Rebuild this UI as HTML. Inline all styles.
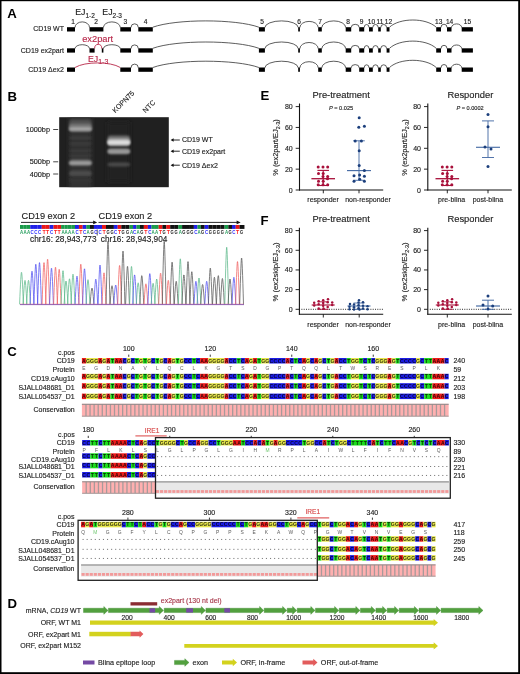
<!DOCTYPE html>
<html><head><meta charset="utf-8"><title>CD19 ex2part figure</title>
<style>
html,body{margin:0;padding:0;background:#fff;}
body{width:520px;height:674px;overflow:hidden;}
svg{display:block;font-family:"Liberation Sans", sans-serif;will-change:transform;}
text{stroke-linejoin:round;}
</style></head>
<body>
<svg width="520" height="674" viewBox="0 0 520 674" font-family='"Liberation Sans", sans-serif'>
<rect width="520" height="674" fill="#fff"/>
<rect x="0.00" y="0.00" width="520.00" height="1.20" fill="#000"/>
<rect x="0.00" y="0.00" width="1.50" height="674.00" fill="#000"/>
<rect x="518.20" y="0.00" width="1.80" height="674.00" fill="#000"/>
<rect x="0.00" y="672.20" width="520.00" height="1.80" fill="#000"/>
<text x="7.3" y="18.0" font-size="13.2" font-weight="bold" fill="#000">A</text>
<text x="7.6" y="100.6" font-size="13.2" font-weight="bold" fill="#000">B</text>
<text x="260.4" y="100.2" font-size="13.2" font-weight="bold" fill="#000">E</text>
<text x="260.4" y="225.0" font-size="13.2" font-weight="bold" fill="#000">F</text>
<text x="7.3" y="355.8" font-size="13.2" font-weight="bold" fill="#000">C</text>
<text x="7.6" y="608.2" font-size="13.2" font-weight="bold" fill="#000">D</text>
<rect x="67.00" y="27.20" width="8.00" height="4.30" fill="#000"/>
<rect x="89.50" y="27.20" width="13.90" height="4.30" fill="#000"/>
<rect x="120.30" y="27.20" width="10.70" height="4.30" fill="#000"/>
<rect x="138.30" y="27.20" width="14.50" height="4.30" fill="#000"/>
<rect x="258.90" y="27.20" width="6.00" height="4.30" fill="#000"/>
<rect x="298.20" y="27.20" width="1.70" height="4.30" fill="#000"/>
<rect x="318.20" y="27.20" width="3.60" height="4.30" fill="#000"/>
<rect x="345.70" y="27.20" width="5.50" height="4.30" fill="#000"/>
<rect x="359.20" y="27.20" width="5.00" height="4.30" fill="#000"/>
<rect x="369.00" y="27.20" width="3.80" height="4.30" fill="#000"/>
<rect x="378.20" y="27.20" width="2.60" height="4.30" fill="#000"/>
<rect x="386.60" y="27.20" width="2.90" height="4.30" fill="#000"/>
<rect x="436.20" y="27.20" width="4.80" height="4.30" fill="#000"/>
<rect x="447.00" y="27.20" width="4.50" height="4.30" fill="#000"/>
<rect x="461.70" y="27.20" width="11.20" height="4.30" fill="#000"/>
<path d="M75.00,27.50 A7.25,5.60 0 0 1 89.50,27.50" fill="none" stroke="#333" stroke-width="0.8"/>
<path d="M103.40,27.50 A8.45,5.60 0 0 1 120.30,27.50" fill="none" stroke="#333" stroke-width="0.8"/>
<path d="M131.00,27.50 A3.65,3.70 0 0 1 138.30,27.50" fill="none" stroke="#333" stroke-width="0.8"/>
<path d="M152.80,27.20 C176.14,18.80 235.56,18.80 258.90,27.20" fill="none" stroke="#333" stroke-width="0.8"/>
<path d="M264.90,27.50 A16.65,6.60 0 0 1 298.20,27.50" fill="none" stroke="#333" stroke-width="0.8"/>
<path d="M299.90,27.50 A9.15,6.10 0 0 1 318.20,27.50" fill="none" stroke="#333" stroke-width="0.8"/>
<path d="M321.80,27.50 A11.95,6.60 0 0 1 345.70,27.50" fill="none" stroke="#333" stroke-width="0.8"/>
<path d="M351.20,27.50 A4.00,3.20 0 0 1 359.20,27.50" fill="none" stroke="#333" stroke-width="0.8"/>
<path d="M364.20,27.50 A2.40,3.00 0 0 1 369.00,27.50" fill="none" stroke="#333" stroke-width="0.8"/>
<path d="M372.80,27.50 A2.70,3.00 0 0 1 378.20,27.50" fill="none" stroke="#333" stroke-width="0.8"/>
<path d="M380.80,27.50 A2.90,3.00 0 0 1 386.60,27.50" fill="none" stroke="#333" stroke-width="0.8"/>
<path d="M389.50,27.20 C399.77,17.60 425.93,17.60 436.20,27.20" fill="none" stroke="#333" stroke-width="0.8"/>
<path d="M441.00,27.50 A3.00,3.30 0 0 1 447.00,27.50" fill="none" stroke="#333" stroke-width="0.8"/>
<path d="M451.50,27.50 A5.10,3.60 0 0 1 461.70,27.50" fill="none" stroke="#333" stroke-width="0.8"/>
<rect x="67.00" y="48.30" width="8.00" height="4.30" fill="#000"/>
<rect x="89.50" y="48.30" width="5.10" height="4.30" fill="#000"/>
<rect x="101.80" y="48.30" width="1.60" height="4.30" fill="#000"/>
<path d="M94.60,48.60 A3.60,4.20 0 0 1 101.80,48.60" fill="none" stroke="#b8284a" stroke-width="0.9"/>
<rect x="120.30" y="48.30" width="10.70" height="4.30" fill="#000"/>
<rect x="138.30" y="48.30" width="14.50" height="4.30" fill="#000"/>
<rect x="258.90" y="48.30" width="6.00" height="4.30" fill="#000"/>
<rect x="298.20" y="48.30" width="1.70" height="4.30" fill="#000"/>
<rect x="318.20" y="48.30" width="3.60" height="4.30" fill="#000"/>
<rect x="345.70" y="48.30" width="5.50" height="4.30" fill="#000"/>
<rect x="359.20" y="48.30" width="5.00" height="4.30" fill="#000"/>
<rect x="369.00" y="48.30" width="3.80" height="4.30" fill="#000"/>
<rect x="378.20" y="48.30" width="2.60" height="4.30" fill="#000"/>
<rect x="386.60" y="48.30" width="2.90" height="4.30" fill="#000"/>
<rect x="436.20" y="48.30" width="4.80" height="4.30" fill="#000"/>
<rect x="447.00" y="48.30" width="4.50" height="4.30" fill="#000"/>
<rect x="461.70" y="48.30" width="11.20" height="4.30" fill="#000"/>
<path d="M75.00,48.60 A7.25,3.90 0 0 1 89.50,48.60" fill="none" stroke="#333" stroke-width="0.8"/>
<path d="M103.40,48.60 A8.45,3.90 0 0 1 120.30,48.60" fill="none" stroke="#333" stroke-width="0.8"/>
<path d="M131.00,48.60 A3.65,3.70 0 0 1 138.30,48.60" fill="none" stroke="#333" stroke-width="0.8"/>
<path d="M152.80,48.30 C176.14,39.90 235.56,39.90 258.90,48.30" fill="none" stroke="#333" stroke-width="0.8"/>
<path d="M264.90,48.60 A16.65,6.60 0 0 1 298.20,48.60" fill="none" stroke="#333" stroke-width="0.8"/>
<path d="M299.90,48.60 A9.15,6.10 0 0 1 318.20,48.60" fill="none" stroke="#333" stroke-width="0.8"/>
<path d="M321.80,48.60 A11.95,6.60 0 0 1 345.70,48.60" fill="none" stroke="#333" stroke-width="0.8"/>
<path d="M351.20,48.60 A4.00,3.20 0 0 1 359.20,48.60" fill="none" stroke="#333" stroke-width="0.8"/>
<path d="M364.20,48.60 A2.40,3.00 0 0 1 369.00,48.60" fill="none" stroke="#333" stroke-width="0.8"/>
<path d="M372.80,48.60 A2.70,3.00 0 0 1 378.20,48.60" fill="none" stroke="#333" stroke-width="0.8"/>
<path d="M380.80,48.60 A2.90,3.00 0 0 1 386.60,48.60" fill="none" stroke="#333" stroke-width="0.8"/>
<path d="M389.50,48.30 C399.77,38.70 425.93,38.70 436.20,48.30" fill="none" stroke="#333" stroke-width="0.8"/>
<path d="M441.00,48.60 A3.00,3.30 0 0 1 447.00,48.60" fill="none" stroke="#333" stroke-width="0.8"/>
<path d="M451.50,48.60 A5.10,3.60 0 0 1 461.70,48.60" fill="none" stroke="#333" stroke-width="0.8"/>
<rect x="67.00" y="67.50" width="8.00" height="4.30" fill="#000"/>
<rect x="120.30" y="67.50" width="10.70" height="4.30" fill="#000"/>
<rect x="138.30" y="67.50" width="14.50" height="4.30" fill="#000"/>
<rect x="258.90" y="67.50" width="6.00" height="4.30" fill="#000"/>
<rect x="298.20" y="67.50" width="1.70" height="4.30" fill="#000"/>
<rect x="318.20" y="67.50" width="3.60" height="4.30" fill="#000"/>
<rect x="345.70" y="67.50" width="5.50" height="4.30" fill="#000"/>
<rect x="359.20" y="67.50" width="5.00" height="4.30" fill="#000"/>
<rect x="369.00" y="67.50" width="3.80" height="4.30" fill="#000"/>
<rect x="378.20" y="67.50" width="2.60" height="4.30" fill="#000"/>
<rect x="386.60" y="67.50" width="2.90" height="4.30" fill="#000"/>
<rect x="436.20" y="67.50" width="4.80" height="4.30" fill="#000"/>
<rect x="447.00" y="67.50" width="4.50" height="4.30" fill="#000"/>
<rect x="461.70" y="67.50" width="11.20" height="4.30" fill="#000"/>
<path d="M131.00,67.80 A3.65,3.70 0 0 1 138.30,67.80" fill="none" stroke="#333" stroke-width="0.8"/>
<path d="M152.80,67.50 C176.14,59.10 235.56,59.10 258.90,67.50" fill="none" stroke="#333" stroke-width="0.8"/>
<path d="M264.90,67.80 A16.65,6.60 0 0 1 298.20,67.80" fill="none" stroke="#333" stroke-width="0.8"/>
<path d="M299.90,67.80 A9.15,6.10 0 0 1 318.20,67.80" fill="none" stroke="#333" stroke-width="0.8"/>
<path d="M321.80,67.80 A11.95,6.60 0 0 1 345.70,67.80" fill="none" stroke="#333" stroke-width="0.8"/>
<path d="M351.20,67.80 A4.00,3.20 0 0 1 359.20,67.80" fill="none" stroke="#333" stroke-width="0.8"/>
<path d="M364.20,67.80 A2.40,3.00 0 0 1 369.00,67.80" fill="none" stroke="#333" stroke-width="0.8"/>
<path d="M372.80,67.80 A2.70,3.00 0 0 1 378.20,67.80" fill="none" stroke="#333" stroke-width="0.8"/>
<path d="M380.80,67.80 A2.90,3.00 0 0 1 386.60,67.80" fill="none" stroke="#333" stroke-width="0.8"/>
<path d="M389.50,67.50 C399.77,57.90 425.93,57.90 436.20,67.50" fill="none" stroke="#333" stroke-width="0.8"/>
<path d="M441.00,67.80 A3.00,3.30 0 0 1 447.00,67.80" fill="none" stroke="#333" stroke-width="0.8"/>
<path d="M451.50,67.80 A5.10,3.60 0 0 1 461.70,67.80" fill="none" stroke="#333" stroke-width="0.8"/>
<path d="M75.00,67.50 C84.97,61.37 110.33,61.37 120.30,67.50" fill="none" stroke="#b8284a" stroke-width="0.9"/>
<text x="64" y="31.3" font-size="7" text-anchor="end" fill="#222" stroke="#222" stroke-width="0.14">CD19 WT</text>
<text x="64" y="52.6" font-size="7" text-anchor="end" fill="#222" stroke="#222" stroke-width="0.14">CD19 ex2part</text>
<text x="64" y="71.9" font-size="7" text-anchor="end" fill="#222" stroke="#222" stroke-width="0.14">CD19 &#916;ex2</text>
<text x="73" y="23.6" font-size="6.6" text-anchor="middle" fill="#222" stroke="#222" stroke-width="0.14">1</text>
<text x="96.2" y="23.6" font-size="6.6" text-anchor="middle" fill="#222" stroke="#222" stroke-width="0.14">2</text>
<text x="125.4" y="23.6" font-size="6.6" text-anchor="middle" fill="#222" stroke="#222" stroke-width="0.14">3</text>
<text x="145.6" y="23.6" font-size="6.6" text-anchor="middle" fill="#222" stroke="#222" stroke-width="0.14">4</text>
<text x="262" y="23.6" font-size="6.6" text-anchor="middle" fill="#222" stroke="#222" stroke-width="0.14">5</text>
<text x="299" y="23.6" font-size="6.6" text-anchor="middle" fill="#222" stroke="#222" stroke-width="0.14">6</text>
<text x="320" y="23.6" font-size="6.6" text-anchor="middle" fill="#222" stroke="#222" stroke-width="0.14">7</text>
<text x="348.2" y="23.6" font-size="6.6" text-anchor="middle" fill="#222" stroke="#222" stroke-width="0.14">8</text>
<text x="361.5" y="23.6" font-size="6.6" text-anchor="middle" fill="#222" stroke="#222" stroke-width="0.14">9</text>
<text x="371.5" y="23.6" font-size="6.6" text-anchor="middle" fill="#222" stroke="#222" stroke-width="0.14">10</text>
<text x="380" y="23.6" font-size="6.6" text-anchor="middle" fill="#222" stroke="#222" stroke-width="0.14">11</text>
<text x="388.5" y="23.6" font-size="6.6" text-anchor="middle" fill="#222" stroke="#222" stroke-width="0.14">12</text>
<text x="438.7" y="23.6" font-size="6.6" text-anchor="middle" fill="#222" stroke="#222" stroke-width="0.14">13</text>
<text x="449.6" y="23.6" font-size="6.6" text-anchor="middle" fill="#222" stroke="#222" stroke-width="0.14">14</text>
<text x="467.5" y="23.6" font-size="6.6" text-anchor="middle" fill="#222" stroke="#222" stroke-width="0.14">15</text>
<text x="75.2" y="15.4" font-size="8.8" fill="#222" stroke="#222" stroke-width="0.14">EJ<tspan font-size="6.5" dy="2.6">1-2</tspan></text>
<text x="102.3" y="15.4" font-size="8.8" fill="#222" stroke="#222" stroke-width="0.14">EJ<tspan font-size="6.5" dy="2.6">2-3</tspan></text>
<text x="97.7" y="41.6" font-size="9.3" text-anchor="middle" fill="#b8284a" stroke="#b8284a" stroke-width="0.14">ex2part</text>
<text x="88.0" y="61.5" font-size="8.8" fill="#b8284a" stroke="#b8284a" stroke-width="0.14">EJ<tspan font-size="6.9" dy="2.7">1-3</tspan></text>
<defs><filter id="bl" x="-30%" y="-100%" width="160%" height="300%"><feGaussianBlur stdDeviation="0.9"/></filter><filter id="bl2" x="-60%" y="-30%" width="220%" height="160%"><feGaussianBlur stdDeviation="2.2"/></filter><clipPath id="gelclip"><rect x="59.2" y="117.2" width="109.6" height="70"/></clipPath></defs>
<rect x="59.20" y="117.20" width="109.60" height="70.00" fill="#202020"/>
<g clip-path="url(#gelclip)">
<rect x="69.00" y="116.00" width="22.70" height="74.00" fill="#303030" filter="url(#bl2)"/>
<rect x="107.50" y="122.00" width="22.30" height="60.00" fill="#242424" filter="url(#bl2)"/>
<rect x="69.20" y="119.80" width="22.40" height="12.00" fill="#505050" rx="3" filter="url(#bl)"/>
<rect x="69.20" y="123.80" width="22.40" height="7.40" fill="#767676" rx="3" filter="url(#bl)"/>
<rect x="69.20" y="127.20" width="22.40" height="3.40" fill="#a8a8a8" rx="3" filter="url(#bl)"/>
<rect x="69.20" y="136.80" width="22.40" height="2.40" fill="#3c3c3c" rx="3" filter="url(#bl)"/>
<rect x="69.20" y="142.60" width="22.40" height="2.40" fill="#3c3c3c" rx="3" filter="url(#bl)"/>
<rect x="69.20" y="149.60" width="22.40" height="2.40" fill="#3a3a3a" rx="3" filter="url(#bl)"/>
<rect x="69.20" y="154.60" width="22.40" height="2.40" fill="#3a3a3a" rx="3" filter="url(#bl)"/>
<rect x="69.20" y="159.40" width="22.40" height="6.40" fill="#686868" rx="3" filter="url(#bl)"/>
<rect x="69.20" y="161.60" width="22.40" height="3.00" fill="#a4a4a4" rx="3" filter="url(#bl)"/>
<rect x="69.20" y="170.80" width="22.40" height="5.20" fill="#4c4c4c" rx="3" filter="url(#bl)"/>
<rect x="69.20" y="178.60" width="22.40" height="3.50" fill="#343434" rx="3" filter="url(#bl)"/>
<rect x="107.60" y="135.40" width="22.40" height="10.60" fill="#6c6c6c" rx="3" filter="url(#bl)"/>
<rect x="107.60" y="138.40" width="22.40" height="7.00" fill="#aaaaaa" rx="3" filter="url(#bl)"/>
<rect x="107.60" y="140.60" width="22.40" height="3.60" fill="#e2e2e2" rx="3" filter="url(#bl)"/>
<rect x="107.60" y="148.20" width="22.40" height="6.00" fill="#7e7e7e" rx="3" filter="url(#bl)"/>
<rect x="107.60" y="150.20" width="22.40" height="2.60" fill="#a2a2a2" rx="3" filter="url(#bl)"/>
<rect x="107.60" y="162.60" width="22.40" height="3.80" fill="#4a4a4a" rx="3" filter="url(#bl)"/>
</g>
<line x1="53.20" y1="129.50" x2="58.20" y2="129.50" stroke="#333" stroke-width="0.9"/>
<text x="50.0" y="132.0" font-size="7.3" text-anchor="end" fill="#222" stroke="#222" stroke-width="0.14">1000bp</text>
<line x1="53.20" y1="161.80" x2="58.20" y2="161.80" stroke="#333" stroke-width="0.9"/>
<text x="50.0" y="164.3" font-size="7.3" text-anchor="end" fill="#222" stroke="#222" stroke-width="0.14">500bp</text>
<line x1="53.20" y1="174.00" x2="58.20" y2="174.00" stroke="#333" stroke-width="0.9"/>
<text x="50.0" y="176.5" font-size="7.3" text-anchor="end" fill="#222" stroke="#222" stroke-width="0.14">400bp</text>
<line x1="172.50" y1="140.00" x2="179.80" y2="140.00" stroke="#111" stroke-width="0.9"/>
<path d="M170.6,140.00 L173.6,138.30 L173.6,141.70 Z" fill="#111"/>
<text x="182" y="142.4" font-size="7" fill="#222" stroke="#222" stroke-width="0.14">CD19 WT</text>
<line x1="172.50" y1="151.20" x2="179.80" y2="151.20" stroke="#111" stroke-width="0.9"/>
<path d="M170.6,151.20 L173.6,149.50 L173.6,152.90 Z" fill="#111"/>
<text x="182" y="153.6" font-size="7" fill="#222" stroke="#222" stroke-width="0.14">CD19 ex2part</text>
<line x1="172.50" y1="165.20" x2="179.80" y2="165.20" stroke="#111" stroke-width="0.9"/>
<path d="M170.6,165.20 L173.6,163.50 L173.6,166.90 Z" fill="#111"/>
<text x="182" y="167.6" font-size="7" fill="#222" stroke="#222" stroke-width="0.14">CD19 &#916;ex2</text>
<text x="115.2" y="113.2" font-size="7" fill="#222" stroke="#222" stroke-width="0.14" transform="rotate(-45 115.2 113.2)">KOPN75</text>
<text x="145.6" y="113.2" font-size="7" fill="#222" stroke="#222" stroke-width="0.14" transform="rotate(-45 145.6 113.2)">NTC</text>
<line x1="21.00" y1="222.40" x2="95.00" y2="222.40" stroke="#111" stroke-width="0.9"/>
<path d="M97.2,222.4 L93.2,220.6 L93.2,224.2 Z" fill="#111"/>
<line x1="98.50" y1="222.40" x2="238.00" y2="222.40" stroke="#111" stroke-width="0.9"/>
<path d="M240.6,222.4 L236.6,220.6 L236.6,224.2 Z" fill="#111"/>
<text x="21.5" y="219.2" font-size="9.2" fill="#222" stroke="#222" stroke-width="0.14">CD19 exon 2</text>
<text x="98.5" y="219.2" font-size="9.2" fill="#222" stroke="#222" stroke-width="0.14">CD19 exon 2</text>
<line x1="97.20" y1="229.50" x2="97.20" y2="235.50" stroke="#111" stroke-width="0.7"/>
<text x="30" y="241.8" font-size="8.25" fill="#222" stroke="#222" stroke-width="0.14">chr16: 28,943,773</text>
<text x="100.8" y="241.8" font-size="8.25" fill="#222" stroke="#222" stroke-width="0.14">chr16: 28,943,904</text>
<rect x="20.00" y="225.00" width="3.30" height="3.90" fill="#1a9a4a"/>
<text x="21.5" y="233.8" font-size="4.6" text-anchor="middle" font-weight="bold" fill="#2aa060" textLength="3.2" lengthAdjust="spacingAndGlyphs">A</text>
<rect x="23.25" y="225.00" width="3.55" height="3.90" fill="#1a9a4a"/>
<text x="25" y="233.8" font-size="4.6" text-anchor="middle" font-weight="bold" fill="#2aa060" textLength="3.2" lengthAdjust="spacingAndGlyphs">A</text>
<rect x="26.75" y="225.00" width="3.55" height="3.90" fill="#1a9a4a"/>
<text x="28.5" y="233.8" font-size="4.6" text-anchor="middle" font-weight="bold" fill="#2aa060" textLength="3.2" lengthAdjust="spacingAndGlyphs">A</text>
<rect x="30.25" y="225.00" width="3.70" height="3.90" fill="#2020e8"/>
<text x="32" y="233.8" font-size="4.6" text-anchor="middle" font-weight="bold" fill="#3030ff" textLength="3.2" lengthAdjust="spacingAndGlyphs">C</text>
<rect x="33.90" y="225.00" width="3.80" height="3.90" fill="#2020e8"/>
<text x="35.8" y="233.8" font-size="4.6" text-anchor="middle" font-weight="bold" fill="#3030ff" textLength="3.2" lengthAdjust="spacingAndGlyphs">C</text>
<rect x="37.65" y="225.00" width="4.15" height="3.90" fill="#2020e8"/>
<text x="39.5" y="233.8" font-size="4.6" text-anchor="middle" font-weight="bold" fill="#3030ff" textLength="3.2" lengthAdjust="spacingAndGlyphs">C</text>
<rect x="41.75" y="225.00" width="4.10" height="3.90" fill="#e81818"/>
<text x="44" y="233.8" font-size="4.6" text-anchor="middle" font-weight="bold" fill="#ff2020" textLength="3.2" lengthAdjust="spacingAndGlyphs">T</text>
<rect x="45.80" y="225.00" width="3.80" height="3.90" fill="#e81818"/>
<text x="47.6" y="233.8" font-size="4.6" text-anchor="middle" font-weight="bold" fill="#ff2020" textLength="3.2" lengthAdjust="spacingAndGlyphs">T</text>
<rect x="49.55" y="225.00" width="4.00" height="3.90" fill="#2020e8"/>
<text x="51.5" y="233.8" font-size="4.6" text-anchor="middle" font-weight="bold" fill="#3030ff" textLength="3.2" lengthAdjust="spacingAndGlyphs">C</text>
<rect x="53.50" y="225.00" width="3.90" height="3.90" fill="#e81818"/>
<text x="55.5" y="233.8" font-size="4.6" text-anchor="middle" font-weight="bold" fill="#ff2020" textLength="3.2" lengthAdjust="spacingAndGlyphs">T</text>
<rect x="57.35" y="225.00" width="3.80" height="3.90" fill="#e81818"/>
<text x="59.2" y="233.8" font-size="4.6" text-anchor="middle" font-weight="bold" fill="#ff2020" textLength="3.2" lengthAdjust="spacingAndGlyphs">T</text>
<rect x="61.10" y="225.00" width="3.45" height="3.90" fill="#1a9a4a"/>
<text x="63" y="233.8" font-size="4.6" text-anchor="middle" font-weight="bold" fill="#2aa060" textLength="3.2" lengthAdjust="spacingAndGlyphs">A</text>
<rect x="64.50" y="225.00" width="3.30" height="3.90" fill="#1a9a4a"/>
<text x="66" y="233.8" font-size="4.6" text-anchor="middle" font-weight="bold" fill="#2aa060" textLength="3.2" lengthAdjust="spacingAndGlyphs">A</text>
<rect x="67.75" y="225.00" width="3.55" height="3.90" fill="#1a9a4a"/>
<text x="69.5" y="233.8" font-size="4.6" text-anchor="middle" font-weight="bold" fill="#2aa060" textLength="3.2" lengthAdjust="spacingAndGlyphs">A</text>
<rect x="71.25" y="225.00" width="3.80" height="3.90" fill="#1a9a4a"/>
<text x="73" y="233.8" font-size="4.6" text-anchor="middle" font-weight="bold" fill="#2aa060" textLength="3.2" lengthAdjust="spacingAndGlyphs">A</text>
<rect x="75.00" y="225.00" width="3.95" height="3.90" fill="#2020e8"/>
<text x="77" y="233.8" font-size="4.6" text-anchor="middle" font-weight="bold" fill="#3030ff" textLength="3.2" lengthAdjust="spacingAndGlyphs">C</text>
<rect x="78.90" y="225.00" width="3.80" height="3.90" fill="#e81818"/>
<text x="80.8" y="233.8" font-size="4.6" text-anchor="middle" font-weight="bold" fill="#ff2020" textLength="3.2" lengthAdjust="spacingAndGlyphs">T</text>
<rect x="82.65" y="225.00" width="3.65" height="3.90" fill="#2020e8"/>
<text x="84.5" y="233.8" font-size="4.6" text-anchor="middle" font-weight="bold" fill="#3030ff" textLength="3.2" lengthAdjust="spacingAndGlyphs">C</text>
<rect x="86.25" y="225.00" width="3.80" height="3.90" fill="#1a9a4a"/>
<text x="88" y="233.8" font-size="4.6" text-anchor="middle" font-weight="bold" fill="#2aa060" textLength="3.2" lengthAdjust="spacingAndGlyphs">A</text>
<rect x="90.00" y="225.00" width="3.95" height="3.90" fill="#111"/>
<text x="92" y="233.8" font-size="4.6" text-anchor="middle" font-weight="bold" fill="#222" textLength="3.2" lengthAdjust="spacingAndGlyphs">G</text>
<rect x="93.90" y="225.00" width="4.05" height="3.90" fill="#2020e8"/>
<text x="95.8" y="233.8" font-size="4.6" text-anchor="middle" font-weight="bold" fill="#3030ff" textLength="3.2" lengthAdjust="spacingAndGlyphs">C</text>
<rect x="97.90" y="225.00" width="4.15" height="3.90" fill="#2020e8"/>
<text x="100" y="233.8" font-size="4.6" text-anchor="middle" font-weight="bold" fill="#3030ff" textLength="3.2" lengthAdjust="spacingAndGlyphs">C</text>
<rect x="102.00" y="225.00" width="4.05" height="3.90" fill="#e81818"/>
<text x="104" y="233.8" font-size="4.6" text-anchor="middle" font-weight="bold" fill="#ff2020" textLength="3.2" lengthAdjust="spacingAndGlyphs">T</text>
<rect x="106.00" y="225.00" width="4.05" height="3.90" fill="#111"/>
<text x="108" y="233.8" font-size="4.6" text-anchor="middle" font-weight="bold" fill="#222" textLength="3.2" lengthAdjust="spacingAndGlyphs">G</text>
<rect x="110.00" y="225.00" width="3.90" height="3.90" fill="#111"/>
<text x="112" y="233.8" font-size="4.6" text-anchor="middle" font-weight="bold" fill="#222" textLength="3.2" lengthAdjust="spacingAndGlyphs">G</text>
<rect x="113.85" y="225.00" width="3.85" height="3.90" fill="#2020e8"/>
<text x="115.7" y="233.8" font-size="4.6" text-anchor="middle" font-weight="bold" fill="#3030ff" textLength="3.2" lengthAdjust="spacingAndGlyphs">C</text>
<rect x="117.65" y="225.00" width="3.70" height="3.90" fill="#e81818"/>
<text x="119.6" y="233.8" font-size="4.6" text-anchor="middle" font-weight="bold" fill="#ff2020" textLength="3.2" lengthAdjust="spacingAndGlyphs">T</text>
<rect x="121.30" y="225.00" width="4.00" height="3.90" fill="#111"/>
<text x="123" y="233.8" font-size="4.6" text-anchor="middle" font-weight="bold" fill="#222" textLength="3.2" lengthAdjust="spacingAndGlyphs">G</text>
<rect x="125.25" y="225.00" width="4.30" height="3.90" fill="#111"/>
<text x="127.5" y="233.8" font-size="4.6" text-anchor="middle" font-weight="bold" fill="#222" textLength="3.2" lengthAdjust="spacingAndGlyphs">G</text>
<rect x="129.50" y="225.00" width="3.60" height="3.90" fill="#1a9a4a"/>
<text x="131.5" y="233.8" font-size="4.6" text-anchor="middle" font-weight="bold" fill="#2aa060" textLength="3.2" lengthAdjust="spacingAndGlyphs">A</text>
<rect x="133.05" y="225.00" width="3.40" height="3.90" fill="#2020e8"/>
<text x="134.6" y="233.8" font-size="4.6" text-anchor="middle" font-weight="bold" fill="#3030ff" textLength="3.2" lengthAdjust="spacingAndGlyphs">C</text>
<rect x="136.40" y="225.00" width="3.65" height="3.90" fill="#1a9a4a"/>
<text x="138.2" y="233.8" font-size="4.6" text-anchor="middle" font-weight="bold" fill="#2aa060" textLength="3.2" lengthAdjust="spacingAndGlyphs">A</text>
<rect x="140.00" y="225.00" width="3.90" height="3.90" fill="#111"/>
<text x="141.8" y="233.8" font-size="4.6" text-anchor="middle" font-weight="bold" fill="#222" textLength="3.2" lengthAdjust="spacingAndGlyphs">G</text>
<rect x="143.85" y="225.00" width="4.05" height="3.90" fill="#e81818"/>
<text x="145.9" y="233.8" font-size="4.6" text-anchor="middle" font-weight="bold" fill="#ff2020" textLength="3.2" lengthAdjust="spacingAndGlyphs">T</text>
<rect x="147.85" y="225.00" width="3.65" height="3.90" fill="#2020e8"/>
<text x="149.8" y="233.8" font-size="4.6" text-anchor="middle" font-weight="bold" fill="#3030ff" textLength="3.2" lengthAdjust="spacingAndGlyphs">C</text>
<rect x="151.45" y="225.00" width="3.50" height="3.90" fill="#1a9a4a"/>
<text x="153.1" y="233.8" font-size="4.6" text-anchor="middle" font-weight="bold" fill="#2aa060" textLength="3.2" lengthAdjust="spacingAndGlyphs">A</text>
<rect x="154.90" y="225.00" width="3.80" height="3.90" fill="#1a9a4a"/>
<text x="156.7" y="233.8" font-size="4.6" text-anchor="middle" font-weight="bold" fill="#2aa060" textLength="3.2" lengthAdjust="spacingAndGlyphs">A</text>
<rect x="158.65" y="225.00" width="3.80" height="3.90" fill="#e81818"/>
<text x="160.6" y="233.8" font-size="4.6" text-anchor="middle" font-weight="bold" fill="#ff2020" textLength="3.2" lengthAdjust="spacingAndGlyphs">T</text>
<rect x="162.40" y="225.00" width="3.90" height="3.90" fill="#111"/>
<text x="164.2" y="233.8" font-size="4.6" text-anchor="middle" font-weight="bold" fill="#222" textLength="3.2" lengthAdjust="spacingAndGlyphs">G</text>
<rect x="166.25" y="225.00" width="4.00" height="3.90" fill="#e81818"/>
<text x="168.3" y="233.8" font-size="4.6" text-anchor="middle" font-weight="bold" fill="#ff2020" textLength="3.2" lengthAdjust="spacingAndGlyphs">T</text>
<rect x="170.20" y="225.00" width="4.00" height="3.90" fill="#111"/>
<text x="172.1" y="233.8" font-size="4.6" text-anchor="middle" font-weight="bold" fill="#222" textLength="3.2" lengthAdjust="spacingAndGlyphs">G</text>
<rect x="174.15" y="225.00" width="4.15" height="3.90" fill="#111"/>
<text x="176.2" y="233.8" font-size="4.6" text-anchor="middle" font-weight="bold" fill="#222" textLength="3.2" lengthAdjust="spacingAndGlyphs">G</text>
<rect x="178.25" y="225.00" width="3.90" height="3.90" fill="#1a9a4a"/>
<text x="180.3" y="233.8" font-size="4.6" text-anchor="middle" font-weight="bold" fill="#2aa060" textLength="3.2" lengthAdjust="spacingAndGlyphs">A</text>
<rect x="182.10" y="225.00" width="3.90" height="3.90" fill="#111"/>
<text x="183.9" y="233.8" font-size="4.6" text-anchor="middle" font-weight="bold" fill="#222" textLength="3.2" lengthAdjust="spacingAndGlyphs">G</text>
<rect x="185.95" y="225.00" width="4.00" height="3.90" fill="#111"/>
<text x="188" y="233.8" font-size="4.6" text-anchor="middle" font-weight="bold" fill="#222" textLength="3.2" lengthAdjust="spacingAndGlyphs">G</text>
<rect x="189.90" y="225.00" width="4.00" height="3.90" fill="#111"/>
<text x="191.8" y="233.8" font-size="4.6" text-anchor="middle" font-weight="bold" fill="#222" textLength="3.2" lengthAdjust="spacingAndGlyphs">G</text>
<rect x="193.85" y="225.00" width="3.65" height="3.90" fill="#2020e8"/>
<text x="195.9" y="233.8" font-size="4.6" text-anchor="middle" font-weight="bold" fill="#3030ff" textLength="3.2" lengthAdjust="spacingAndGlyphs">C</text>
<rect x="197.45" y="225.00" width="3.40" height="3.90" fill="#1a9a4a"/>
<text x="199" y="233.8" font-size="4.6" text-anchor="middle" font-weight="bold" fill="#2aa060" textLength="3.2" lengthAdjust="spacingAndGlyphs">A</text>
<rect x="200.80" y="225.00" width="3.90" height="3.90" fill="#111"/>
<text x="202.6" y="233.8" font-size="4.6" text-anchor="middle" font-weight="bold" fill="#222" textLength="3.2" lengthAdjust="spacingAndGlyphs">G</text>
<rect x="204.65" y="225.00" width="3.90" height="3.90" fill="#2020e8"/>
<text x="206.7" y="233.8" font-size="4.6" text-anchor="middle" font-weight="bold" fill="#3030ff" textLength="3.2" lengthAdjust="spacingAndGlyphs">C</text>
<rect x="208.50" y="225.00" width="3.90" height="3.90" fill="#111"/>
<text x="210.3" y="233.8" font-size="4.6" text-anchor="middle" font-weight="bold" fill="#222" textLength="3.2" lengthAdjust="spacingAndGlyphs">G</text>
<rect x="212.35" y="225.00" width="4.05" height="3.90" fill="#111"/>
<text x="214.4" y="233.8" font-size="4.6" text-anchor="middle" font-weight="bold" fill="#222" textLength="3.2" lengthAdjust="spacingAndGlyphs">G</text>
<rect x="216.35" y="225.00" width="4.05" height="3.90" fill="#111"/>
<text x="218.3" y="233.8" font-size="4.6" text-anchor="middle" font-weight="bold" fill="#222" textLength="3.2" lengthAdjust="spacingAndGlyphs">G</text>
<rect x="220.35" y="225.00" width="4.25" height="3.90" fill="#111"/>
<text x="222.4" y="233.8" font-size="4.6" text-anchor="middle" font-weight="bold" fill="#222" textLength="3.2" lengthAdjust="spacingAndGlyphs">G</text>
<rect x="224.55" y="225.00" width="3.85" height="3.90" fill="#1a9a4a"/>
<text x="226.7" y="233.8" font-size="4.6" text-anchor="middle" font-weight="bold" fill="#2aa060" textLength="3.2" lengthAdjust="spacingAndGlyphs">A</text>
<rect x="228.35" y="225.00" width="3.65" height="3.90" fill="#111"/>
<text x="230" y="233.8" font-size="4.6" text-anchor="middle" font-weight="bold" fill="#222" textLength="3.2" lengthAdjust="spacingAndGlyphs">G</text>
<rect x="231.95" y="225.00" width="3.80" height="3.90" fill="#2020e8"/>
<text x="233.9" y="233.8" font-size="4.6" text-anchor="middle" font-weight="bold" fill="#3030ff" textLength="3.2" lengthAdjust="spacingAndGlyphs">C</text>
<rect x="235.70" y="225.00" width="3.90" height="3.90" fill="#e81818"/>
<text x="237.5" y="233.8" font-size="4.6" text-anchor="middle" font-weight="bold" fill="#ff2020" textLength="3.2" lengthAdjust="spacingAndGlyphs">T</text>
<rect x="239.55" y="225.00" width="4.90" height="3.90" fill="#111"/>
<text x="241.6" y="233.8" font-size="4.6" text-anchor="middle" font-weight="bold" fill="#222" textLength="3.2" lengthAdjust="spacingAndGlyphs">G</text>
<path d="M19.60,304.3 Q20.95,270.80 21.50,272.30 Q22.05,270.80 23.40,304.3" fill="none" stroke="#5cb88a" stroke-width="0.75"/>
<path d="M23.10,304.3 Q24.45,278.90 25.00,280.40 Q25.55,278.90 26.90,304.3" fill="none" stroke="#5cb88a" stroke-width="0.75"/>
<path d="M26.60,304.3 Q27.95,278.90 28.50,280.40 Q29.05,278.90 30.40,304.3" fill="none" stroke="#5cb88a" stroke-width="0.75"/>
<path d="M30.10,304.3 Q31.45,269.70 32.00,271.20 Q32.55,269.70 33.90,304.3" fill="none" stroke="#5050f0" stroke-width="0.75"/>
<path d="M33.90,304.3 Q35.25,262.70 35.80,264.20 Q36.35,262.70 37.70,304.3" fill="none" stroke="#5050f0" stroke-width="0.75"/>
<path d="M37.60,304.3 Q38.95,261.10 39.50,262.60 Q40.05,261.10 41.40,304.3" fill="none" stroke="#5050f0" stroke-width="0.75"/>
<path d="M42.10,304.3 Q43.45,261.10 44.00,262.60 Q44.55,261.10 45.90,304.3" fill="none" stroke="#f06060" stroke-width="0.75"/>
<path d="M45.70,304.3 Q47.05,257.70 47.60,259.20 Q48.15,257.70 49.50,304.3" fill="none" stroke="#f06060" stroke-width="0.75"/>
<path d="M49.60,304.3 Q50.95,266.70 51.50,268.20 Q52.05,266.70 53.40,304.3" fill="none" stroke="#5050f0" stroke-width="0.75"/>
<path d="M53.60,304.3 Q54.95,265.70 55.50,267.20 Q56.05,265.70 57.40,304.3" fill="none" stroke="#f06060" stroke-width="0.75"/>
<path d="M57.30,304.3 Q58.65,267.80 59.20,269.30 Q59.75,267.80 61.10,304.3" fill="none" stroke="#f06060" stroke-width="0.75"/>
<path d="M61.10,304.3 Q62.45,269.20 63.00,270.70 Q63.55,269.20 64.90,304.3" fill="none" stroke="#5cb88a" stroke-width="0.75"/>
<path d="M64.10,304.3 Q65.45,279.50 66.00,281.00 Q66.55,279.50 67.90,304.3" fill="none" stroke="#5cb88a" stroke-width="0.75"/>
<path d="M67.60,304.3 Q68.95,277.30 69.50,278.80 Q70.05,277.30 71.40,304.3" fill="none" stroke="#5cb88a" stroke-width="0.75"/>
<path d="M71.10,304.3 Q72.45,272.70 73.00,274.20 Q73.55,272.70 74.90,304.3" fill="none" stroke="#5cb88a" stroke-width="0.75"/>
<path d="M75.10,304.3 Q76.45,274.70 77.00,276.20 Q77.55,274.70 78.90,304.3" fill="none" stroke="#5050f0" stroke-width="0.75"/>
<path d="M78.90,304.3 Q80.25,262.70 80.80,264.20 Q81.35,262.70 82.70,304.3" fill="none" stroke="#f06060" stroke-width="0.75"/>
<path d="M82.60,304.3 Q83.95,267.30 84.50,268.80 Q85.05,267.30 86.40,304.3" fill="none" stroke="#5050f0" stroke-width="0.75"/>
<path d="M86.10,304.3 Q87.45,278.20 88.00,279.70 Q88.55,278.20 89.90,304.3" fill="none" stroke="#5cb88a" stroke-width="0.75"/>
<path d="M90.10,304.3 Q91.45,286.50 92.00,288.00 Q92.55,286.50 93.90,304.3" fill="none" stroke="#555" stroke-width="0.75"/>
<path d="M93.90,304.3 Q95.25,277.70 95.80,279.20 Q96.35,277.70 97.70,304.3" fill="none" stroke="#5050f0" stroke-width="0.75"/>
<path d="M98.10,304.3 Q99.45,263.50 100.00,265.00 Q100.55,263.50 101.90,304.3" fill="none" stroke="#5050f0" stroke-width="0.75"/>
<path d="M102.10,304.3 Q103.45,271.30 104.00,272.80 Q104.55,271.30 105.90,304.3" fill="none" stroke="#f06060" stroke-width="0.75"/>
<path d="M106.10,304.3 Q107.45,239.70 108.00,241.20 Q108.55,239.70 109.90,304.3" fill="none" stroke="#555" stroke-width="0.75"/>
<path d="M110.10,304.3 Q111.45,284.20 112.00,285.70 Q112.55,284.20 113.90,304.3" fill="none" stroke="#555" stroke-width="0.75"/>
<path d="M113.80,304.3 Q115.15,283.50 115.70,285.00 Q116.25,283.50 117.60,304.3" fill="none" stroke="#5050f0" stroke-width="0.75"/>
<path d="M117.70,304.3 Q119.05,263.90 119.60,265.40 Q120.15,263.90 121.50,304.3" fill="none" stroke="#f06060" stroke-width="0.75"/>
<path d="M121.10,304.3 Q122.45,249.50 123.00,251.00 Q123.55,249.50 124.90,304.3" fill="none" stroke="#555" stroke-width="0.75"/>
<path d="M125.60,304.3 Q126.95,264.80 127.50,266.30 Q128.05,264.80 129.40,304.3" fill="none" stroke="#555" stroke-width="0.75"/>
<path d="M129.60,304.3 Q130.95,264.90 131.50,266.40 Q132.05,264.90 133.40,304.3" fill="none" stroke="#5cb88a" stroke-width="0.75"/>
<path d="M132.70,304.3 Q134.05,273.40 134.60,274.90 Q135.15,273.40 136.50,304.3" fill="none" stroke="#5050f0" stroke-width="0.75"/>
<path d="M136.30,304.3 Q137.65,281.30 138.20,282.80 Q138.75,281.30 140.10,304.3" fill="none" stroke="#5cb88a" stroke-width="0.75"/>
<path d="M139.90,304.3 Q141.25,274.10 141.80,275.60 Q142.35,274.10 143.70,304.3" fill="none" stroke="#555" stroke-width="0.75"/>
<path d="M144.00,304.3 Q145.35,282.30 145.90,283.80 Q146.45,282.30 147.80,304.3" fill="none" stroke="#f06060" stroke-width="0.75"/>
<path d="M147.90,304.3 Q149.25,272.10 149.80,273.60 Q150.35,272.10 151.70,304.3" fill="none" stroke="#5050f0" stroke-width="0.75"/>
<path d="M151.20,304.3 Q152.55,281.80 153.10,283.30 Q153.65,281.80 155.00,304.3" fill="none" stroke="#5cb88a" stroke-width="0.75"/>
<path d="M154.80,304.3 Q156.15,277.50 156.70,279.00 Q157.25,277.50 158.60,304.3" fill="none" stroke="#5cb88a" stroke-width="0.75"/>
<path d="M158.70,304.3 Q160.05,271.70 160.60,273.20 Q161.15,271.70 162.50,304.3" fill="none" stroke="#f06060" stroke-width="0.75"/>
<path d="M162.30,304.3 Q163.65,239.70 164.20,241.20 Q164.75,239.70 166.10,304.3" fill="none" stroke="#555" stroke-width="0.75"/>
<path d="M166.40,304.3 Q167.75,278.90 168.30,280.40 Q168.85,278.90 170.20,304.3" fill="none" stroke="#f06060" stroke-width="0.75"/>
<path d="M170.20,304.3 Q171.55,260.60 172.10,262.10 Q172.65,260.60 174.00,304.3" fill="none" stroke="#555" stroke-width="0.75"/>
<path d="M174.30,304.3 Q175.65,279.80 176.20,281.30 Q176.75,279.80 178.10,304.3" fill="none" stroke="#555" stroke-width="0.75"/>
<path d="M178.40,304.3 Q179.75,257.30 180.30,258.80 Q180.85,257.30 182.20,304.3" fill="none" stroke="#5cb88a" stroke-width="0.75"/>
<path d="M182.00,304.3 Q183.35,273.40 183.90,274.90 Q184.45,273.40 185.80,304.3" fill="none" stroke="#555" stroke-width="0.75"/>
<path d="M186.10,304.3 Q187.45,260.10 188.00,261.60 Q188.55,260.10 189.90,304.3" fill="none" stroke="#555" stroke-width="0.75"/>
<path d="M189.90,304.3 Q191.25,270.20 191.80,271.70 Q192.35,270.20 193.70,304.3" fill="none" stroke="#555" stroke-width="0.75"/>
<path d="M194.00,304.3 Q195.35,279.80 195.90,281.30 Q196.45,279.80 197.80,304.3" fill="none" stroke="#5050f0" stroke-width="0.75"/>
<path d="M197.10,304.3 Q198.45,276.50 199.00,278.00 Q199.55,276.50 200.90,304.3" fill="none" stroke="#5cb88a" stroke-width="0.75"/>
<path d="M200.70,304.3 Q202.05,283.00 202.60,284.50 Q203.15,283.00 204.50,304.3" fill="none" stroke="#555" stroke-width="0.75"/>
<path d="M204.80,304.3 Q206.15,279.80 206.70,281.30 Q207.25,279.80 208.60,304.3" fill="none" stroke="#5050f0" stroke-width="0.75"/>
<path d="M208.40,304.3 Q209.75,266.60 210.30,268.10 Q210.85,266.60 212.20,304.3" fill="none" stroke="#555" stroke-width="0.75"/>
<path d="M212.50,304.3 Q213.85,275.80 214.40,277.30 Q214.95,275.80 216.30,304.3" fill="none" stroke="#555" stroke-width="0.75"/>
<path d="M216.40,304.3 Q217.75,274.10 218.30,275.60 Q218.85,274.10 220.20,304.3" fill="none" stroke="#555" stroke-width="0.75"/>
<path d="M220.50,304.3 Q221.85,277.00 222.40,278.50 Q222.95,277.00 224.30,304.3" fill="none" stroke="#555" stroke-width="0.75"/>
<path d="M224.80,304.3 Q226.15,245.70 226.70,247.20 Q227.25,245.70 228.60,304.3" fill="none" stroke="#5cb88a" stroke-width="0.75"/>
<path d="M228.10,304.3 Q229.45,277.50 230.00,279.00 Q230.55,277.50 231.90,304.3" fill="none" stroke="#555" stroke-width="0.75"/>
<path d="M232.00,304.3 Q233.35,275.80 233.90,277.30 Q234.45,275.80 235.80,304.3" fill="none" stroke="#5050f0" stroke-width="0.75"/>
<path d="M235.60,304.3 Q236.95,260.10 237.50,261.60 Q238.05,260.10 239.40,304.3" fill="none" stroke="#f06060" stroke-width="0.75"/>
<path d="M239.70,304.3 Q241.05,256.50 241.60,258.00 Q242.15,256.50 243.50,304.3" fill="none" stroke="#555" stroke-width="0.75"/>
<path d="M20,304.6 L244,304.6" stroke="#7a4ab0" stroke-width="0.9"/>
<path d="M20,303.90000000000003 L244,303.90000000000003" stroke="#e07070" stroke-width="0.5" opacity="0.6"/>
<line x1="299.50" y1="103.50" x2="299.50" y2="190.50" stroke="#111" stroke-width="1.1"/>
<line x1="299.00" y1="190.00" x2="383.20" y2="190.00" stroke="#111" stroke-width="1.1"/>
<line x1="295.70" y1="190.00" x2="299.50" y2="190.00" stroke="#111" stroke-width="0.9"/>
<text x="292.7" y="192.5" font-size="7" text-anchor="end" fill="#222" stroke="#222" stroke-width="0.14">0</text>
<line x1="295.70" y1="169.15" x2="299.50" y2="169.15" stroke="#111" stroke-width="0.9"/>
<text x="292.7" y="171.65" font-size="7" text-anchor="end" fill="#222" stroke="#222" stroke-width="0.14">20</text>
<line x1="295.70" y1="148.30" x2="299.50" y2="148.30" stroke="#111" stroke-width="0.9"/>
<text x="292.7" y="150.8" font-size="7" text-anchor="end" fill="#222" stroke="#222" stroke-width="0.14">40</text>
<line x1="295.70" y1="127.45" x2="299.50" y2="127.45" stroke="#111" stroke-width="0.9"/>
<text x="292.7" y="129.95" font-size="7" text-anchor="end" fill="#222" stroke="#222" stroke-width="0.14">60</text>
<line x1="295.70" y1="106.60" x2="299.50" y2="106.60" stroke="#111" stroke-width="0.9"/>
<text x="292.7" y="109.1" font-size="7" text-anchor="end" fill="#222" stroke="#222" stroke-width="0.14">80</text>
<line x1="323.30" y1="190.00" x2="323.30" y2="193.30" stroke="#111" stroke-width="0.9"/>
<line x1="359.00" y1="190.00" x2="359.00" y2="193.30" stroke="#111" stroke-width="0.9"/>
<text x="307.3" y="202.4" font-size="7" fill="#222" stroke="#222" stroke-width="0.14">responder</text>
<text x="345.2" y="202.4" font-size="7" fill="#222" stroke="#222" stroke-width="0.14">non-responder</text>
<text x="341.2" y="97.5" font-size="9.4" text-anchor="middle" fill="#222" stroke="#222" stroke-width="0.14">Pre-treatment</text>
<text x="329" y="110.19999999999999" font-size="5.6" fill="#222" stroke="#222" stroke-width="0.14"><tspan font-style="italic">P</tspan> = 0.025</text>
<text x="278.20" y="147.50" font-size="8" text-anchor="middle" fill="#222" stroke="#222" stroke-width="0.14" transform="rotate(-90 278.20 147.50)" textLength="56.5" lengthAdjust="spacingAndGlyphs">% (ex2part/EJ<tspan font-size="5.6" dy="2">2-3</tspan><tspan dy="-2">)</tspan></text>
<line x1="323.20" y1="170.40" x2="323.20" y2="185.50" stroke="#a8103a" stroke-width="1.1"/>
<line x1="311.40" y1="178.70" x2="335.00" y2="178.70" stroke="#a8103a" stroke-width="1.3"/>
<line x1="317.40" y1="170.40" x2="329.00" y2="170.40" stroke="#a8103a" stroke-width="1.1"/>
<line x1="317.40" y1="185.50" x2="329.00" y2="185.50" stroke="#a8103a" stroke-width="1.1"/>
<circle cx="318.20" cy="167.10" r="1.5" fill="#a8103a"/>
<circle cx="323.00" cy="167.10" r="1.5" fill="#a8103a"/>
<circle cx="327.70" cy="167.10" r="1.5" fill="#a8103a"/>
<circle cx="318.50" cy="173.60" r="1.5" fill="#a8103a"/>
<circle cx="323.20" cy="173.60" r="1.5" fill="#a8103a"/>
<circle cx="323.00" cy="176.50" r="1.5" fill="#a8103a"/>
<circle cx="327.70" cy="176.50" r="1.5" fill="#a8103a"/>
<circle cx="318.50" cy="181.20" r="1.5" fill="#a8103a"/>
<circle cx="323.20" cy="181.20" r="1.5" fill="#a8103a"/>
<circle cx="327.50" cy="178.70" r="1.5" fill="#a8103a"/>
<circle cx="318.20" cy="184.80" r="1.5" fill="#a8103a"/>
<circle cx="323.00" cy="184.80" r="1.5" fill="#a8103a"/>
<circle cx="327.70" cy="184.80" r="1.5" fill="#a8103a"/>
<line x1="359.00" y1="140.80" x2="359.00" y2="180.30" stroke="#4a6ea6" stroke-width="0.95"/>
<line x1="347.00" y1="170.60" x2="371.00" y2="170.60" stroke="#4a6ea6" stroke-width="1.15"/>
<line x1="353.20" y1="140.80" x2="364.80" y2="140.80" stroke="#4a6ea6" stroke-width="0.95"/>
<line x1="353.20" y1="180.30" x2="364.80" y2="180.30" stroke="#4a6ea6" stroke-width="0.95"/>
<circle cx="359.20" cy="117.80" r="1.5" fill="#1c3f7c"/>
<circle cx="358.80" cy="127.20" r="1.5" fill="#1c3f7c"/>
<circle cx="364.40" cy="126.30" r="1.5" fill="#1c3f7c"/>
<circle cx="355.20" cy="141.00" r="1.5" fill="#1c3f7c"/>
<circle cx="361.40" cy="141.00" r="1.5" fill="#1c3f7c"/>
<circle cx="359.20" cy="150.70" r="1.5" fill="#1c3f7c"/>
<circle cx="359.20" cy="165.40" r="1.5" fill="#1c3f7c"/>
<circle cx="364.40" cy="170.60" r="1.5" fill="#1c3f7c"/>
<circle cx="354.00" cy="175.80" r="1.5" fill="#1c3f7c"/>
<circle cx="359.60" cy="175.00" r="1.5" fill="#1c3f7c"/>
<circle cx="364.40" cy="176.30" r="1.5" fill="#1c3f7c"/>
<circle cx="354.00" cy="181.30" r="1.5" fill="#1c3f7c"/>
<circle cx="359.70" cy="179.20" r="1.5" fill="#1c3f7c"/>
<circle cx="364.40" cy="181.30" r="1.5" fill="#1c3f7c"/>
<line x1="427.80" y1="103.50" x2="427.80" y2="190.50" stroke="#111" stroke-width="1.1"/>
<line x1="427.30" y1="190.00" x2="511.80" y2="190.00" stroke="#111" stroke-width="1.1"/>
<line x1="424.00" y1="190.00" x2="427.80" y2="190.00" stroke="#111" stroke-width="0.9"/>
<text x="421.0" y="192.5" font-size="7" text-anchor="end" fill="#222" stroke="#222" stroke-width="0.14">0</text>
<line x1="424.00" y1="169.15" x2="427.80" y2="169.15" stroke="#111" stroke-width="0.9"/>
<text x="421.0" y="171.65" font-size="7" text-anchor="end" fill="#222" stroke="#222" stroke-width="0.14">20</text>
<line x1="424.00" y1="148.30" x2="427.80" y2="148.30" stroke="#111" stroke-width="0.9"/>
<text x="421.0" y="150.8" font-size="7" text-anchor="end" fill="#222" stroke="#222" stroke-width="0.14">40</text>
<line x1="424.00" y1="127.45" x2="427.80" y2="127.45" stroke="#111" stroke-width="0.9"/>
<text x="421.0" y="129.95" font-size="7" text-anchor="end" fill="#222" stroke="#222" stroke-width="0.14">60</text>
<line x1="424.00" y1="106.60" x2="427.80" y2="106.60" stroke="#111" stroke-width="0.9"/>
<text x="421.0" y="109.1" font-size="7" text-anchor="end" fill="#222" stroke="#222" stroke-width="0.14">80</text>
<line x1="447.30" y1="190.00" x2="447.30" y2="193.30" stroke="#111" stroke-width="0.9"/>
<line x1="488.00" y1="190.00" x2="488.00" y2="193.30" stroke="#111" stroke-width="0.9"/>
<text x="438" y="202.4" font-size="7" fill="#222" stroke="#222" stroke-width="0.14">pre-blina</text>
<text x="472.7" y="202.4" font-size="7" fill="#222" stroke="#222" stroke-width="0.14">post-blina</text>
<text x="470.4" y="97.5" font-size="9.4" text-anchor="middle" fill="#222" stroke="#222" stroke-width="0.14">Responder</text>
<text x="456.4" y="110.19999999999999" font-size="5.6" fill="#222" stroke="#222" stroke-width="0.14"><tspan font-style="italic">P</tspan> = 0.0002</text>
<text x="406.50" y="147.50" font-size="8" text-anchor="middle" fill="#222" stroke="#222" stroke-width="0.14" transform="rotate(-90 406.50 147.50)" textLength="56.5" lengthAdjust="spacingAndGlyphs">% (ex2part/EJ<tspan font-size="5.6" dy="2">2-3</tspan><tspan dy="-2">)</tspan></text>
<line x1="447.30" y1="170.40" x2="447.30" y2="185.50" stroke="#a8103a" stroke-width="1.1"/>
<line x1="435.50" y1="178.70" x2="459.10" y2="178.70" stroke="#a8103a" stroke-width="1.3"/>
<line x1="441.50" y1="170.40" x2="453.10" y2="170.40" stroke="#a8103a" stroke-width="1.1"/>
<line x1="441.50" y1="185.50" x2="453.10" y2="185.50" stroke="#a8103a" stroke-width="1.1"/>
<circle cx="442.30" cy="167.10" r="1.5" fill="#a8103a"/>
<circle cx="447.10" cy="167.10" r="1.5" fill="#a8103a"/>
<circle cx="451.80" cy="167.10" r="1.5" fill="#a8103a"/>
<circle cx="442.60" cy="173.60" r="1.5" fill="#a8103a"/>
<circle cx="447.30" cy="173.60" r="1.5" fill="#a8103a"/>
<circle cx="447.10" cy="176.50" r="1.5" fill="#a8103a"/>
<circle cx="451.80" cy="176.50" r="1.5" fill="#a8103a"/>
<circle cx="442.60" cy="181.20" r="1.5" fill="#a8103a"/>
<circle cx="447.30" cy="181.20" r="1.5" fill="#a8103a"/>
<circle cx="451.60" cy="178.70" r="1.5" fill="#a8103a"/>
<circle cx="442.30" cy="184.80" r="1.5" fill="#a8103a"/>
<circle cx="447.10" cy="184.80" r="1.5" fill="#a8103a"/>
<circle cx="451.80" cy="184.80" r="1.5" fill="#a8103a"/>
<line x1="488.00" y1="120.90" x2="488.00" y2="157.50" stroke="#4a6ea6" stroke-width="0.95"/>
<line x1="476.00" y1="147.30" x2="500.00" y2="147.30" stroke="#4a6ea6" stroke-width="1.15"/>
<line x1="482.00" y1="120.90" x2="494.00" y2="120.90" stroke="#4a6ea6" stroke-width="0.95"/>
<line x1="482.00" y1="157.50" x2="494.00" y2="157.50" stroke="#4a6ea6" stroke-width="0.95"/>
<circle cx="488.00" cy="114.60" r="1.5" fill="#1c3f7c"/>
<circle cx="488.00" cy="126.80" r="1.5" fill="#1c3f7c"/>
<circle cx="485.00" cy="147.00" r="1.5" fill="#1c3f7c"/>
<circle cx="491.00" cy="149.00" r="1.5" fill="#1c3f7c"/>
<circle cx="488.00" cy="166.50" r="1.5" fill="#1c3f7c"/>
<line x1="299.40" y1="227.80" x2="299.40" y2="314.70" stroke="#111" stroke-width="1.1"/>
<line x1="298.90" y1="314.20" x2="383.20" y2="314.20" stroke="#111" stroke-width="1.1"/>
<line x1="295.60" y1="309.30" x2="299.40" y2="309.30" stroke="#111" stroke-width="0.9"/>
<text x="292.59999999999997" y="311.8" font-size="7" text-anchor="end" fill="#222" stroke="#222" stroke-width="0.14">0</text>
<line x1="295.60" y1="289.62" x2="299.40" y2="289.62" stroke="#111" stroke-width="0.9"/>
<text x="292.59999999999997" y="292.125" font-size="7" text-anchor="end" fill="#222" stroke="#222" stroke-width="0.14">20</text>
<line x1="295.60" y1="269.95" x2="299.40" y2="269.95" stroke="#111" stroke-width="0.9"/>
<text x="292.59999999999997" y="272.45" font-size="7" text-anchor="end" fill="#222" stroke="#222" stroke-width="0.14">40</text>
<line x1="295.60" y1="250.28" x2="299.40" y2="250.28" stroke="#111" stroke-width="0.9"/>
<text x="292.59999999999997" y="252.775" font-size="7" text-anchor="end" fill="#222" stroke="#222" stroke-width="0.14">60</text>
<line x1="295.60" y1="230.60" x2="299.40" y2="230.60" stroke="#111" stroke-width="0.9"/>
<text x="292.59999999999997" y="233.1" font-size="7" text-anchor="end" fill="#222" stroke="#222" stroke-width="0.14">80</text>
<line x1="323.30" y1="314.20" x2="323.30" y2="317.50" stroke="#111" stroke-width="0.9"/>
<line x1="359.20" y1="314.20" x2="359.20" y2="317.50" stroke="#111" stroke-width="0.9"/>
<text x="307.3" y="326.59999999999997" font-size="7" fill="#222" stroke="#222" stroke-width="0.14">responder</text>
<text x="345.2" y="326.59999999999997" font-size="7" fill="#222" stroke="#222" stroke-width="0.14">non-responder</text>
<text x="341.2" y="221.5" font-size="9.4" text-anchor="middle" fill="#222" stroke="#222" stroke-width="0.14">Pre-treatment</text>
<line x1="301.40" y1="309.30" x2="383.20" y2="309.30" stroke="#111" stroke-width="0.9" stroke-dasharray="1,1.3"/>
<text x="278.10" y="272.00" font-size="8" text-anchor="middle" fill="#222" stroke="#222" stroke-width="0.14" transform="rotate(-90 278.10 272.00)" textLength="59" lengthAdjust="spacingAndGlyphs">% (ex2skip/EJ<tspan font-size="5.6" dy="2">2-3</tspan><tspan dy="-2">)</tspan></text>
<line x1="323.20" y1="301.80" x2="323.20" y2="309.30" stroke="#a8103a" stroke-width="0.9"/>
<line x1="311.70" y1="305.00" x2="334.70" y2="305.00" stroke="#a8103a" stroke-width="1.1"/>
<line x1="317.70" y1="301.80" x2="328.70" y2="301.80" stroke="#a8103a" stroke-width="0.9"/>
<line x1="317.70" y1="309.30" x2="328.70" y2="309.30" stroke="#a8103a" stroke-width="0.9"/>
<circle cx="314.20" cy="305.60" r="1.25" fill="#a8103a"/>
<circle cx="314.20" cy="302.70" r="1.25" fill="#a8103a"/>
<circle cx="318.70" cy="304.20" r="1.25" fill="#a8103a"/>
<circle cx="318.70" cy="301.20" r="1.25" fill="#a8103a"/>
<circle cx="323.20" cy="305.80" r="1.25" fill="#a8103a"/>
<circle cx="323.20" cy="300.30" r="1.25" fill="#a8103a"/>
<circle cx="323.20" cy="303.10" r="1.25" fill="#a8103a"/>
<circle cx="327.70" cy="302.20" r="1.25" fill="#a8103a"/>
<circle cx="327.70" cy="307.00" r="1.25" fill="#a8103a"/>
<circle cx="328.00" cy="299.20" r="1.25" fill="#a8103a"/>
<circle cx="332.20" cy="305.00" r="1.25" fill="#a8103a"/>
<circle cx="332.20" cy="302.60" r="1.25" fill="#a8103a"/>
<circle cx="318.70" cy="308.60" r="1.25" fill="#a8103a"/>
<circle cx="323.70" cy="308.80" r="1.25" fill="#a8103a"/>
<line x1="359.00" y1="303.00" x2="359.00" y2="309.30" stroke="#4a6ea6" stroke-width="0.9"/>
<line x1="347.50" y1="306.00" x2="370.50" y2="306.00" stroke="#4a6ea6" stroke-width="1.1"/>
<line x1="353.50" y1="303.00" x2="364.50" y2="303.00" stroke="#4a6ea6" stroke-width="0.9"/>
<line x1="353.50" y1="309.30" x2="364.50" y2="309.30" stroke="#4a6ea6" stroke-width="0.9"/>
<circle cx="349.50" cy="306.80" r="1.25" fill="#1c3f7c"/>
<circle cx="349.50" cy="309.30" r="1.25" fill="#1c3f7c"/>
<circle cx="354.00" cy="304.50" r="1.25" fill="#1c3f7c"/>
<circle cx="354.00" cy="307.30" r="1.25" fill="#1c3f7c"/>
<circle cx="354.00" cy="309.40" r="1.25" fill="#1c3f7c"/>
<circle cx="358.50" cy="302.40" r="1.25" fill="#1c3f7c"/>
<circle cx="358.50" cy="305.20" r="1.25" fill="#1c3f7c"/>
<circle cx="358.50" cy="308.30" r="1.25" fill="#1c3f7c"/>
<circle cx="359.00" cy="300.30" r="1.25" fill="#1c3f7c"/>
<circle cx="363.00" cy="302.30" r="1.25" fill="#1c3f7c"/>
<circle cx="363.00" cy="305.80" r="1.25" fill="#1c3f7c"/>
<circle cx="363.00" cy="308.60" r="1.25" fill="#1c3f7c"/>
<circle cx="367.50" cy="306.30" r="1.25" fill="#1c3f7c"/>
<circle cx="367.50" cy="309.30" r="1.25" fill="#1c3f7c"/>
<circle cx="359.50" cy="309.40" r="1.25" fill="#1c3f7c"/>
<circle cx="350.00" cy="304.00" r="1.25" fill="#1c3f7c"/>
<line x1="427.80" y1="227.80" x2="427.80" y2="314.70" stroke="#111" stroke-width="1.1"/>
<line x1="427.30" y1="314.20" x2="511.80" y2="314.20" stroke="#111" stroke-width="1.1"/>
<line x1="424.00" y1="309.30" x2="427.80" y2="309.30" stroke="#111" stroke-width="0.9"/>
<text x="421.0" y="311.8" font-size="7" text-anchor="end" fill="#222" stroke="#222" stroke-width="0.14">0</text>
<line x1="424.00" y1="289.62" x2="427.80" y2="289.62" stroke="#111" stroke-width="0.9"/>
<text x="421.0" y="292.125" font-size="7" text-anchor="end" fill="#222" stroke="#222" stroke-width="0.14">20</text>
<line x1="424.00" y1="269.95" x2="427.80" y2="269.95" stroke="#111" stroke-width="0.9"/>
<text x="421.0" y="272.45" font-size="7" text-anchor="end" fill="#222" stroke="#222" stroke-width="0.14">40</text>
<line x1="424.00" y1="250.28" x2="427.80" y2="250.28" stroke="#111" stroke-width="0.9"/>
<text x="421.0" y="252.775" font-size="7" text-anchor="end" fill="#222" stroke="#222" stroke-width="0.14">60</text>
<line x1="424.00" y1="230.60" x2="427.80" y2="230.60" stroke="#111" stroke-width="0.9"/>
<text x="421.0" y="233.1" font-size="7" text-anchor="end" fill="#222" stroke="#222" stroke-width="0.14">80</text>
<line x1="447.30" y1="314.20" x2="447.30" y2="317.50" stroke="#111" stroke-width="0.9"/>
<line x1="488.00" y1="314.20" x2="488.00" y2="317.50" stroke="#111" stroke-width="0.9"/>
<text x="438" y="326.59999999999997" font-size="7" fill="#222" stroke="#222" stroke-width="0.14">pre-blina</text>
<text x="472.7" y="326.59999999999997" font-size="7" fill="#222" stroke="#222" stroke-width="0.14">post-blina</text>
<text x="470.4" y="221.5" font-size="9.4" text-anchor="middle" fill="#222" stroke="#222" stroke-width="0.14">Responder</text>
<line x1="429.80" y1="309.30" x2="511.80" y2="309.30" stroke="#111" stroke-width="0.9" stroke-dasharray="1,1.3"/>
<text x="406.50" y="272.00" font-size="8" text-anchor="middle" fill="#222" stroke="#222" stroke-width="0.14" transform="rotate(-90 406.50 272.00)" textLength="59" lengthAdjust="spacingAndGlyphs">% (ex2skip/EJ<tspan font-size="5.6" dy="2">2-3</tspan><tspan dy="-2">)</tspan></text>
<line x1="447.30" y1="301.80" x2="447.30" y2="309.30" stroke="#a8103a" stroke-width="0.9"/>
<line x1="435.80" y1="305.00" x2="458.80" y2="305.00" stroke="#a8103a" stroke-width="1.1"/>
<line x1="441.80" y1="301.80" x2="452.80" y2="301.80" stroke="#a8103a" stroke-width="0.9"/>
<line x1="441.80" y1="309.30" x2="452.80" y2="309.30" stroke="#a8103a" stroke-width="0.9"/>
<circle cx="438.30" cy="305.60" r="1.25" fill="#a8103a"/>
<circle cx="438.30" cy="302.70" r="1.25" fill="#a8103a"/>
<circle cx="442.80" cy="304.20" r="1.25" fill="#a8103a"/>
<circle cx="442.80" cy="301.20" r="1.25" fill="#a8103a"/>
<circle cx="447.30" cy="305.80" r="1.25" fill="#a8103a"/>
<circle cx="447.30" cy="300.30" r="1.25" fill="#a8103a"/>
<circle cx="447.30" cy="303.10" r="1.25" fill="#a8103a"/>
<circle cx="451.80" cy="302.20" r="1.25" fill="#a8103a"/>
<circle cx="451.80" cy="307.00" r="1.25" fill="#a8103a"/>
<circle cx="452.10" cy="299.20" r="1.25" fill="#a8103a"/>
<circle cx="456.30" cy="305.00" r="1.25" fill="#a8103a"/>
<circle cx="456.30" cy="302.60" r="1.25" fill="#a8103a"/>
<circle cx="442.80" cy="308.60" r="1.25" fill="#a8103a"/>
<circle cx="447.80" cy="308.80" r="1.25" fill="#a8103a"/>
<line x1="488.00" y1="300.20" x2="488.00" y2="309.30" stroke="#4a6ea6" stroke-width="1.0"/>
<line x1="476.00" y1="306.00" x2="500.00" y2="306.00" stroke="#4a6ea6" stroke-width="1.2"/>
<line x1="482.00" y1="300.20" x2="494.00" y2="300.20" stroke="#4a6ea6" stroke-width="1.0"/>
<line x1="482.00" y1="309.30" x2="494.00" y2="309.30" stroke="#4a6ea6" stroke-width="1.0"/>
<circle cx="488.00" cy="296.00" r="1.5" fill="#1c3f7c"/>
<circle cx="483.00" cy="305.00" r="1.5" fill="#1c3f7c"/>
<circle cx="492.70" cy="306.00" r="1.5" fill="#1c3f7c"/>
<circle cx="488.00" cy="309.00" r="1.5" fill="#1c3f7c"/>
<text x="74.7" y="355.0" font-size="7" text-anchor="end" fill="#222" stroke="#222" stroke-width="0.14">c.pos</text>
<text x="74.7" y="362.9" font-size="7" text-anchor="end" fill="#222" stroke="#222" stroke-width="0.14">CD19</text>
<text x="74.7" y="372.2" font-size="7" text-anchor="end" fill="#222" stroke="#222" stroke-width="0.14">Protein</text>
<text x="74.7" y="380.7" font-size="7" text-anchor="end" fill="#222" stroke="#222" stroke-width="0.14">CD19.cAug10</text>
<text x="74.7" y="389.9" font-size="7" text-anchor="end" fill="#222" stroke="#222" stroke-width="0.14" textLength="56.3" lengthAdjust="spacingAndGlyphs">SJALL048681_D1</text>
<text x="74.7" y="399.2" font-size="7" text-anchor="end" fill="#222" stroke="#222" stroke-width="0.14" textLength="56.3" lengthAdjust="spacingAndGlyphs">SJALL054537_D1</text>
<text x="74.7" y="411.7" font-size="7" text-anchor="end" fill="#222" stroke="#222" stroke-width="0.14">Conservation</text>
<text x="128.76250000000002" y="350.8" font-size="7" text-anchor="middle" fill="#222" stroke="#222" stroke-width="0.14">100</text>
<line x1="128.76" y1="354.60" x2="128.76" y2="356.80" stroke="#222" stroke-width="0.9"/>
<text x="210.26250000000002" y="350.8" font-size="7" text-anchor="middle" fill="#222" stroke="#222" stroke-width="0.14">120</text>
<line x1="210.26" y1="354.60" x2="210.26" y2="356.80" stroke="#222" stroke-width="0.9"/>
<text x="291.76250000000005" y="350.8" font-size="7" text-anchor="middle" fill="#222" stroke="#222" stroke-width="0.14">140</text>
<line x1="291.76" y1="354.60" x2="291.76" y2="356.80" stroke="#222" stroke-width="0.9"/>
<text x="373.26250000000005" y="350.8" font-size="7" text-anchor="middle" fill="#222" stroke="#222" stroke-width="0.14">160</text>
<line x1="373.26" y1="354.60" x2="373.26" y2="356.80" stroke="#222" stroke-width="0.9"/>
<rect x="81.90" y="358.00" width="4.09" height="5.50" fill="#ee1c1c"/>
<rect x="85.98" y="358.00" width="12.25" height="5.50" fill="#e6e64a"/>
<rect x="98.20" y="358.00" width="4.09" height="5.50" fill="#ee1c1c"/>
<rect x="102.28" y="358.00" width="4.09" height="5.50" fill="#e6e64a"/>
<rect x="106.35" y="358.00" width="4.09" height="5.50" fill="#ee1c1c"/>
<rect x="110.43" y="358.00" width="4.09" height="5.50" fill="#1cdc1c"/>
<rect x="114.50" y="358.00" width="8.17" height="5.50" fill="#ee1c1c"/>
<rect x="122.65" y="358.00" width="4.09" height="5.50" fill="#1c1ce6"/>
<rect x="126.73" y="358.00" width="4.09" height="5.50" fill="#e6e64a"/>
<rect x="130.80" y="358.00" width="4.09" height="5.50" fill="#1c1ce6"/>
<rect x="134.88" y="358.00" width="4.09" height="5.50" fill="#1cdc1c"/>
<rect x="138.95" y="358.00" width="4.09" height="5.50" fill="#e6e64a"/>
<rect x="143.03" y="358.00" width="4.09" height="5.50" fill="#1cdc1c"/>
<rect x="147.10" y="358.00" width="4.09" height="5.50" fill="#e6e64a"/>
<rect x="151.18" y="358.00" width="4.09" height="5.50" fill="#1c1ce6"/>
<rect x="155.25" y="358.00" width="4.09" height="5.50" fill="#1cdc1c"/>
<rect x="159.32" y="358.00" width="4.09" height="5.50" fill="#e6e64a"/>
<rect x="163.40" y="358.00" width="4.09" height="5.50" fill="#1c1ce6"/>
<rect x="167.48" y="358.00" width="4.09" height="5.50" fill="#ee1c1c"/>
<rect x="171.55" y="358.00" width="4.09" height="5.50" fill="#e6e64a"/>
<rect x="175.62" y="358.00" width="4.09" height="5.50" fill="#1cdc1c"/>
<rect x="179.70" y="358.00" width="4.09" height="5.50" fill="#e6e64a"/>
<rect x="183.78" y="358.00" width="8.17" height="5.50" fill="#1c1ce6"/>
<rect x="191.93" y="358.00" width="4.09" height="5.50" fill="#1cdc1c"/>
<rect x="196.00" y="358.00" width="4.09" height="5.50" fill="#1c1ce6"/>
<rect x="200.08" y="358.00" width="8.17" height="5.50" fill="#ee1c1c"/>
<rect x="208.23" y="358.00" width="16.32" height="5.50" fill="#e6e64a"/>
<rect x="224.53" y="358.00" width="4.09" height="5.50" fill="#ee1c1c"/>
<rect x="228.60" y="358.00" width="8.17" height="5.50" fill="#1c1ce6"/>
<rect x="236.75" y="358.00" width="4.09" height="5.50" fill="#1cdc1c"/>
<rect x="240.83" y="358.00" width="4.09" height="5.50" fill="#1c1ce6"/>
<rect x="244.90" y="358.00" width="4.09" height="5.50" fill="#ee1c1c"/>
<rect x="248.98" y="358.00" width="4.09" height="5.50" fill="#e6e64a"/>
<rect x="253.05" y="358.00" width="4.09" height="5.50" fill="#ee1c1c"/>
<rect x="257.12" y="358.00" width="4.09" height="5.50" fill="#1cdc1c"/>
<rect x="261.20" y="358.00" width="8.17" height="5.50" fill="#e6e64a"/>
<rect x="269.35" y="358.00" width="16.32" height="5.50" fill="#1c1ce6"/>
<rect x="285.65" y="358.00" width="4.09" height="5.50" fill="#ee1c1c"/>
<rect x="289.73" y="358.00" width="4.09" height="5.50" fill="#1c1ce6"/>
<rect x="293.80" y="358.00" width="4.09" height="5.50" fill="#1cdc1c"/>
<rect x="297.88" y="358.00" width="4.09" height="5.50" fill="#1c1ce6"/>
<rect x="301.95" y="358.00" width="4.09" height="5.50" fill="#ee1c1c"/>
<rect x="306.02" y="358.00" width="4.09" height="5.50" fill="#e6e64a"/>
<rect x="310.10" y="358.00" width="4.09" height="5.50" fill="#1c1ce6"/>
<rect x="314.18" y="358.00" width="4.09" height="5.50" fill="#ee1c1c"/>
<rect x="318.25" y="358.00" width="4.09" height="5.50" fill="#e6e64a"/>
<rect x="322.33" y="358.00" width="4.09" height="5.50" fill="#1c1ce6"/>
<rect x="326.40" y="358.00" width="4.09" height="5.50" fill="#1cdc1c"/>
<rect x="330.48" y="358.00" width="4.09" height="5.50" fill="#e6e64a"/>
<rect x="334.55" y="358.00" width="4.09" height="5.50" fill="#ee1c1c"/>
<rect x="338.62" y="358.00" width="8.17" height="5.50" fill="#1c1ce6"/>
<rect x="346.77" y="358.00" width="4.09" height="5.50" fill="#1cdc1c"/>
<rect x="350.85" y="358.00" width="8.17" height="5.50" fill="#e6e64a"/>
<rect x="359.00" y="358.00" width="4.09" height="5.50" fill="#1cdc1c"/>
<rect x="363.08" y="358.00" width="4.09" height="5.50" fill="#1c1ce6"/>
<rect x="367.15" y="358.00" width="4.09" height="5.50" fill="#1cdc1c"/>
<rect x="371.23" y="358.00" width="4.09" height="5.50" fill="#1c1ce6"/>
<rect x="375.30" y="358.00" width="12.25" height="5.50" fill="#e6e64a"/>
<rect x="387.52" y="358.00" width="4.09" height="5.50" fill="#ee1c1c"/>
<rect x="391.60" y="358.00" width="4.09" height="5.50" fill="#e6e64a"/>
<rect x="395.68" y="358.00" width="4.09" height="5.50" fill="#1cdc1c"/>
<rect x="399.75" y="358.00" width="16.32" height="5.50" fill="#1c1ce6"/>
<rect x="416.05" y="358.00" width="4.09" height="5.50" fill="#e6e64a"/>
<rect x="420.12" y="358.00" width="4.09" height="5.50" fill="#1c1ce6"/>
<rect x="424.20" y="358.00" width="8.17" height="5.50" fill="#1cdc1c"/>
<rect x="432.35" y="358.00" width="12.25" height="5.50" fill="#ee1c1c"/>
<rect x="444.58" y="358.00" width="4.09" height="5.50" fill="#1c1ce6"/>
<text x="83.94 88.01 92.09 96.16 100.24 104.31 108.39 112.46 116.54 120.61 124.69 128.76 132.84 136.91 140.99 145.06 149.14 153.21 157.29 161.36 165.44 169.51 173.59 177.66 181.74 185.81 189.89 193.96 198.04 202.11 206.19 210.26 214.34 218.41 222.49 226.56 230.64 234.71 238.79 242.86 246.94 251.01 255.09 259.16 263.24 267.31 271.39 275.46 279.54 283.61 287.69 291.76 295.84 299.91 303.99 308.06 312.14 316.21 320.29 324.36 328.44 332.51 336.59 340.66 344.74 348.81 352.89 356.96 361.04 365.11 369.19 373.26 377.34 381.41 385.49 389.56 393.64 397.71 401.79 405.86 409.94 414.01 418.09 422.16 426.24 430.31 434.39 438.46 442.54 446.61" y="362.60" font-size="5.1" font-weight="bold" text-anchor="middle" fill="#000" opacity="0.8">AGGGAGATAACGCTGTGCTGCAGTGCCTCAAGGGGACCTCAGATGGCCCCACTCAGCAGCTGACCTGGTCTCGGGAGTCCCCGCTTAAAC</text>
<text x="83.94 96.16 108.39 120.61 132.84 145.06 157.29 169.51 181.74 193.96 206.19 218.41 230.64 242.86 255.09 267.31 279.54 291.76 303.99 316.21 328.44 340.66 352.89 365.11 377.34 389.56 401.79 414.01 426.24 438.46" y="369.80" font-size="4.9" text-anchor="middle" fill="#5a5a5a">EGDNAVLQCLKGTSDGPTQQLTWSRESPLK</text>
<rect x="81.90" y="373.80" width="4.09" height="5.50" fill="#ee1c1c"/>
<rect x="85.98" y="373.80" width="12.25" height="5.50" fill="#e6e64a"/>
<rect x="98.20" y="373.80" width="4.09" height="5.50" fill="#ee1c1c"/>
<rect x="102.28" y="373.80" width="4.09" height="5.50" fill="#e6e64a"/>
<rect x="106.35" y="373.80" width="4.09" height="5.50" fill="#ee1c1c"/>
<rect x="110.43" y="373.80" width="4.09" height="5.50" fill="#1cdc1c"/>
<rect x="114.50" y="373.80" width="8.17" height="5.50" fill="#ee1c1c"/>
<rect x="122.65" y="373.80" width="4.09" height="5.50" fill="#1c1ce6"/>
<rect x="126.73" y="373.80" width="4.09" height="5.50" fill="#e6e64a"/>
<rect x="130.80" y="373.80" width="4.09" height="5.50" fill="#1c1ce6"/>
<rect x="134.88" y="373.80" width="4.09" height="5.50" fill="#1cdc1c"/>
<rect x="138.95" y="373.80" width="4.09" height="5.50" fill="#e6e64a"/>
<rect x="143.03" y="373.80" width="4.09" height="5.50" fill="#1cdc1c"/>
<rect x="147.10" y="373.80" width="4.09" height="5.50" fill="#e6e64a"/>
<rect x="151.18" y="373.80" width="4.09" height="5.50" fill="#1c1ce6"/>
<rect x="155.25" y="373.80" width="4.09" height="5.50" fill="#1cdc1c"/>
<rect x="159.32" y="373.80" width="4.09" height="5.50" fill="#e6e64a"/>
<rect x="163.40" y="373.80" width="4.09" height="5.50" fill="#1c1ce6"/>
<rect x="167.48" y="373.80" width="4.09" height="5.50" fill="#ee1c1c"/>
<rect x="171.55" y="373.80" width="4.09" height="5.50" fill="#e6e64a"/>
<rect x="175.62" y="373.80" width="4.09" height="5.50" fill="#1cdc1c"/>
<rect x="179.70" y="373.80" width="4.09" height="5.50" fill="#e6e64a"/>
<rect x="183.78" y="373.80" width="8.17" height="5.50" fill="#1c1ce6"/>
<rect x="191.93" y="373.80" width="4.09" height="5.50" fill="#1cdc1c"/>
<rect x="196.00" y="373.80" width="4.09" height="5.50" fill="#1c1ce6"/>
<rect x="200.08" y="373.80" width="8.17" height="5.50" fill="#ee1c1c"/>
<rect x="208.23" y="373.80" width="16.32" height="5.50" fill="#e6e64a"/>
<rect x="224.53" y="373.80" width="4.09" height="5.50" fill="#ee1c1c"/>
<rect x="228.60" y="373.80" width="8.17" height="5.50" fill="#1c1ce6"/>
<rect x="236.75" y="373.80" width="4.09" height="5.50" fill="#1cdc1c"/>
<rect x="240.83" y="373.80" width="4.09" height="5.50" fill="#1c1ce6"/>
<rect x="244.90" y="373.80" width="4.09" height="5.50" fill="#ee1c1c"/>
<rect x="248.98" y="373.80" width="4.09" height="5.50" fill="#e6e64a"/>
<rect x="253.05" y="373.80" width="4.09" height="5.50" fill="#ee1c1c"/>
<rect x="257.12" y="373.80" width="4.09" height="5.50" fill="#1cdc1c"/>
<rect x="261.20" y="373.80" width="8.17" height="5.50" fill="#e6e64a"/>
<rect x="269.35" y="373.80" width="16.32" height="5.50" fill="#1c1ce6"/>
<rect x="285.65" y="373.80" width="4.09" height="5.50" fill="#ee1c1c"/>
<rect x="289.73" y="373.80" width="4.09" height="5.50" fill="#1c1ce6"/>
<rect x="293.80" y="373.80" width="4.09" height="5.50" fill="#1cdc1c"/>
<rect x="297.88" y="373.80" width="4.09" height="5.50" fill="#1c1ce6"/>
<rect x="301.95" y="373.80" width="4.09" height="5.50" fill="#ee1c1c"/>
<rect x="306.02" y="373.80" width="4.09" height="5.50" fill="#e6e64a"/>
<rect x="310.10" y="373.80" width="4.09" height="5.50" fill="#1c1ce6"/>
<rect x="314.18" y="373.80" width="4.09" height="5.50" fill="#ee1c1c"/>
<rect x="318.25" y="373.80" width="4.09" height="5.50" fill="#e6e64a"/>
<rect x="322.33" y="373.80" width="4.09" height="5.50" fill="#1c1ce6"/>
<rect x="326.40" y="373.80" width="4.09" height="5.50" fill="#1cdc1c"/>
<rect x="330.48" y="373.80" width="4.09" height="5.50" fill="#e6e64a"/>
<rect x="334.55" y="373.80" width="4.09" height="5.50" fill="#ee1c1c"/>
<rect x="338.62" y="373.80" width="8.17" height="5.50" fill="#1c1ce6"/>
<rect x="346.77" y="373.80" width="4.09" height="5.50" fill="#1cdc1c"/>
<rect x="350.85" y="373.80" width="8.17" height="5.50" fill="#e6e64a"/>
<rect x="359.00" y="373.80" width="4.09" height="5.50" fill="#1cdc1c"/>
<rect x="363.08" y="373.80" width="4.09" height="5.50" fill="#1c1ce6"/>
<rect x="367.15" y="373.80" width="4.09" height="5.50" fill="#1cdc1c"/>
<rect x="371.23" y="373.80" width="4.09" height="5.50" fill="#1c1ce6"/>
<rect x="375.30" y="373.80" width="12.25" height="5.50" fill="#e6e64a"/>
<rect x="387.52" y="373.80" width="4.09" height="5.50" fill="#ee1c1c"/>
<rect x="391.60" y="373.80" width="4.09" height="5.50" fill="#e6e64a"/>
<rect x="395.68" y="373.80" width="4.09" height="5.50" fill="#1cdc1c"/>
<rect x="399.75" y="373.80" width="16.32" height="5.50" fill="#1c1ce6"/>
<rect x="416.05" y="373.80" width="4.09" height="5.50" fill="#e6e64a"/>
<rect x="420.12" y="373.80" width="4.09" height="5.50" fill="#1c1ce6"/>
<rect x="424.20" y="373.80" width="8.17" height="5.50" fill="#1cdc1c"/>
<rect x="432.35" y="373.80" width="12.25" height="5.50" fill="#ee1c1c"/>
<rect x="444.58" y="373.80" width="4.09" height="5.50" fill="#1c1ce6"/>
<text x="83.94 88.01 92.09 96.16 100.24 104.31 108.39 112.46 116.54 120.61 124.69 128.76 132.84 136.91 140.99 145.06 149.14 153.21 157.29 161.36 165.44 169.51 173.59 177.66 181.74 185.81 189.89 193.96 198.04 202.11 206.19 210.26 214.34 218.41 222.49 226.56 230.64 234.71 238.79 242.86 246.94 251.01 255.09 259.16 263.24 267.31 271.39 275.46 279.54 283.61 287.69 291.76 295.84 299.91 303.99 308.06 312.14 316.21 320.29 324.36 328.44 332.51 336.59 340.66 344.74 348.81 352.89 356.96 361.04 365.11 369.19 373.26 377.34 381.41 385.49 389.56 393.64 397.71 401.79 405.86 409.94 414.01 418.09 422.16 426.24 430.31 434.39 438.46 442.54 446.61" y="378.40" font-size="5.1" font-weight="bold" text-anchor="middle" fill="#000" opacity="0.8">AGGGAGATAACGCTGTGCTGCAGTGCCTCAAGGGGACCTCAGATGGCCCCACTCAGCAGCTGACCTGGTCTCGGGAGTCCCCGCTTAAAC</text>
<rect x="81.90" y="383.20" width="4.09" height="5.50" fill="#ee1c1c"/>
<rect x="85.98" y="383.20" width="12.25" height="5.50" fill="#e6e64a"/>
<rect x="98.20" y="383.20" width="4.09" height="5.50" fill="#ee1c1c"/>
<rect x="102.28" y="383.20" width="4.09" height="5.50" fill="#e6e64a"/>
<rect x="106.35" y="383.20" width="4.09" height="5.50" fill="#ee1c1c"/>
<rect x="110.43" y="383.20" width="4.09" height="5.50" fill="#1cdc1c"/>
<rect x="114.50" y="383.20" width="8.17" height="5.50" fill="#ee1c1c"/>
<rect x="122.65" y="383.20" width="4.09" height="5.50" fill="#1c1ce6"/>
<rect x="126.73" y="383.20" width="4.09" height="5.50" fill="#e6e64a"/>
<rect x="130.80" y="383.20" width="4.09" height="5.50" fill="#1c1ce6"/>
<rect x="134.88" y="383.20" width="4.09" height="5.50" fill="#1cdc1c"/>
<rect x="138.95" y="383.20" width="4.09" height="5.50" fill="#e6e64a"/>
<rect x="143.03" y="383.20" width="4.09" height="5.50" fill="#1cdc1c"/>
<rect x="147.10" y="383.20" width="4.09" height="5.50" fill="#e6e64a"/>
<rect x="151.18" y="383.20" width="4.09" height="5.50" fill="#1c1ce6"/>
<rect x="155.25" y="383.20" width="4.09" height="5.50" fill="#1cdc1c"/>
<rect x="159.32" y="383.20" width="4.09" height="5.50" fill="#e6e64a"/>
<rect x="163.40" y="383.20" width="4.09" height="5.50" fill="#1c1ce6"/>
<rect x="167.48" y="383.20" width="4.09" height="5.50" fill="#ee1c1c"/>
<rect x="171.55" y="383.20" width="4.09" height="5.50" fill="#e6e64a"/>
<rect x="175.62" y="383.20" width="4.09" height="5.50" fill="#1cdc1c"/>
<rect x="179.70" y="383.20" width="4.09" height="5.50" fill="#e6e64a"/>
<rect x="183.78" y="383.20" width="8.17" height="5.50" fill="#1c1ce6"/>
<rect x="191.93" y="383.20" width="4.09" height="5.50" fill="#1cdc1c"/>
<rect x="196.00" y="383.20" width="4.09" height="5.50" fill="#1c1ce6"/>
<rect x="200.08" y="383.20" width="8.17" height="5.50" fill="#ee1c1c"/>
<rect x="208.23" y="383.20" width="16.32" height="5.50" fill="#e6e64a"/>
<rect x="224.53" y="383.20" width="4.09" height="5.50" fill="#ee1c1c"/>
<rect x="228.60" y="383.20" width="8.17" height="5.50" fill="#1c1ce6"/>
<rect x="236.75" y="383.20" width="4.09" height="5.50" fill="#1cdc1c"/>
<rect x="240.83" y="383.20" width="4.09" height="5.50" fill="#1c1ce6"/>
<rect x="244.90" y="383.20" width="4.09" height="5.50" fill="#ee1c1c"/>
<rect x="248.98" y="383.20" width="4.09" height="5.50" fill="#e6e64a"/>
<rect x="253.05" y="383.20" width="4.09" height="5.50" fill="#ee1c1c"/>
<rect x="257.12" y="383.20" width="4.09" height="5.50" fill="#1cdc1c"/>
<rect x="261.20" y="383.20" width="8.17" height="5.50" fill="#e6e64a"/>
<rect x="269.35" y="383.20" width="16.32" height="5.50" fill="#1c1ce6"/>
<rect x="285.65" y="383.20" width="4.09" height="5.50" fill="#ee1c1c"/>
<rect x="289.73" y="383.20" width="4.09" height="5.50" fill="#1c1ce6"/>
<rect x="293.80" y="383.20" width="4.09" height="5.50" fill="#1cdc1c"/>
<rect x="297.88" y="383.20" width="4.09" height="5.50" fill="#1c1ce6"/>
<rect x="301.95" y="383.20" width="4.09" height="5.50" fill="#ee1c1c"/>
<rect x="306.02" y="383.20" width="4.09" height="5.50" fill="#e6e64a"/>
<rect x="310.10" y="383.20" width="4.09" height="5.50" fill="#1c1ce6"/>
<rect x="314.18" y="383.20" width="4.09" height="5.50" fill="#ee1c1c"/>
<rect x="318.25" y="383.20" width="4.09" height="5.50" fill="#e6e64a"/>
<rect x="322.33" y="383.20" width="4.09" height="5.50" fill="#1c1ce6"/>
<rect x="326.40" y="383.20" width="4.09" height="5.50" fill="#1cdc1c"/>
<rect x="330.48" y="383.20" width="4.09" height="5.50" fill="#e6e64a"/>
<rect x="334.55" y="383.20" width="4.09" height="5.50" fill="#ee1c1c"/>
<rect x="338.62" y="383.20" width="8.17" height="5.50" fill="#1c1ce6"/>
<rect x="346.77" y="383.20" width="4.09" height="5.50" fill="#1cdc1c"/>
<rect x="350.85" y="383.20" width="8.17" height="5.50" fill="#e6e64a"/>
<rect x="359.00" y="383.20" width="4.09" height="5.50" fill="#1cdc1c"/>
<rect x="363.08" y="383.20" width="4.09" height="5.50" fill="#1c1ce6"/>
<rect x="367.15" y="383.20" width="4.09" height="5.50" fill="#1cdc1c"/>
<rect x="371.23" y="383.20" width="4.09" height="5.50" fill="#1c1ce6"/>
<rect x="375.30" y="383.20" width="12.25" height="5.50" fill="#e6e64a"/>
<rect x="387.52" y="383.20" width="4.09" height="5.50" fill="#ee1c1c"/>
<rect x="391.60" y="383.20" width="4.09" height="5.50" fill="#e6e64a"/>
<rect x="395.68" y="383.20" width="4.09" height="5.50" fill="#1cdc1c"/>
<rect x="399.75" y="383.20" width="16.32" height="5.50" fill="#1c1ce6"/>
<rect x="416.05" y="383.20" width="4.09" height="5.50" fill="#e6e64a"/>
<rect x="420.12" y="383.20" width="4.09" height="5.50" fill="#1c1ce6"/>
<rect x="424.20" y="383.20" width="8.17" height="5.50" fill="#1cdc1c"/>
<rect x="432.35" y="383.20" width="12.25" height="5.50" fill="#ee1c1c"/>
<rect x="444.58" y="383.20" width="4.09" height="5.50" fill="#1c1ce6"/>
<text x="83.94 88.01 92.09 96.16 100.24 104.31 108.39 112.46 116.54 120.61 124.69 128.76 132.84 136.91 140.99 145.06 149.14 153.21 157.29 161.36 165.44 169.51 173.59 177.66 181.74 185.81 189.89 193.96 198.04 202.11 206.19 210.26 214.34 218.41 222.49 226.56 230.64 234.71 238.79 242.86 246.94 251.01 255.09 259.16 263.24 267.31 271.39 275.46 279.54 283.61 287.69 291.76 295.84 299.91 303.99 308.06 312.14 316.21 320.29 324.36 328.44 332.51 336.59 340.66 344.74 348.81 352.89 356.96 361.04 365.11 369.19 373.26 377.34 381.41 385.49 389.56 393.64 397.71 401.79 405.86 409.94 414.01 418.09 422.16 426.24 430.31 434.39 438.46 442.54 446.61" y="387.80" font-size="5.1" font-weight="bold" text-anchor="middle" fill="#000" opacity="0.8">AGGGAGATAACGCTGTGCTGCAGTGCCTCAAGGGGACCTCAGATGGCCCCACTCAGCAGCTGACCTGGTCTCGGGAGTCCCCGCTTAAAC</text>
<rect x="81.90" y="393.60" width="4.09" height="5.50" fill="#ee1c1c"/>
<rect x="85.98" y="393.60" width="12.25" height="5.50" fill="#e6e64a"/>
<rect x="98.20" y="393.60" width="4.09" height="5.50" fill="#ee1c1c"/>
<rect x="102.28" y="393.60" width="4.09" height="5.50" fill="#e6e64a"/>
<rect x="106.35" y="393.60" width="4.09" height="5.50" fill="#ee1c1c"/>
<rect x="110.43" y="393.60" width="4.09" height="5.50" fill="#1cdc1c"/>
<rect x="114.50" y="393.60" width="8.17" height="5.50" fill="#ee1c1c"/>
<rect x="122.65" y="393.60" width="4.09" height="5.50" fill="#1c1ce6"/>
<rect x="126.73" y="393.60" width="4.09" height="5.50" fill="#e6e64a"/>
<rect x="130.80" y="393.60" width="4.09" height="5.50" fill="#1c1ce6"/>
<rect x="134.88" y="393.60" width="4.09" height="5.50" fill="#1cdc1c"/>
<rect x="138.95" y="393.60" width="4.09" height="5.50" fill="#e6e64a"/>
<rect x="143.03" y="393.60" width="4.09" height="5.50" fill="#1cdc1c"/>
<rect x="147.10" y="393.60" width="4.09" height="5.50" fill="#e6e64a"/>
<rect x="151.18" y="393.60" width="4.09" height="5.50" fill="#1c1ce6"/>
<rect x="155.25" y="393.60" width="4.09" height="5.50" fill="#1cdc1c"/>
<rect x="159.32" y="393.60" width="4.09" height="5.50" fill="#e6e64a"/>
<rect x="163.40" y="393.60" width="4.09" height="5.50" fill="#1c1ce6"/>
<rect x="167.48" y="393.60" width="4.09" height="5.50" fill="#ee1c1c"/>
<rect x="171.55" y="393.60" width="4.09" height="5.50" fill="#e6e64a"/>
<rect x="175.62" y="393.60" width="4.09" height="5.50" fill="#1cdc1c"/>
<rect x="179.70" y="393.60" width="4.09" height="5.50" fill="#e6e64a"/>
<rect x="183.78" y="393.60" width="8.17" height="5.50" fill="#1c1ce6"/>
<rect x="191.93" y="393.60" width="4.09" height="5.50" fill="#1cdc1c"/>
<rect x="196.00" y="393.60" width="4.09" height="5.50" fill="#1c1ce6"/>
<rect x="200.08" y="393.60" width="8.17" height="5.50" fill="#ee1c1c"/>
<rect x="208.23" y="393.60" width="16.32" height="5.50" fill="#e6e64a"/>
<rect x="224.53" y="393.60" width="4.09" height="5.50" fill="#ee1c1c"/>
<rect x="228.60" y="393.60" width="8.17" height="5.50" fill="#1c1ce6"/>
<rect x="236.75" y="393.60" width="4.09" height="5.50" fill="#1cdc1c"/>
<rect x="240.83" y="393.60" width="4.09" height="5.50" fill="#1c1ce6"/>
<rect x="244.90" y="393.60" width="4.09" height="5.50" fill="#ee1c1c"/>
<rect x="248.98" y="393.60" width="4.09" height="5.50" fill="#e6e64a"/>
<rect x="253.05" y="393.60" width="4.09" height="5.50" fill="#ee1c1c"/>
<rect x="257.12" y="393.60" width="4.09" height="5.50" fill="#1cdc1c"/>
<rect x="261.20" y="393.60" width="8.17" height="5.50" fill="#e6e64a"/>
<rect x="269.35" y="393.60" width="16.32" height="5.50" fill="#1c1ce6"/>
<rect x="285.65" y="393.60" width="4.09" height="5.50" fill="#ee1c1c"/>
<rect x="289.73" y="393.60" width="4.09" height="5.50" fill="#1c1ce6"/>
<rect x="293.80" y="393.60" width="4.09" height="5.50" fill="#1cdc1c"/>
<rect x="297.88" y="393.60" width="4.09" height="5.50" fill="#1c1ce6"/>
<rect x="301.95" y="393.60" width="4.09" height="5.50" fill="#ee1c1c"/>
<rect x="306.02" y="393.60" width="4.09" height="5.50" fill="#e6e64a"/>
<rect x="310.10" y="393.60" width="4.09" height="5.50" fill="#1c1ce6"/>
<rect x="314.18" y="393.60" width="4.09" height="5.50" fill="#ee1c1c"/>
<rect x="318.25" y="393.60" width="4.09" height="5.50" fill="#e6e64a"/>
<rect x="322.33" y="393.60" width="4.09" height="5.50" fill="#1c1ce6"/>
<rect x="326.40" y="393.60" width="4.09" height="5.50" fill="#1cdc1c"/>
<rect x="330.48" y="393.60" width="4.09" height="5.50" fill="#e6e64a"/>
<rect x="334.55" y="393.60" width="4.09" height="5.50" fill="#ee1c1c"/>
<rect x="338.62" y="393.60" width="8.17" height="5.50" fill="#1c1ce6"/>
<rect x="346.77" y="393.60" width="4.09" height="5.50" fill="#1cdc1c"/>
<rect x="350.85" y="393.60" width="8.17" height="5.50" fill="#e6e64a"/>
<rect x="359.00" y="393.60" width="4.09" height="5.50" fill="#1cdc1c"/>
<rect x="363.08" y="393.60" width="4.09" height="5.50" fill="#1c1ce6"/>
<rect x="367.15" y="393.60" width="4.09" height="5.50" fill="#1cdc1c"/>
<rect x="371.23" y="393.60" width="4.09" height="5.50" fill="#1c1ce6"/>
<rect x="375.30" y="393.60" width="12.25" height="5.50" fill="#e6e64a"/>
<rect x="387.52" y="393.60" width="4.09" height="5.50" fill="#ee1c1c"/>
<rect x="391.60" y="393.60" width="4.09" height="5.50" fill="#e6e64a"/>
<rect x="395.68" y="393.60" width="4.09" height="5.50" fill="#1cdc1c"/>
<rect x="399.75" y="393.60" width="16.32" height="5.50" fill="#1c1ce6"/>
<rect x="416.05" y="393.60" width="4.09" height="5.50" fill="#e6e64a"/>
<rect x="420.12" y="393.60" width="4.09" height="5.50" fill="#1c1ce6"/>
<rect x="424.20" y="393.60" width="8.17" height="5.50" fill="#1cdc1c"/>
<rect x="432.35" y="393.60" width="12.25" height="5.50" fill="#ee1c1c"/>
<rect x="444.58" y="393.60" width="4.09" height="5.50" fill="#1c1ce6"/>
<text x="83.94 88.01 92.09 96.16 100.24 104.31 108.39 112.46 116.54 120.61 124.69 128.76 132.84 136.91 140.99 145.06 149.14 153.21 157.29 161.36 165.44 169.51 173.59 177.66 181.74 185.81 189.89 193.96 198.04 202.11 206.19 210.26 214.34 218.41 222.49 226.56 230.64 234.71 238.79 242.86 246.94 251.01 255.09 259.16 263.24 267.31 271.39 275.46 279.54 283.61 287.69 291.76 295.84 299.91 303.99 308.06 312.14 316.21 320.29 324.36 328.44 332.51 336.59 340.66 344.74 348.81 352.89 356.96 361.04 365.11 369.19 373.26 377.34 381.41 385.49 389.56 393.64 397.71 401.79 405.86 409.94 414.01 418.09 422.16 426.24 430.31 434.39 438.46 442.54 446.61" y="398.20" font-size="5.1" font-weight="bold" text-anchor="middle" fill="#000" opacity="0.8">AGGGAGATAACGCTGTGCTGCAGTGCCTCAAGGGGACCTCAGATGGCCCCACTCAGCAGCTGACCTGGTCTCGGGAGTCCCCGCTTAAAC</text>
<rect x="81.90" y="403.80" width="366.75" height="12.80" fill="#ffb0b0"/>
<rect x="85.33" y="404.30" width="1.30" height="11.80" fill="#a89a9a"/>
<rect x="89.40" y="404.30" width="1.30" height="11.80" fill="#a89a9a"/>
<rect x="93.47" y="404.30" width="1.30" height="11.80" fill="#a89a9a"/>
<rect x="97.55" y="404.30" width="1.30" height="11.80" fill="#a89a9a"/>
<rect x="101.62" y="404.30" width="1.30" height="11.80" fill="#a89a9a"/>
<rect x="105.70" y="404.30" width="1.30" height="11.80" fill="#a89a9a"/>
<rect x="109.78" y="404.30" width="1.30" height="11.80" fill="#a89a9a"/>
<rect x="113.85" y="404.30" width="1.30" height="11.80" fill="#a89a9a"/>
<rect x="117.93" y="404.30" width="1.30" height="11.80" fill="#a89a9a"/>
<rect x="122.00" y="404.30" width="1.30" height="11.80" fill="#a89a9a"/>
<rect x="126.08" y="404.30" width="1.30" height="11.80" fill="#a89a9a"/>
<rect x="130.15" y="404.30" width="1.30" height="11.80" fill="#a89a9a"/>
<rect x="134.22" y="404.30" width="1.30" height="11.80" fill="#a89a9a"/>
<rect x="138.30" y="404.30" width="1.30" height="11.80" fill="#a89a9a"/>
<rect x="142.38" y="404.30" width="1.30" height="11.80" fill="#a89a9a"/>
<rect x="146.45" y="404.30" width="1.30" height="11.80" fill="#a89a9a"/>
<rect x="150.53" y="404.30" width="1.30" height="11.80" fill="#a89a9a"/>
<rect x="154.60" y="404.30" width="1.30" height="11.80" fill="#a89a9a"/>
<rect x="158.67" y="404.30" width="1.30" height="11.80" fill="#a89a9a"/>
<rect x="162.75" y="404.30" width="1.30" height="11.80" fill="#a89a9a"/>
<rect x="166.83" y="404.30" width="1.30" height="11.80" fill="#a89a9a"/>
<rect x="170.90" y="404.30" width="1.30" height="11.80" fill="#a89a9a"/>
<rect x="174.97" y="404.30" width="1.30" height="11.80" fill="#a89a9a"/>
<rect x="179.05" y="404.30" width="1.30" height="11.80" fill="#a89a9a"/>
<rect x="183.12" y="404.30" width="1.30" height="11.80" fill="#a89a9a"/>
<rect x="187.20" y="404.30" width="1.30" height="11.80" fill="#a89a9a"/>
<rect x="191.28" y="404.30" width="1.30" height="11.80" fill="#a89a9a"/>
<rect x="195.35" y="404.30" width="1.30" height="11.80" fill="#a89a9a"/>
<rect x="199.43" y="404.30" width="1.30" height="11.80" fill="#a89a9a"/>
<rect x="203.50" y="404.30" width="1.30" height="11.80" fill="#a89a9a"/>
<rect x="207.58" y="404.30" width="1.30" height="11.80" fill="#a89a9a"/>
<rect x="211.65" y="404.30" width="1.30" height="11.80" fill="#a89a9a"/>
<rect x="215.72" y="404.30" width="1.30" height="11.80" fill="#a89a9a"/>
<rect x="219.80" y="404.30" width="1.30" height="11.80" fill="#a89a9a"/>
<rect x="223.88" y="404.30" width="1.30" height="11.80" fill="#a89a9a"/>
<rect x="227.95" y="404.30" width="1.30" height="11.80" fill="#a89a9a"/>
<rect x="232.03" y="404.30" width="1.30" height="11.80" fill="#a89a9a"/>
<rect x="236.10" y="404.30" width="1.30" height="11.80" fill="#a89a9a"/>
<rect x="240.18" y="404.30" width="1.30" height="11.80" fill="#a89a9a"/>
<rect x="244.25" y="404.30" width="1.30" height="11.80" fill="#a89a9a"/>
<rect x="248.33" y="404.30" width="1.30" height="11.80" fill="#a89a9a"/>
<rect x="252.40" y="404.30" width="1.30" height="11.80" fill="#a89a9a"/>
<rect x="256.48" y="404.30" width="1.30" height="11.80" fill="#a89a9a"/>
<rect x="260.55" y="404.30" width="1.30" height="11.80" fill="#a89a9a"/>
<rect x="264.62" y="404.30" width="1.30" height="11.80" fill="#a89a9a"/>
<rect x="268.70" y="404.30" width="1.30" height="11.80" fill="#a89a9a"/>
<rect x="272.78" y="404.30" width="1.30" height="11.80" fill="#a89a9a"/>
<rect x="276.85" y="404.30" width="1.30" height="11.80" fill="#a89a9a"/>
<rect x="280.93" y="404.30" width="1.30" height="11.80" fill="#a89a9a"/>
<rect x="285.00" y="404.30" width="1.30" height="11.80" fill="#a89a9a"/>
<rect x="289.08" y="404.30" width="1.30" height="11.80" fill="#a89a9a"/>
<rect x="293.15" y="404.30" width="1.30" height="11.80" fill="#a89a9a"/>
<rect x="297.23" y="404.30" width="1.30" height="11.80" fill="#a89a9a"/>
<rect x="301.30" y="404.30" width="1.30" height="11.80" fill="#a89a9a"/>
<rect x="305.38" y="404.30" width="1.30" height="11.80" fill="#a89a9a"/>
<rect x="309.45" y="404.30" width="1.30" height="11.80" fill="#a89a9a"/>
<rect x="313.53" y="404.30" width="1.30" height="11.80" fill="#a89a9a"/>
<rect x="317.60" y="404.30" width="1.30" height="11.80" fill="#a89a9a"/>
<rect x="321.68" y="404.30" width="1.30" height="11.80" fill="#a89a9a"/>
<rect x="325.75" y="404.30" width="1.30" height="11.80" fill="#a89a9a"/>
<rect x="329.83" y="404.30" width="1.30" height="11.80" fill="#a89a9a"/>
<rect x="333.90" y="404.30" width="1.30" height="11.80" fill="#a89a9a"/>
<rect x="337.98" y="404.30" width="1.30" height="11.80" fill="#a89a9a"/>
<rect x="342.05" y="404.30" width="1.30" height="11.80" fill="#a89a9a"/>
<rect x="346.12" y="404.30" width="1.30" height="11.80" fill="#a89a9a"/>
<rect x="350.20" y="404.30" width="1.30" height="11.80" fill="#a89a9a"/>
<rect x="354.28" y="404.30" width="1.30" height="11.80" fill="#a89a9a"/>
<rect x="358.35" y="404.30" width="1.30" height="11.80" fill="#a89a9a"/>
<rect x="362.43" y="404.30" width="1.30" height="11.80" fill="#a89a9a"/>
<rect x="366.50" y="404.30" width="1.30" height="11.80" fill="#a89a9a"/>
<rect x="370.58" y="404.30" width="1.30" height="11.80" fill="#a89a9a"/>
<rect x="374.65" y="404.30" width="1.30" height="11.80" fill="#a89a9a"/>
<rect x="378.73" y="404.30" width="1.30" height="11.80" fill="#a89a9a"/>
<rect x="382.80" y="404.30" width="1.30" height="11.80" fill="#a89a9a"/>
<rect x="386.88" y="404.30" width="1.30" height="11.80" fill="#a89a9a"/>
<rect x="390.95" y="404.30" width="1.30" height="11.80" fill="#a89a9a"/>
<rect x="395.03" y="404.30" width="1.30" height="11.80" fill="#a89a9a"/>
<rect x="399.10" y="404.30" width="1.30" height="11.80" fill="#a89a9a"/>
<rect x="403.18" y="404.30" width="1.30" height="11.80" fill="#a89a9a"/>
<rect x="407.25" y="404.30" width="1.30" height="11.80" fill="#a89a9a"/>
<rect x="411.33" y="404.30" width="1.30" height="11.80" fill="#a89a9a"/>
<rect x="415.40" y="404.30" width="1.30" height="11.80" fill="#a89a9a"/>
<rect x="419.48" y="404.30" width="1.30" height="11.80" fill="#a89a9a"/>
<rect x="423.55" y="404.30" width="1.30" height="11.80" fill="#a89a9a"/>
<rect x="427.62" y="404.30" width="1.30" height="11.80" fill="#a89a9a"/>
<rect x="431.70" y="404.30" width="1.30" height="11.80" fill="#a89a9a"/>
<rect x="435.78" y="404.30" width="1.30" height="11.80" fill="#a89a9a"/>
<rect x="439.85" y="404.30" width="1.30" height="11.80" fill="#a89a9a"/>
<rect x="443.93" y="404.30" width="1.30" height="11.80" fill="#a89a9a"/>
<rect x="81.90" y="403.80" width="366.75" height="1.00" fill="#8a8a8a"/>
<rect x="81.90" y="415.70" width="366.75" height="0.90" fill="#9a9a9a"/>
<text x="453.4" y="362.8" font-size="7" fill="#222" stroke="#222" stroke-width="0.14">240</text>
<text x="453.4" y="372.2" font-size="7" fill="#222" stroke="#222" stroke-width="0.14">59</text>
<text x="453.4" y="381.4" font-size="7" fill="#222" stroke="#222" stroke-width="0.14">212</text>
<text x="453.4" y="390.2" font-size="7" fill="#222" stroke="#222" stroke-width="0.14">203</text>
<text x="453.4" y="399.1" font-size="7" fill="#222" stroke="#222" stroke-width="0.14">198</text>
<text x="74.7" y="436.7" font-size="7" text-anchor="end" fill="#222" stroke="#222" stroke-width="0.14">c.pos</text>
<text x="74.7" y="445.4" font-size="7" text-anchor="end" fill="#222" stroke="#222" stroke-width="0.14">CD19</text>
<text x="74.7" y="454.3" font-size="7" text-anchor="end" fill="#222" stroke="#222" stroke-width="0.14">Protein</text>
<text x="74.7" y="461.8" font-size="7" text-anchor="end" fill="#222" stroke="#222" stroke-width="0.14">CD19.cAug10</text>
<text x="74.7" y="469.0" font-size="7" text-anchor="end" fill="#222" stroke="#222" stroke-width="0.14" textLength="56.3" lengthAdjust="spacingAndGlyphs">SJALL048681_D1</text>
<text x="74.7" y="477.7" font-size="7" text-anchor="end" fill="#222" stroke="#222" stroke-width="0.14" textLength="56.3" lengthAdjust="spacingAndGlyphs">SJALL054537_D1</text>
<text x="74.7" y="489.2" font-size="7" text-anchor="end" fill="#222" stroke="#222" stroke-width="0.14">Conservation</text>
<text x="88.2625" y="432.3" font-size="7" text-anchor="middle" fill="#222" stroke="#222" stroke-width="0.14">180</text>
<line x1="88.26" y1="435.80" x2="88.26" y2="438.00" stroke="#222" stroke-width="0.9"/>
<text x="169.76250000000002" y="432.3" font-size="7" text-anchor="middle" fill="#222" stroke="#222" stroke-width="0.14">200</text>
<line x1="169.76" y1="435.80" x2="169.76" y2="438.00" stroke="#222" stroke-width="0.9"/>
<text x="251.26250000000002" y="432.3" font-size="7" text-anchor="middle" fill="#222" stroke="#222" stroke-width="0.14">220</text>
<line x1="251.26" y1="435.80" x2="251.26" y2="438.00" stroke="#222" stroke-width="0.9"/>
<text x="332.76250000000005" y="432.3" font-size="7" text-anchor="middle" fill="#222" stroke="#222" stroke-width="0.14">240</text>
<line x1="332.76" y1="435.80" x2="332.76" y2="438.00" stroke="#222" stroke-width="0.9"/>
<text x="414.26250000000005" y="432.3" font-size="7" text-anchor="middle" fill="#222" stroke="#222" stroke-width="0.14">260</text>
<line x1="414.26" y1="435.80" x2="414.26" y2="438.00" stroke="#222" stroke-width="0.9"/>
<rect x="82.15" y="440.00" width="8.17" height="5.50" fill="#1c1ce6"/>
<rect x="90.30" y="440.00" width="8.17" height="5.50" fill="#1cdc1c"/>
<rect x="98.45" y="440.00" width="4.09" height="5.50" fill="#1c1ce6"/>
<rect x="102.53" y="440.00" width="8.17" height="5.50" fill="#1cdc1c"/>
<rect x="110.68" y="440.00" width="16.32" height="5.50" fill="#ee1c1c"/>
<rect x="126.98" y="440.00" width="4.09" height="5.50" fill="#1c1ce6"/>
<rect x="131.05" y="440.00" width="4.09" height="5.50" fill="#1cdc1c"/>
<rect x="135.12" y="440.00" width="4.09" height="5.50" fill="#1c1ce6"/>
<rect x="139.20" y="440.00" width="4.09" height="5.50" fill="#ee1c1c"/>
<rect x="143.28" y="440.00" width="4.09" height="5.50" fill="#e6e64a"/>
<rect x="147.35" y="440.00" width="8.17" height="5.50" fill="#1c1ce6"/>
<rect x="155.50" y="440.00" width="4.09" height="5.50" fill="#1cdc1c"/>
<rect x="159.57" y="440.00" width="16.32" height="5.50" fill="#e6e64a"/>
<rect x="175.88" y="440.00" width="4.09" height="5.50" fill="#1c1ce6"/>
<rect x="179.95" y="440.00" width="4.09" height="5.50" fill="#1cdc1c"/>
<rect x="184.03" y="440.00" width="4.09" height="5.50" fill="#e6e64a"/>
<rect x="188.10" y="440.00" width="8.17" height="5.50" fill="#1c1ce6"/>
<rect x="196.25" y="440.00" width="4.09" height="5.50" fill="#ee1c1c"/>
<rect x="200.33" y="440.00" width="8.17" height="5.50" fill="#e6e64a"/>
<rect x="208.48" y="440.00" width="8.17" height="5.50" fill="#1c1ce6"/>
<rect x="216.62" y="440.00" width="4.09" height="5.50" fill="#1cdc1c"/>
<rect x="220.70" y="440.00" width="12.25" height="5.50" fill="#e6e64a"/>
<rect x="232.93" y="440.00" width="8.17" height="5.50" fill="#ee1c1c"/>
<rect x="241.08" y="440.00" width="4.09" height="5.50" fill="#1cdc1c"/>
<rect x="245.15" y="440.00" width="8.17" height="5.50" fill="#1c1ce6"/>
<rect x="253.30" y="440.00" width="4.09" height="5.50" fill="#ee1c1c"/>
<rect x="257.38" y="440.00" width="4.09" height="5.50" fill="#1c1ce6"/>
<rect x="261.45" y="440.00" width="4.09" height="5.50" fill="#ee1c1c"/>
<rect x="265.52" y="440.00" width="4.09" height="5.50" fill="#1cdc1c"/>
<rect x="269.60" y="440.00" width="4.09" height="5.50" fill="#e6e64a"/>
<rect x="273.68" y="440.00" width="4.09" height="5.50" fill="#ee1c1c"/>
<rect x="277.75" y="440.00" width="8.17" height="5.50" fill="#e6e64a"/>
<rect x="285.90" y="440.00" width="16.32" height="5.50" fill="#1c1ce6"/>
<rect x="302.20" y="440.00" width="4.09" height="5.50" fill="#1cdc1c"/>
<rect x="306.27" y="440.00" width="8.17" height="5.50" fill="#e6e64a"/>
<rect x="314.43" y="440.00" width="8.17" height="5.50" fill="#1c1ce6"/>
<rect x="322.58" y="440.00" width="4.09" height="5.50" fill="#ee1c1c"/>
<rect x="326.65" y="440.00" width="4.09" height="5.50" fill="#1cdc1c"/>
<rect x="330.73" y="440.00" width="4.09" height="5.50" fill="#1c1ce6"/>
<rect x="334.80" y="440.00" width="4.09" height="5.50" fill="#1cdc1c"/>
<rect x="338.88" y="440.00" width="8.17" height="5.50" fill="#e6e64a"/>
<rect x="347.02" y="440.00" width="4.09" height="5.50" fill="#1c1ce6"/>
<rect x="351.10" y="440.00" width="16.32" height="5.50" fill="#1cdc1c"/>
<rect x="367.40" y="440.00" width="4.09" height="5.50" fill="#1c1ce6"/>
<rect x="371.48" y="440.00" width="4.09" height="5.50" fill="#ee1c1c"/>
<rect x="375.55" y="440.00" width="4.09" height="5.50" fill="#1cdc1c"/>
<rect x="379.62" y="440.00" width="4.09" height="5.50" fill="#1c1ce6"/>
<rect x="383.70" y="440.00" width="8.17" height="5.50" fill="#1cdc1c"/>
<rect x="391.85" y="440.00" width="4.09" height="5.50" fill="#1c1ce6"/>
<rect x="395.93" y="440.00" width="8.17" height="5.50" fill="#ee1c1c"/>
<rect x="404.08" y="440.00" width="4.09" height="5.50" fill="#1c1ce6"/>
<rect x="408.15" y="440.00" width="4.09" height="5.50" fill="#e6e64a"/>
<rect x="412.23" y="440.00" width="4.09" height="5.50" fill="#1cdc1c"/>
<rect x="416.30" y="440.00" width="4.09" height="5.50" fill="#1c1ce6"/>
<rect x="420.38" y="440.00" width="4.09" height="5.50" fill="#1cdc1c"/>
<rect x="424.45" y="440.00" width="4.09" height="5.50" fill="#1c1ce6"/>
<rect x="428.52" y="440.00" width="4.09" height="5.50" fill="#1cdc1c"/>
<rect x="432.60" y="440.00" width="4.09" height="5.50" fill="#1c1ce6"/>
<rect x="436.68" y="440.00" width="8.17" height="5.50" fill="#ee1c1c"/>
<rect x="444.83" y="440.00" width="4.09" height="5.50" fill="#1c1ce6"/>
<text x="84.19 88.26 92.34 96.41 100.49 104.56 108.64 112.71 116.79 120.86 124.94 129.01 133.09 137.16 141.24 145.31 149.39 153.46 157.54 161.61 165.69 169.76 173.84 177.91 181.99 186.06 190.14 194.21 198.29 202.36 206.44 210.51 214.59 218.66 222.74 226.81 230.89 234.96 239.04 243.11 247.19 251.26 255.34 259.41 263.49 267.56 271.64 275.71 279.79 283.86 287.94 292.01 296.09 300.16 304.24 308.31 312.39 316.46 320.54 324.61 328.69 332.76 336.84 340.91 344.99 349.06 353.14 357.21 361.29 365.36 369.44 373.51 377.59 381.66 385.74 389.81 393.89 397.96 402.04 406.11 410.19 414.26 418.34 422.41 426.49 430.56 434.64 438.71 442.79 446.86" y="444.60" font-size="5.1" font-weight="bold" text-anchor="middle" fill="#000" opacity="0.8">CCTTCTTAAAACTCAGCCTGGGGCTGCCAGGCCTGGGAATCCACATGAGGCCCCTGGCCATCTGGCTTTTCATCTTCAACGTCTCTCAAC</text>
<text x="84.19 96.41 108.64 120.86 133.09 145.31 157.54 169.76 181.99 194.21 206.44 218.66 230.89 243.11 255.34 267.56 279.79 292.01 304.24 316.46 328.69 340.91 353.14 365.36 377.59 389.81 402.04 414.26 426.49 438.71" y="451.70" font-size="4.9" text-anchor="middle" fill="#5a5a5a">PFLKLSLGLPGLGIH<tspan fill="#72c872">M</tspan>RPLAIWLFIFNVSQ</text>
<rect x="82.15" y="453.30" width="8.17" height="5.50" fill="#1c1ce6"/>
<rect x="90.30" y="453.30" width="8.17" height="5.50" fill="#1cdc1c"/>
<rect x="98.45" y="453.30" width="4.09" height="5.50" fill="#1c1ce6"/>
<rect x="102.53" y="453.30" width="8.17" height="5.50" fill="#1cdc1c"/>
<rect x="110.68" y="453.30" width="16.32" height="5.50" fill="#ee1c1c"/>
<rect x="126.98" y="453.30" width="4.09" height="5.50" fill="#1c1ce6"/>
<rect x="131.05" y="453.30" width="4.09" height="5.50" fill="#1cdc1c"/>
<rect x="135.12" y="453.30" width="4.09" height="5.50" fill="#1c1ce6"/>
<rect x="139.20" y="453.30" width="4.09" height="5.50" fill="#ee1c1c"/>
<rect x="143.28" y="453.30" width="4.09" height="5.50" fill="#e6e64a"/>
<rect x="147.35" y="453.30" width="8.17" height="5.50" fill="#1c1ce6"/>
<text x="84.19 88.26 92.34 96.41 100.49 104.56 108.64 112.71 116.79 120.86 124.94 129.01 133.09 137.16 141.24 145.31 149.39 153.46" y="457.90" font-size="5.1" font-weight="bold" text-anchor="middle" fill="#000" opacity="0.8">CCTTCTTAAAACTCAGCC</text>
<rect x="82.15" y="462.80" width="8.17" height="5.50" fill="#1c1ce6"/>
<rect x="90.30" y="462.80" width="8.17" height="5.50" fill="#1cdc1c"/>
<rect x="98.45" y="462.80" width="4.09" height="5.50" fill="#1c1ce6"/>
<rect x="102.53" y="462.80" width="8.17" height="5.50" fill="#1cdc1c"/>
<rect x="110.68" y="462.80" width="16.32" height="5.50" fill="#ee1c1c"/>
<rect x="126.98" y="462.80" width="4.09" height="5.50" fill="#1c1ce6"/>
<rect x="131.05" y="462.80" width="4.09" height="5.50" fill="#1cdc1c"/>
<rect x="135.12" y="462.80" width="4.09" height="5.50" fill="#1c1ce6"/>
<rect x="139.20" y="462.80" width="4.09" height="5.50" fill="#ee1c1c"/>
<rect x="143.28" y="462.80" width="4.09" height="5.50" fill="#e6e64a"/>
<rect x="147.35" y="462.80" width="8.17" height="5.50" fill="#1c1ce6"/>
<text x="84.19 88.26 92.34 96.41 100.49 104.56 108.64 112.71 116.79 120.86 124.94 129.01 133.09 137.16 141.24 145.31 149.39 153.46" y="467.40" font-size="5.1" font-weight="bold" text-anchor="middle" fill="#000" opacity="0.8">CCTTCTTAAAACTCAGCC</text>
<rect x="82.15" y="472.00" width="8.17" height="5.50" fill="#1c1ce6"/>
<rect x="90.30" y="472.00" width="8.17" height="5.50" fill="#1cdc1c"/>
<rect x="98.45" y="472.00" width="4.09" height="5.50" fill="#1c1ce6"/>
<rect x="102.53" y="472.00" width="8.17" height="5.50" fill="#1cdc1c"/>
<rect x="110.68" y="472.00" width="16.32" height="5.50" fill="#ee1c1c"/>
<rect x="126.98" y="472.00" width="4.09" height="5.50" fill="#1c1ce6"/>
<rect x="131.05" y="472.00" width="4.09" height="5.50" fill="#1cdc1c"/>
<rect x="135.12" y="472.00" width="4.09" height="5.50" fill="#1c1ce6"/>
<rect x="139.20" y="472.00" width="4.09" height="5.50" fill="#ee1c1c"/>
<rect x="143.28" y="472.00" width="4.09" height="5.50" fill="#e6e64a"/>
<rect x="147.35" y="472.00" width="8.17" height="5.50" fill="#1c1ce6"/>
<text x="84.19 88.26 92.34 96.41 100.49 104.56 108.64 112.71 116.79 120.86 124.94 129.01 133.09 137.16 141.24 145.31 149.39 153.46" y="476.60" font-size="5.1" font-weight="bold" text-anchor="middle" fill="#000" opacity="0.8">CCTTCTTAAAACTCAGCC</text>
<rect x="156.99" y="456.25" width="1.10" height="0.90" fill="#6a6a6a"/>
<rect x="161.06" y="456.25" width="1.10" height="0.90" fill="#6a6a6a"/>
<rect x="165.14" y="456.25" width="1.10" height="0.90" fill="#6a6a6a"/>
<rect x="169.21" y="456.25" width="1.10" height="0.90" fill="#6a6a6a"/>
<rect x="173.29" y="456.25" width="1.10" height="0.90" fill="#6a6a6a"/>
<rect x="177.36" y="456.25" width="1.10" height="0.90" fill="#6a6a6a"/>
<rect x="181.44" y="456.25" width="1.10" height="0.90" fill="#6a6a6a"/>
<rect x="185.51" y="456.25" width="1.10" height="0.90" fill="#6a6a6a"/>
<rect x="189.59" y="456.25" width="1.10" height="0.90" fill="#6a6a6a"/>
<rect x="193.66" y="456.25" width="1.10" height="0.90" fill="#6a6a6a"/>
<rect x="197.74" y="456.25" width="1.10" height="0.90" fill="#6a6a6a"/>
<rect x="201.81" y="456.25" width="1.10" height="0.90" fill="#6a6a6a"/>
<rect x="205.89" y="456.25" width="1.10" height="0.90" fill="#6a6a6a"/>
<rect x="209.96" y="456.25" width="1.10" height="0.90" fill="#6a6a6a"/>
<rect x="214.04" y="456.25" width="1.10" height="0.90" fill="#6a6a6a"/>
<rect x="218.11" y="456.25" width="1.10" height="0.90" fill="#6a6a6a"/>
<rect x="222.19" y="456.25" width="1.10" height="0.90" fill="#6a6a6a"/>
<rect x="226.26" y="456.25" width="1.10" height="0.90" fill="#6a6a6a"/>
<rect x="230.34" y="456.25" width="1.10" height="0.90" fill="#6a6a6a"/>
<rect x="234.41" y="456.25" width="1.10" height="0.90" fill="#6a6a6a"/>
<rect x="238.49" y="456.25" width="1.10" height="0.90" fill="#6a6a6a"/>
<rect x="242.56" y="456.25" width="1.10" height="0.90" fill="#6a6a6a"/>
<rect x="246.64" y="456.25" width="1.10" height="0.90" fill="#6a6a6a"/>
<rect x="250.71" y="456.25" width="1.10" height="0.90" fill="#6a6a6a"/>
<rect x="254.79" y="456.25" width="1.10" height="0.90" fill="#6a6a6a"/>
<rect x="258.86" y="456.25" width="1.10" height="0.90" fill="#6a6a6a"/>
<rect x="262.94" y="456.25" width="1.10" height="0.90" fill="#6a6a6a"/>
<rect x="267.01" y="456.25" width="1.10" height="0.90" fill="#6a6a6a"/>
<rect x="271.09" y="456.25" width="1.10" height="0.90" fill="#6a6a6a"/>
<rect x="275.16" y="456.25" width="1.10" height="0.90" fill="#6a6a6a"/>
<rect x="279.24" y="456.25" width="1.10" height="0.90" fill="#6a6a6a"/>
<rect x="283.31" y="456.25" width="1.10" height="0.90" fill="#6a6a6a"/>
<rect x="287.39" y="456.25" width="1.10" height="0.90" fill="#6a6a6a"/>
<rect x="291.46" y="456.25" width="1.10" height="0.90" fill="#6a6a6a"/>
<rect x="295.54" y="456.25" width="1.10" height="0.90" fill="#6a6a6a"/>
<rect x="299.61" y="456.25" width="1.10" height="0.90" fill="#6a6a6a"/>
<rect x="303.69" y="456.25" width="1.10" height="0.90" fill="#6a6a6a"/>
<rect x="307.76" y="456.25" width="1.10" height="0.90" fill="#6a6a6a"/>
<rect x="311.84" y="456.25" width="1.10" height="0.90" fill="#6a6a6a"/>
<rect x="315.91" y="456.25" width="1.10" height="0.90" fill="#6a6a6a"/>
<rect x="319.99" y="456.25" width="1.10" height="0.90" fill="#6a6a6a"/>
<rect x="324.06" y="456.25" width="1.10" height="0.90" fill="#6a6a6a"/>
<rect x="328.14" y="456.25" width="1.10" height="0.90" fill="#6a6a6a"/>
<rect x="332.21" y="456.25" width="1.10" height="0.90" fill="#6a6a6a"/>
<rect x="336.29" y="456.25" width="1.10" height="0.90" fill="#6a6a6a"/>
<rect x="340.36" y="456.25" width="1.10" height="0.90" fill="#6a6a6a"/>
<rect x="344.44" y="456.25" width="1.10" height="0.90" fill="#6a6a6a"/>
<rect x="348.51" y="456.25" width="1.10" height="0.90" fill="#6a6a6a"/>
<rect x="352.59" y="456.25" width="1.10" height="0.90" fill="#6a6a6a"/>
<rect x="356.66" y="456.25" width="1.10" height="0.90" fill="#6a6a6a"/>
<rect x="360.74" y="456.25" width="1.10" height="0.90" fill="#6a6a6a"/>
<rect x="364.81" y="456.25" width="1.10" height="0.90" fill="#6a6a6a"/>
<rect x="368.89" y="456.25" width="1.10" height="0.90" fill="#6a6a6a"/>
<rect x="372.96" y="456.25" width="1.10" height="0.90" fill="#6a6a6a"/>
<rect x="377.04" y="456.25" width="1.10" height="0.90" fill="#6a6a6a"/>
<rect x="381.11" y="456.25" width="1.10" height="0.90" fill="#6a6a6a"/>
<rect x="385.19" y="456.25" width="1.10" height="0.90" fill="#6a6a6a"/>
<rect x="389.26" y="456.25" width="1.10" height="0.90" fill="#6a6a6a"/>
<rect x="393.34" y="456.25" width="1.10" height="0.90" fill="#6a6a6a"/>
<rect x="397.41" y="456.25" width="1.10" height="0.90" fill="#6a6a6a"/>
<rect x="401.49" y="456.25" width="1.10" height="0.90" fill="#6a6a6a"/>
<rect x="405.56" y="456.25" width="1.10" height="0.90" fill="#6a6a6a"/>
<rect x="409.64" y="456.25" width="1.10" height="0.90" fill="#6a6a6a"/>
<rect x="413.71" y="456.25" width="1.10" height="0.90" fill="#6a6a6a"/>
<rect x="417.79" y="456.25" width="1.10" height="0.90" fill="#6a6a6a"/>
<rect x="421.86" y="456.25" width="1.10" height="0.90" fill="#6a6a6a"/>
<rect x="425.94" y="456.25" width="1.10" height="0.90" fill="#6a6a6a"/>
<rect x="430.01" y="456.25" width="1.10" height="0.90" fill="#6a6a6a"/>
<rect x="434.09" y="456.25" width="1.10" height="0.90" fill="#6a6a6a"/>
<rect x="438.16" y="456.25" width="1.10" height="0.90" fill="#6a6a6a"/>
<rect x="442.24" y="456.25" width="1.10" height="0.90" fill="#6a6a6a"/>
<rect x="446.31" y="456.25" width="1.10" height="0.90" fill="#6a6a6a"/>
<rect x="156.99" y="466.05" width="1.10" height="0.90" fill="#6a6a6a"/>
<rect x="161.06" y="466.05" width="1.10" height="0.90" fill="#6a6a6a"/>
<rect x="165.14" y="466.05" width="1.10" height="0.90" fill="#6a6a6a"/>
<rect x="169.21" y="466.05" width="1.10" height="0.90" fill="#6a6a6a"/>
<rect x="173.29" y="466.05" width="1.10" height="0.90" fill="#6a6a6a"/>
<rect x="177.36" y="466.05" width="1.10" height="0.90" fill="#6a6a6a"/>
<rect x="181.44" y="466.05" width="1.10" height="0.90" fill="#6a6a6a"/>
<rect x="185.51" y="466.05" width="1.10" height="0.90" fill="#6a6a6a"/>
<rect x="189.59" y="466.05" width="1.10" height="0.90" fill="#6a6a6a"/>
<rect x="193.66" y="466.05" width="1.10" height="0.90" fill="#6a6a6a"/>
<rect x="197.74" y="466.05" width="1.10" height="0.90" fill="#6a6a6a"/>
<rect x="201.81" y="466.05" width="1.10" height="0.90" fill="#6a6a6a"/>
<rect x="205.89" y="466.05" width="1.10" height="0.90" fill="#6a6a6a"/>
<rect x="209.96" y="466.05" width="1.10" height="0.90" fill="#6a6a6a"/>
<rect x="214.04" y="466.05" width="1.10" height="0.90" fill="#6a6a6a"/>
<rect x="218.11" y="466.05" width="1.10" height="0.90" fill="#6a6a6a"/>
<rect x="222.19" y="466.05" width="1.10" height="0.90" fill="#6a6a6a"/>
<rect x="226.26" y="466.05" width="1.10" height="0.90" fill="#6a6a6a"/>
<rect x="230.34" y="466.05" width="1.10" height="0.90" fill="#6a6a6a"/>
<rect x="234.41" y="466.05" width="1.10" height="0.90" fill="#6a6a6a"/>
<rect x="238.49" y="466.05" width="1.10" height="0.90" fill="#6a6a6a"/>
<rect x="242.56" y="466.05" width="1.10" height="0.90" fill="#6a6a6a"/>
<rect x="246.64" y="466.05" width="1.10" height="0.90" fill="#6a6a6a"/>
<rect x="250.71" y="466.05" width="1.10" height="0.90" fill="#6a6a6a"/>
<rect x="254.79" y="466.05" width="1.10" height="0.90" fill="#6a6a6a"/>
<rect x="258.86" y="466.05" width="1.10" height="0.90" fill="#6a6a6a"/>
<rect x="262.94" y="466.05" width="1.10" height="0.90" fill="#6a6a6a"/>
<rect x="267.01" y="466.05" width="1.10" height="0.90" fill="#6a6a6a"/>
<rect x="271.09" y="466.05" width="1.10" height="0.90" fill="#6a6a6a"/>
<rect x="275.16" y="466.05" width="1.10" height="0.90" fill="#6a6a6a"/>
<rect x="279.24" y="466.05" width="1.10" height="0.90" fill="#6a6a6a"/>
<rect x="283.31" y="466.05" width="1.10" height="0.90" fill="#6a6a6a"/>
<rect x="287.39" y="466.05" width="1.10" height="0.90" fill="#6a6a6a"/>
<rect x="291.46" y="466.05" width="1.10" height="0.90" fill="#6a6a6a"/>
<rect x="295.54" y="466.05" width="1.10" height="0.90" fill="#6a6a6a"/>
<rect x="299.61" y="466.05" width="1.10" height="0.90" fill="#6a6a6a"/>
<rect x="303.69" y="466.05" width="1.10" height="0.90" fill="#6a6a6a"/>
<rect x="307.76" y="466.05" width="1.10" height="0.90" fill="#6a6a6a"/>
<rect x="311.84" y="466.05" width="1.10" height="0.90" fill="#6a6a6a"/>
<rect x="315.91" y="466.05" width="1.10" height="0.90" fill="#6a6a6a"/>
<rect x="319.99" y="466.05" width="1.10" height="0.90" fill="#6a6a6a"/>
<rect x="324.06" y="466.05" width="1.10" height="0.90" fill="#6a6a6a"/>
<rect x="328.14" y="466.05" width="1.10" height="0.90" fill="#6a6a6a"/>
<rect x="332.21" y="466.05" width="1.10" height="0.90" fill="#6a6a6a"/>
<rect x="336.29" y="466.05" width="1.10" height="0.90" fill="#6a6a6a"/>
<rect x="340.36" y="466.05" width="1.10" height="0.90" fill="#6a6a6a"/>
<rect x="344.44" y="466.05" width="1.10" height="0.90" fill="#6a6a6a"/>
<rect x="348.51" y="466.05" width="1.10" height="0.90" fill="#6a6a6a"/>
<rect x="352.59" y="466.05" width="1.10" height="0.90" fill="#6a6a6a"/>
<rect x="356.66" y="466.05" width="1.10" height="0.90" fill="#6a6a6a"/>
<rect x="360.74" y="466.05" width="1.10" height="0.90" fill="#6a6a6a"/>
<rect x="364.81" y="466.05" width="1.10" height="0.90" fill="#6a6a6a"/>
<rect x="368.89" y="466.05" width="1.10" height="0.90" fill="#6a6a6a"/>
<rect x="372.96" y="466.05" width="1.10" height="0.90" fill="#6a6a6a"/>
<rect x="377.04" y="466.05" width="1.10" height="0.90" fill="#6a6a6a"/>
<rect x="381.11" y="466.05" width="1.10" height="0.90" fill="#6a6a6a"/>
<rect x="385.19" y="466.05" width="1.10" height="0.90" fill="#6a6a6a"/>
<rect x="389.26" y="466.05" width="1.10" height="0.90" fill="#6a6a6a"/>
<rect x="393.34" y="466.05" width="1.10" height="0.90" fill="#6a6a6a"/>
<rect x="397.41" y="466.05" width="1.10" height="0.90" fill="#6a6a6a"/>
<rect x="401.49" y="466.05" width="1.10" height="0.90" fill="#6a6a6a"/>
<rect x="405.56" y="466.05" width="1.10" height="0.90" fill="#6a6a6a"/>
<rect x="409.64" y="466.05" width="1.10" height="0.90" fill="#6a6a6a"/>
<rect x="413.71" y="466.05" width="1.10" height="0.90" fill="#6a6a6a"/>
<rect x="417.79" y="466.05" width="1.10" height="0.90" fill="#6a6a6a"/>
<rect x="421.86" y="466.05" width="1.10" height="0.90" fill="#6a6a6a"/>
<rect x="425.94" y="466.05" width="1.10" height="0.90" fill="#6a6a6a"/>
<rect x="430.01" y="466.05" width="1.10" height="0.90" fill="#6a6a6a"/>
<rect x="434.09" y="466.05" width="1.10" height="0.90" fill="#6a6a6a"/>
<rect x="438.16" y="466.05" width="1.10" height="0.90" fill="#6a6a6a"/>
<rect x="442.24" y="466.05" width="1.10" height="0.90" fill="#6a6a6a"/>
<rect x="446.31" y="466.05" width="1.10" height="0.90" fill="#6a6a6a"/>
<rect x="156.99" y="474.95" width="1.10" height="0.90" fill="#6a6a6a"/>
<rect x="161.06" y="474.95" width="1.10" height="0.90" fill="#6a6a6a"/>
<rect x="165.14" y="474.95" width="1.10" height="0.90" fill="#6a6a6a"/>
<rect x="169.21" y="474.95" width="1.10" height="0.90" fill="#6a6a6a"/>
<rect x="173.29" y="474.95" width="1.10" height="0.90" fill="#6a6a6a"/>
<rect x="177.36" y="474.95" width="1.10" height="0.90" fill="#6a6a6a"/>
<rect x="181.44" y="474.95" width="1.10" height="0.90" fill="#6a6a6a"/>
<rect x="185.51" y="474.95" width="1.10" height="0.90" fill="#6a6a6a"/>
<rect x="189.59" y="474.95" width="1.10" height="0.90" fill="#6a6a6a"/>
<rect x="193.66" y="474.95" width="1.10" height="0.90" fill="#6a6a6a"/>
<rect x="197.74" y="474.95" width="1.10" height="0.90" fill="#6a6a6a"/>
<rect x="201.81" y="474.95" width="1.10" height="0.90" fill="#6a6a6a"/>
<rect x="205.89" y="474.95" width="1.10" height="0.90" fill="#6a6a6a"/>
<rect x="209.96" y="474.95" width="1.10" height="0.90" fill="#6a6a6a"/>
<rect x="214.04" y="474.95" width="1.10" height="0.90" fill="#6a6a6a"/>
<rect x="218.11" y="474.95" width="1.10" height="0.90" fill="#6a6a6a"/>
<rect x="222.19" y="474.95" width="1.10" height="0.90" fill="#6a6a6a"/>
<rect x="226.26" y="474.95" width="1.10" height="0.90" fill="#6a6a6a"/>
<rect x="230.34" y="474.95" width="1.10" height="0.90" fill="#6a6a6a"/>
<rect x="234.41" y="474.95" width="1.10" height="0.90" fill="#6a6a6a"/>
<rect x="238.49" y="474.95" width="1.10" height="0.90" fill="#6a6a6a"/>
<rect x="242.56" y="474.95" width="1.10" height="0.90" fill="#6a6a6a"/>
<rect x="246.64" y="474.95" width="1.10" height="0.90" fill="#6a6a6a"/>
<rect x="250.71" y="474.95" width="1.10" height="0.90" fill="#6a6a6a"/>
<rect x="254.79" y="474.95" width="1.10" height="0.90" fill="#6a6a6a"/>
<rect x="258.86" y="474.95" width="1.10" height="0.90" fill="#6a6a6a"/>
<rect x="262.94" y="474.95" width="1.10" height="0.90" fill="#6a6a6a"/>
<rect x="267.01" y="474.95" width="1.10" height="0.90" fill="#6a6a6a"/>
<rect x="271.09" y="474.95" width="1.10" height="0.90" fill="#6a6a6a"/>
<rect x="275.16" y="474.95" width="1.10" height="0.90" fill="#6a6a6a"/>
<rect x="279.24" y="474.95" width="1.10" height="0.90" fill="#6a6a6a"/>
<rect x="283.31" y="474.95" width="1.10" height="0.90" fill="#6a6a6a"/>
<rect x="287.39" y="474.95" width="1.10" height="0.90" fill="#6a6a6a"/>
<rect x="291.46" y="474.95" width="1.10" height="0.90" fill="#6a6a6a"/>
<rect x="295.54" y="474.95" width="1.10" height="0.90" fill="#6a6a6a"/>
<rect x="299.61" y="474.95" width="1.10" height="0.90" fill="#6a6a6a"/>
<rect x="303.69" y="474.95" width="1.10" height="0.90" fill="#6a6a6a"/>
<rect x="307.76" y="474.95" width="1.10" height="0.90" fill="#6a6a6a"/>
<rect x="311.84" y="474.95" width="1.10" height="0.90" fill="#6a6a6a"/>
<rect x="315.91" y="474.95" width="1.10" height="0.90" fill="#6a6a6a"/>
<rect x="319.99" y="474.95" width="1.10" height="0.90" fill="#6a6a6a"/>
<rect x="324.06" y="474.95" width="1.10" height="0.90" fill="#6a6a6a"/>
<rect x="328.14" y="474.95" width="1.10" height="0.90" fill="#6a6a6a"/>
<rect x="332.21" y="474.95" width="1.10" height="0.90" fill="#6a6a6a"/>
<rect x="336.29" y="474.95" width="1.10" height="0.90" fill="#6a6a6a"/>
<rect x="340.36" y="474.95" width="1.10" height="0.90" fill="#6a6a6a"/>
<rect x="344.44" y="474.95" width="1.10" height="0.90" fill="#6a6a6a"/>
<rect x="348.51" y="474.95" width="1.10" height="0.90" fill="#6a6a6a"/>
<rect x="352.59" y="474.95" width="1.10" height="0.90" fill="#6a6a6a"/>
<rect x="356.66" y="474.95" width="1.10" height="0.90" fill="#6a6a6a"/>
<rect x="360.74" y="474.95" width="1.10" height="0.90" fill="#6a6a6a"/>
<rect x="364.81" y="474.95" width="1.10" height="0.90" fill="#6a6a6a"/>
<rect x="368.89" y="474.95" width="1.10" height="0.90" fill="#6a6a6a"/>
<rect x="372.96" y="474.95" width="1.10" height="0.90" fill="#6a6a6a"/>
<rect x="377.04" y="474.95" width="1.10" height="0.90" fill="#6a6a6a"/>
<rect x="381.11" y="474.95" width="1.10" height="0.90" fill="#6a6a6a"/>
<rect x="385.19" y="474.95" width="1.10" height="0.90" fill="#6a6a6a"/>
<rect x="389.26" y="474.95" width="1.10" height="0.90" fill="#6a6a6a"/>
<rect x="393.34" y="474.95" width="1.10" height="0.90" fill="#6a6a6a"/>
<rect x="397.41" y="474.95" width="1.10" height="0.90" fill="#6a6a6a"/>
<rect x="401.49" y="474.95" width="1.10" height="0.90" fill="#6a6a6a"/>
<rect x="405.56" y="474.95" width="1.10" height="0.90" fill="#6a6a6a"/>
<rect x="409.64" y="474.95" width="1.10" height="0.90" fill="#6a6a6a"/>
<rect x="413.71" y="474.95" width="1.10" height="0.90" fill="#6a6a6a"/>
<rect x="417.79" y="474.95" width="1.10" height="0.90" fill="#6a6a6a"/>
<rect x="421.86" y="474.95" width="1.10" height="0.90" fill="#6a6a6a"/>
<rect x="425.94" y="474.95" width="1.10" height="0.90" fill="#6a6a6a"/>
<rect x="430.01" y="474.95" width="1.10" height="0.90" fill="#6a6a6a"/>
<rect x="434.09" y="474.95" width="1.10" height="0.90" fill="#6a6a6a"/>
<rect x="438.16" y="474.95" width="1.10" height="0.90" fill="#6a6a6a"/>
<rect x="442.24" y="474.95" width="1.10" height="0.90" fill="#6a6a6a"/>
<rect x="446.31" y="474.95" width="1.10" height="0.90" fill="#6a6a6a"/>
<rect x="82.15" y="481.30" width="73.35" height="12.40" fill="#ffb0b0"/>
<rect x="85.58" y="481.80" width="1.30" height="11.40" fill="#a89a9a"/>
<rect x="89.65" y="481.80" width="1.30" height="11.40" fill="#a89a9a"/>
<rect x="93.72" y="481.80" width="1.30" height="11.40" fill="#a89a9a"/>
<rect x="97.80" y="481.80" width="1.30" height="11.40" fill="#a89a9a"/>
<rect x="101.88" y="481.80" width="1.30" height="11.40" fill="#a89a9a"/>
<rect x="105.95" y="481.80" width="1.30" height="11.40" fill="#a89a9a"/>
<rect x="110.03" y="481.80" width="1.30" height="11.40" fill="#a89a9a"/>
<rect x="114.10" y="481.80" width="1.30" height="11.40" fill="#a89a9a"/>
<rect x="118.18" y="481.80" width="1.30" height="11.40" fill="#a89a9a"/>
<rect x="122.25" y="481.80" width="1.30" height="11.40" fill="#a89a9a"/>
<rect x="126.33" y="481.80" width="1.30" height="11.40" fill="#a89a9a"/>
<rect x="130.40" y="481.80" width="1.30" height="11.40" fill="#a89a9a"/>
<rect x="134.47" y="481.80" width="1.30" height="11.40" fill="#a89a9a"/>
<rect x="138.55" y="481.80" width="1.30" height="11.40" fill="#a89a9a"/>
<rect x="142.62" y="481.80" width="1.30" height="11.40" fill="#a89a9a"/>
<rect x="146.70" y="481.80" width="1.30" height="11.40" fill="#a89a9a"/>
<rect x="150.78" y="481.80" width="1.30" height="11.40" fill="#a89a9a"/>
<rect x="82.15" y="481.30" width="73.35" height="1.00" fill="#8a8a8a"/>
<rect x="82.15" y="492.80" width="73.35" height="0.90" fill="#9a9a9a"/>
<rect x="155.50" y="481.30" width="293.40" height="12.40" fill="#e8e8e8"/>
<rect x="155.50" y="481.30" width="293.40" height="1.20" fill="#8f8f8f"/>
<rect x="155.95" y="490.10" width="3.18" height="2.80" fill="#f29a9a"/>
<rect x="160.02" y="490.10" width="3.18" height="2.80" fill="#f29a9a"/>
<rect x="164.10" y="490.10" width="3.18" height="2.80" fill="#f29a9a"/>
<rect x="168.18" y="490.10" width="3.18" height="2.80" fill="#f29a9a"/>
<rect x="172.25" y="490.10" width="3.18" height="2.80" fill="#f29a9a"/>
<rect x="176.32" y="490.10" width="3.18" height="2.80" fill="#f29a9a"/>
<rect x="180.40" y="490.10" width="3.18" height="2.80" fill="#f29a9a"/>
<rect x="184.47" y="490.10" width="3.18" height="2.80" fill="#f29a9a"/>
<rect x="188.55" y="490.10" width="3.18" height="2.80" fill="#f29a9a"/>
<rect x="192.62" y="490.10" width="3.18" height="2.80" fill="#f29a9a"/>
<rect x="196.70" y="490.10" width="3.18" height="2.80" fill="#f29a9a"/>
<rect x="200.78" y="490.10" width="3.18" height="2.80" fill="#f29a9a"/>
<rect x="204.85" y="490.10" width="3.18" height="2.80" fill="#f29a9a"/>
<rect x="208.93" y="490.10" width="3.18" height="2.80" fill="#f29a9a"/>
<rect x="213.00" y="490.10" width="3.18" height="2.80" fill="#f29a9a"/>
<rect x="217.07" y="490.10" width="3.18" height="2.80" fill="#f29a9a"/>
<rect x="221.15" y="490.10" width="3.18" height="2.80" fill="#f29a9a"/>
<rect x="225.22" y="490.10" width="3.18" height="2.80" fill="#f29a9a"/>
<rect x="229.30" y="490.10" width="3.18" height="2.80" fill="#f29a9a"/>
<rect x="233.38" y="490.10" width="3.18" height="2.80" fill="#f29a9a"/>
<rect x="237.45" y="490.10" width="3.18" height="2.80" fill="#f29a9a"/>
<rect x="241.53" y="490.10" width="3.18" height="2.80" fill="#f29a9a"/>
<rect x="245.60" y="490.10" width="3.18" height="2.80" fill="#f29a9a"/>
<rect x="249.68" y="490.10" width="3.18" height="2.80" fill="#f29a9a"/>
<rect x="253.75" y="490.10" width="3.18" height="2.80" fill="#f29a9a"/>
<rect x="257.82" y="490.10" width="3.18" height="2.80" fill="#f29a9a"/>
<rect x="261.90" y="490.10" width="3.18" height="2.80" fill="#f29a9a"/>
<rect x="265.97" y="490.10" width="3.18" height="2.80" fill="#f29a9a"/>
<rect x="270.05" y="490.10" width="3.18" height="2.80" fill="#f29a9a"/>
<rect x="274.12" y="490.10" width="3.18" height="2.80" fill="#f29a9a"/>
<rect x="278.20" y="490.10" width="3.18" height="2.80" fill="#f29a9a"/>
<rect x="282.28" y="490.10" width="3.18" height="2.80" fill="#f29a9a"/>
<rect x="286.35" y="490.10" width="3.18" height="2.80" fill="#f29a9a"/>
<rect x="290.43" y="490.10" width="3.18" height="2.80" fill="#f29a9a"/>
<rect x="294.50" y="490.10" width="3.18" height="2.80" fill="#f29a9a"/>
<rect x="298.57" y="490.10" width="3.18" height="2.80" fill="#f29a9a"/>
<rect x="302.65" y="490.10" width="3.18" height="2.80" fill="#f29a9a"/>
<rect x="306.72" y="490.10" width="3.18" height="2.80" fill="#f29a9a"/>
<rect x="310.80" y="490.10" width="3.18" height="2.80" fill="#f29a9a"/>
<rect x="314.88" y="490.10" width="3.18" height="2.80" fill="#f29a9a"/>
<rect x="318.95" y="490.10" width="3.18" height="2.80" fill="#f29a9a"/>
<rect x="323.03" y="490.10" width="3.18" height="2.80" fill="#f29a9a"/>
<rect x="327.10" y="490.10" width="3.18" height="2.80" fill="#f29a9a"/>
<rect x="331.18" y="490.10" width="3.18" height="2.80" fill="#f29a9a"/>
<rect x="335.25" y="490.10" width="3.18" height="2.80" fill="#f29a9a"/>
<rect x="339.32" y="490.10" width="3.18" height="2.80" fill="#f29a9a"/>
<rect x="343.40" y="490.10" width="3.18" height="2.80" fill="#f29a9a"/>
<rect x="347.47" y="490.10" width="3.18" height="2.80" fill="#f29a9a"/>
<rect x="351.55" y="490.10" width="3.18" height="2.80" fill="#f29a9a"/>
<rect x="355.63" y="490.10" width="3.18" height="2.80" fill="#f29a9a"/>
<rect x="359.70" y="490.10" width="3.18" height="2.80" fill="#f29a9a"/>
<rect x="363.78" y="490.10" width="3.18" height="2.80" fill="#f29a9a"/>
<rect x="367.85" y="490.10" width="3.18" height="2.80" fill="#f29a9a"/>
<rect x="371.93" y="490.10" width="3.18" height="2.80" fill="#f29a9a"/>
<rect x="376.00" y="490.10" width="3.18" height="2.80" fill="#f29a9a"/>
<rect x="380.07" y="490.10" width="3.18" height="2.80" fill="#f29a9a"/>
<rect x="384.15" y="490.10" width="3.18" height="2.80" fill="#f29a9a"/>
<rect x="388.22" y="490.10" width="3.18" height="2.80" fill="#f29a9a"/>
<rect x="392.30" y="490.10" width="3.18" height="2.80" fill="#f29a9a"/>
<rect x="396.38" y="490.10" width="3.18" height="2.80" fill="#f29a9a"/>
<rect x="400.45" y="490.10" width="3.18" height="2.80" fill="#f29a9a"/>
<rect x="404.53" y="490.10" width="3.18" height="2.80" fill="#f29a9a"/>
<rect x="408.60" y="490.10" width="3.18" height="2.80" fill="#f29a9a"/>
<rect x="412.68" y="490.10" width="3.18" height="2.80" fill="#f29a9a"/>
<rect x="416.75" y="490.10" width="3.18" height="2.80" fill="#f29a9a"/>
<rect x="420.82" y="490.10" width="3.18" height="2.80" fill="#f29a9a"/>
<rect x="424.90" y="490.10" width="3.18" height="2.80" fill="#f29a9a"/>
<rect x="428.97" y="490.10" width="3.18" height="2.80" fill="#f29a9a"/>
<rect x="433.05" y="490.10" width="3.18" height="2.80" fill="#f29a9a"/>
<rect x="437.13" y="490.10" width="3.18" height="2.80" fill="#f29a9a"/>
<rect x="441.20" y="490.10" width="3.18" height="2.80" fill="#f29a9a"/>
<rect x="445.28" y="490.10" width="3.18" height="2.80" fill="#f29a9a"/>
<text x="453.4" y="445.4" font-size="7" fill="#222" stroke="#222" stroke-width="0.14">330</text>
<text x="453.4" y="453.7" font-size="7" fill="#222" stroke="#222" stroke-width="0.14">89</text>
<text x="453.4" y="461.9" font-size="7" fill="#222" stroke="#222" stroke-width="0.14">230</text>
<text x="453.4" y="470.0" font-size="7" fill="#222" stroke="#222" stroke-width="0.14">221</text>
<text x="453.4" y="477.7" font-size="7" fill="#222" stroke="#222" stroke-width="0.14">216</text>
<rect x="155.50" y="437.6" width="294.80" height="60.6" fill="none" stroke="#222" stroke-width="1.3"/>
<text x="152" y="432.6" font-size="6.6" text-anchor="middle" fill="#d84848" stroke="#d84848" stroke-width="0.14">IRE1</text>
<line x1="135.40" y1="435.90" x2="166.70" y2="435.90" stroke="#e06060" stroke-width="1.2"/>
<text x="74.5" y="518.9" font-size="7" text-anchor="end" fill="#222" stroke="#222" stroke-width="0.14">c.pos</text>
<text x="74.5" y="527.3" font-size="7" text-anchor="end" fill="#222" stroke="#222" stroke-width="0.14">CD19</text>
<text x="74.5" y="535.8" font-size="7" text-anchor="end" fill="#222" stroke="#222" stroke-width="0.14">Protein</text>
<text x="74.5" y="544.1" font-size="7" text-anchor="end" fill="#222" stroke="#222" stroke-width="0.14">CD19.cAug10</text>
<text x="74.5" y="552.6" font-size="7" text-anchor="end" fill="#222" stroke="#222" stroke-width="0.14" textLength="56.3" lengthAdjust="spacingAndGlyphs">SJALL048681_D1</text>
<text x="74.5" y="561.3" font-size="7" text-anchor="end" fill="#222" stroke="#222" stroke-width="0.14" textLength="56.3" lengthAdjust="spacingAndGlyphs">SJALL054537_D1</text>
<text x="74.5" y="570.8" font-size="7" text-anchor="end" fill="#222" stroke="#222" stroke-width="0.14">Conservation</text>
<text x="127.9125" y="514.5" font-size="7" text-anchor="middle" fill="#222" stroke="#222" stroke-width="0.14">280</text>
<line x1="127.91" y1="517.60" x2="127.91" y2="519.80" stroke="#222" stroke-width="0.9"/>
<text x="209.4125" y="514.5" font-size="7" text-anchor="middle" fill="#222" stroke="#222" stroke-width="0.14">300</text>
<line x1="209.41" y1="517.60" x2="209.41" y2="519.80" stroke="#222" stroke-width="0.9"/>
<text x="290.9125" y="514.5" font-size="7" text-anchor="middle" fill="#222" stroke="#222" stroke-width="0.14">320</text>
<line x1="290.91" y1="517.60" x2="290.91" y2="519.80" stroke="#222" stroke-width="0.9"/>
<text x="372.4125" y="514.5" font-size="7" text-anchor="middle" fill="#222" stroke="#222" stroke-width="0.14">340</text>
<line x1="372.41" y1="517.60" x2="372.41" y2="519.80" stroke="#222" stroke-width="0.9"/>
<rect x="81.05" y="521.80" width="4.09" height="5.50" fill="#ee1c1c"/>
<rect x="85.12" y="521.80" width="4.09" height="5.50" fill="#e6e64a"/>
<rect x="89.20" y="521.80" width="4.09" height="5.50" fill="#ee1c1c"/>
<rect x="93.28" y="521.80" width="4.09" height="5.50" fill="#1cdc1c"/>
<rect x="97.35" y="521.80" width="24.47" height="5.50" fill="#e6e64a"/>
<rect x="121.80" y="521.80" width="4.09" height="5.50" fill="#1c1ce6"/>
<rect x="125.88" y="521.80" width="8.17" height="5.50" fill="#1cdc1c"/>
<rect x="134.03" y="521.80" width="4.09" height="5.50" fill="#1c1ce6"/>
<rect x="138.10" y="521.80" width="4.09" height="5.50" fill="#1cdc1c"/>
<rect x="142.18" y="521.80" width="4.09" height="5.50" fill="#ee1c1c"/>
<rect x="146.25" y="521.80" width="8.17" height="5.50" fill="#1c1ce6"/>
<rect x="154.40" y="521.80" width="4.09" height="5.50" fill="#1cdc1c"/>
<rect x="158.47" y="521.80" width="4.09" height="5.50" fill="#e6e64a"/>
<rect x="162.55" y="521.80" width="4.09" height="5.50" fill="#1cdc1c"/>
<rect x="166.62" y="521.80" width="4.09" height="5.50" fill="#e6e64a"/>
<rect x="170.70" y="521.80" width="8.17" height="5.50" fill="#1c1ce6"/>
<rect x="178.85" y="521.80" width="4.09" height="5.50" fill="#ee1c1c"/>
<rect x="182.93" y="521.80" width="4.09" height="5.50" fill="#e6e64a"/>
<rect x="187.00" y="521.80" width="8.17" height="5.50" fill="#1c1ce6"/>
<rect x="195.15" y="521.80" width="16.32" height="5.50" fill="#e6e64a"/>
<rect x="211.45" y="521.80" width="24.47" height="5.50" fill="#1c1ce6"/>
<rect x="235.90" y="521.80" width="4.09" height="5.50" fill="#1cdc1c"/>
<rect x="239.98" y="521.80" width="4.09" height="5.50" fill="#1c1ce6"/>
<rect x="244.05" y="521.80" width="4.09" height="5.50" fill="#1cdc1c"/>
<rect x="248.12" y="521.80" width="4.09" height="5.50" fill="#e6e64a"/>
<rect x="252.20" y="521.80" width="4.09" height="5.50" fill="#ee1c1c"/>
<rect x="256.27" y="521.80" width="4.09" height="5.50" fill="#e6e64a"/>
<rect x="260.35" y="521.80" width="8.17" height="5.50" fill="#ee1c1c"/>
<rect x="268.50" y="521.80" width="8.17" height="5.50" fill="#e6e64a"/>
<rect x="276.65" y="521.80" width="8.17" height="5.50" fill="#1c1ce6"/>
<rect x="284.80" y="521.80" width="4.09" height="5.50" fill="#1cdc1c"/>
<rect x="288.88" y="521.80" width="8.17" height="5.50" fill="#e6e64a"/>
<rect x="297.03" y="521.80" width="4.09" height="5.50" fill="#1c1ce6"/>
<rect x="301.10" y="521.80" width="4.09" height="5.50" fill="#ee1c1c"/>
<rect x="305.18" y="521.80" width="4.09" height="5.50" fill="#e6e64a"/>
<rect x="309.25" y="521.80" width="8.17" height="5.50" fill="#1c1ce6"/>
<rect x="317.40" y="521.80" width="4.09" height="5.50" fill="#1cdc1c"/>
<rect x="321.48" y="521.80" width="8.17" height="5.50" fill="#e6e64a"/>
<rect x="329.62" y="521.80" width="4.09" height="5.50" fill="#1c1ce6"/>
<rect x="333.70" y="521.80" width="4.09" height="5.50" fill="#1cdc1c"/>
<rect x="337.78" y="521.80" width="8.17" height="5.50" fill="#e6e64a"/>
<rect x="345.93" y="521.80" width="4.09" height="5.50" fill="#ee1c1c"/>
<rect x="350.00" y="521.80" width="4.09" height="5.50" fill="#1c1ce6"/>
<rect x="354.08" y="521.80" width="4.09" height="5.50" fill="#ee1c1c"/>
<rect x="358.15" y="521.80" width="4.09" height="5.50" fill="#e6e64a"/>
<rect x="362.23" y="521.80" width="4.09" height="5.50" fill="#1cdc1c"/>
<rect x="366.30" y="521.80" width="4.09" height="5.50" fill="#1c1ce6"/>
<rect x="370.38" y="521.80" width="8.17" height="5.50" fill="#ee1c1c"/>
<rect x="378.53" y="521.80" width="4.09" height="5.50" fill="#1cdc1c"/>
<rect x="382.60" y="521.80" width="4.09" height="5.50" fill="#e6e64a"/>
<rect x="386.68" y="521.80" width="4.09" height="5.50" fill="#1cdc1c"/>
<rect x="390.75" y="521.80" width="8.17" height="5.50" fill="#e6e64a"/>
<rect x="398.90" y="521.80" width="4.09" height="5.50" fill="#ee1c1c"/>
<rect x="402.98" y="521.80" width="12.25" height="5.50" fill="#e6e64a"/>
<rect x="415.20" y="521.80" width="4.09" height="5.50" fill="#1c1ce6"/>
<rect x="419.28" y="521.80" width="4.09" height="5.50" fill="#ee1c1c"/>
<rect x="423.35" y="521.80" width="4.09" height="5.50" fill="#e6e64a"/>
<rect x="427.43" y="521.80" width="4.09" height="5.50" fill="#1c1ce6"/>
<rect x="431.50" y="521.80" width="4.09" height="5.50" fill="#e6e64a"/>
<text x="83.09 87.16 91.24 95.31 99.39 103.46 107.54 111.61 115.69 119.76 123.84 127.91 131.99 136.06 140.14 144.21 148.29 152.36 156.44 160.51 164.59 168.66 172.74 176.81 180.89 184.96 189.04 193.11 197.19 201.26 205.34 209.41 213.49 217.56 221.64 225.71 229.79 233.86 237.94 242.01 246.09 250.16 254.24 258.31 262.39 266.46 270.54 274.61 278.69 282.76 286.84 290.91 294.99 299.06 303.14 307.21 311.29 315.36 319.44 323.51 327.59 331.66 335.74 339.81 343.89 347.96 352.04 356.11 360.19 364.26 368.34 372.41 376.49 380.56 384.64 388.71 392.79 396.86 400.94 405.01 409.09 413.16 417.24 421.31 425.39 429.46 433.54" y="526.40" font-size="5.1" font-weight="bold" text-anchor="middle" fill="#000" opacity="0.8">AGATGGGGGGCTTCTACCTGTGCCAGCCGGGGCCCCCCTCTGAGAAGGCCTGGCAGCCTGGCTGGACAGTCAATGTGGAGGGCAGCG</text>
<text x="83.09 95.31 107.54 119.76 131.99 144.21 156.44 168.66 180.89 193.11 205.34 217.56 229.79 242.01 254.24 266.46 278.69 290.91 303.14 315.36 327.59 339.81 352.04 364.26 376.49 388.71 400.94 413.16 425.39" y="533.60" font-size="4.9" text-anchor="middle" fill="#5a5a5a">Q<tspan fill="#72c872">M</tspan>GGFYLCQPGPPSEKAWQPGWTVNVEGS</text>
<rect x="317.40" y="536.20" width="4.09" height="5.50" fill="#1cdc1c"/>
<rect x="321.48" y="536.20" width="8.17" height="5.50" fill="#e6e64a"/>
<rect x="329.62" y="536.20" width="4.09" height="5.50" fill="#1c1ce6"/>
<rect x="333.70" y="536.20" width="4.09" height="5.50" fill="#1cdc1c"/>
<rect x="337.78" y="536.20" width="8.17" height="5.50" fill="#e6e64a"/>
<rect x="345.93" y="536.20" width="4.09" height="5.50" fill="#ee1c1c"/>
<rect x="350.00" y="536.20" width="4.09" height="5.50" fill="#1c1ce6"/>
<rect x="354.08" y="536.20" width="4.09" height="5.50" fill="#ee1c1c"/>
<rect x="358.15" y="536.20" width="4.09" height="5.50" fill="#e6e64a"/>
<rect x="362.23" y="536.20" width="4.09" height="5.50" fill="#1cdc1c"/>
<rect x="366.30" y="536.20" width="4.09" height="5.50" fill="#1c1ce6"/>
<rect x="370.38" y="536.20" width="8.17" height="5.50" fill="#ee1c1c"/>
<rect x="378.53" y="536.20" width="4.09" height="5.50" fill="#1cdc1c"/>
<rect x="382.60" y="536.20" width="4.09" height="5.50" fill="#e6e64a"/>
<rect x="386.68" y="536.20" width="4.09" height="5.50" fill="#1cdc1c"/>
<rect x="390.75" y="536.20" width="8.17" height="5.50" fill="#e6e64a"/>
<rect x="398.90" y="536.20" width="4.09" height="5.50" fill="#ee1c1c"/>
<rect x="402.98" y="536.20" width="12.25" height="5.50" fill="#e6e64a"/>
<rect x="415.20" y="536.20" width="4.09" height="5.50" fill="#1c1ce6"/>
<rect x="419.28" y="536.20" width="4.09" height="5.50" fill="#ee1c1c"/>
<rect x="423.35" y="536.20" width="4.09" height="5.50" fill="#e6e64a"/>
<rect x="427.43" y="536.20" width="4.09" height="5.50" fill="#1c1ce6"/>
<rect x="431.50" y="536.20" width="4.09" height="5.50" fill="#e6e64a"/>
<text x="319.44 323.51 327.59 331.66 335.74 339.81 343.89 347.96 352.04 356.11 360.19 364.26 368.34 372.41 376.49 380.56 384.64 388.71 392.79 396.86 400.94 405.01 409.09 413.16 417.24 421.31 425.39 429.46 433.54" y="540.80" font-size="5.1" font-weight="bold" text-anchor="middle" fill="#000" opacity="0.8">TGGCTGGACAGTCAATGTGGAGGGCAGCG</text>
<rect x="317.40" y="546.20" width="4.09" height="5.50" fill="#1cdc1c"/>
<rect x="321.48" y="546.20" width="8.17" height="5.50" fill="#e6e64a"/>
<rect x="329.62" y="546.20" width="4.09" height="5.50" fill="#1c1ce6"/>
<rect x="333.70" y="546.20" width="4.09" height="5.50" fill="#1cdc1c"/>
<rect x="337.78" y="546.20" width="8.17" height="5.50" fill="#e6e64a"/>
<rect x="345.93" y="546.20" width="4.09" height="5.50" fill="#ee1c1c"/>
<rect x="350.00" y="546.20" width="4.09" height="5.50" fill="#1c1ce6"/>
<rect x="354.08" y="546.20" width="4.09" height="5.50" fill="#ee1c1c"/>
<rect x="358.15" y="546.20" width="4.09" height="5.50" fill="#e6e64a"/>
<rect x="362.23" y="546.20" width="4.09" height="5.50" fill="#1cdc1c"/>
<rect x="366.30" y="546.20" width="4.09" height="5.50" fill="#1c1ce6"/>
<rect x="370.38" y="546.20" width="8.17" height="5.50" fill="#ee1c1c"/>
<rect x="378.53" y="546.20" width="4.09" height="5.50" fill="#1cdc1c"/>
<rect x="382.60" y="546.20" width="4.09" height="5.50" fill="#e6e64a"/>
<rect x="386.68" y="546.20" width="4.09" height="5.50" fill="#1cdc1c"/>
<rect x="390.75" y="546.20" width="8.17" height="5.50" fill="#e6e64a"/>
<rect x="398.90" y="546.20" width="4.09" height="5.50" fill="#ee1c1c"/>
<rect x="402.98" y="546.20" width="12.25" height="5.50" fill="#e6e64a"/>
<rect x="415.20" y="546.20" width="4.09" height="5.50" fill="#1c1ce6"/>
<rect x="419.28" y="546.20" width="4.09" height="5.50" fill="#ee1c1c"/>
<rect x="423.35" y="546.20" width="4.09" height="5.50" fill="#e6e64a"/>
<rect x="427.43" y="546.20" width="4.09" height="5.50" fill="#1c1ce6"/>
<rect x="431.50" y="546.20" width="4.09" height="5.50" fill="#e6e64a"/>
<text x="319.44 323.51 327.59 331.66 335.74 339.81 343.89 347.96 352.04 356.11 360.19 364.26 368.34 372.41 376.49 380.56 384.64 388.71 392.79 396.86 400.94 405.01 409.09 413.16 417.24 421.31 425.39 429.46 433.54" y="550.80" font-size="5.1" font-weight="bold" text-anchor="middle" fill="#000" opacity="0.8">TGGCTGGACAGTCAATGTGGAGGGCAGCG</text>
<rect x="317.40" y="555.10" width="4.09" height="5.50" fill="#1cdc1c"/>
<rect x="321.48" y="555.10" width="8.17" height="5.50" fill="#e6e64a"/>
<rect x="329.62" y="555.10" width="4.09" height="5.50" fill="#1c1ce6"/>
<rect x="333.70" y="555.10" width="4.09" height="5.50" fill="#1cdc1c"/>
<rect x="337.78" y="555.10" width="8.17" height="5.50" fill="#e6e64a"/>
<rect x="345.93" y="555.10" width="4.09" height="5.50" fill="#ee1c1c"/>
<rect x="350.00" y="555.10" width="4.09" height="5.50" fill="#1c1ce6"/>
<rect x="354.08" y="555.10" width="4.09" height="5.50" fill="#ee1c1c"/>
<rect x="358.15" y="555.10" width="4.09" height="5.50" fill="#e6e64a"/>
<rect x="362.23" y="555.10" width="4.09" height="5.50" fill="#1cdc1c"/>
<rect x="366.30" y="555.10" width="4.09" height="5.50" fill="#1c1ce6"/>
<rect x="370.38" y="555.10" width="8.17" height="5.50" fill="#ee1c1c"/>
<rect x="378.53" y="555.10" width="4.09" height="5.50" fill="#1cdc1c"/>
<rect x="382.60" y="555.10" width="4.09" height="5.50" fill="#e6e64a"/>
<rect x="386.68" y="555.10" width="4.09" height="5.50" fill="#1cdc1c"/>
<rect x="390.75" y="555.10" width="8.17" height="5.50" fill="#e6e64a"/>
<rect x="398.90" y="555.10" width="4.09" height="5.50" fill="#ee1c1c"/>
<rect x="402.98" y="555.10" width="12.25" height="5.50" fill="#e6e64a"/>
<rect x="415.20" y="555.10" width="4.09" height="5.50" fill="#1c1ce6"/>
<rect x="419.28" y="555.10" width="4.09" height="5.50" fill="#ee1c1c"/>
<rect x="423.35" y="555.10" width="4.09" height="5.50" fill="#e6e64a"/>
<rect x="427.43" y="555.10" width="4.09" height="5.50" fill="#1c1ce6"/>
<rect x="431.50" y="555.10" width="4.09" height="5.50" fill="#e6e64a"/>
<text x="319.44 323.51 327.59 331.66 335.74 339.81 343.89 347.96 352.04 356.11 360.19 364.26 368.34 372.41 376.49 380.56 384.64 388.71 392.79 396.86 400.94 405.01 409.09 413.16 417.24 421.31 425.39 429.46 433.54" y="559.70" font-size="5.1" font-weight="bold" text-anchor="middle" fill="#000" opacity="0.8">TGGCTGGACAGTCAATGTGGAGGGCAGCG</text>
<rect x="82.54" y="538.95" width="1.10" height="0.90" fill="#6a6a6a"/>
<rect x="86.61" y="538.95" width="1.10" height="0.90" fill="#6a6a6a"/>
<rect x="90.69" y="538.95" width="1.10" height="0.90" fill="#6a6a6a"/>
<rect x="94.76" y="538.95" width="1.10" height="0.90" fill="#6a6a6a"/>
<rect x="98.84" y="538.95" width="1.10" height="0.90" fill="#6a6a6a"/>
<rect x="102.91" y="538.95" width="1.10" height="0.90" fill="#6a6a6a"/>
<rect x="106.99" y="538.95" width="1.10" height="0.90" fill="#6a6a6a"/>
<rect x="111.06" y="538.95" width="1.10" height="0.90" fill="#6a6a6a"/>
<rect x="115.14" y="538.95" width="1.10" height="0.90" fill="#6a6a6a"/>
<rect x="119.21" y="538.95" width="1.10" height="0.90" fill="#6a6a6a"/>
<rect x="123.29" y="538.95" width="1.10" height="0.90" fill="#6a6a6a"/>
<rect x="127.36" y="538.95" width="1.10" height="0.90" fill="#6a6a6a"/>
<rect x="131.44" y="538.95" width="1.10" height="0.90" fill="#6a6a6a"/>
<rect x="135.51" y="538.95" width="1.10" height="0.90" fill="#6a6a6a"/>
<rect x="139.59" y="538.95" width="1.10" height="0.90" fill="#6a6a6a"/>
<rect x="143.66" y="538.95" width="1.10" height="0.90" fill="#6a6a6a"/>
<rect x="147.74" y="538.95" width="1.10" height="0.90" fill="#6a6a6a"/>
<rect x="151.81" y="538.95" width="1.10" height="0.90" fill="#6a6a6a"/>
<rect x="155.89" y="538.95" width="1.10" height="0.90" fill="#6a6a6a"/>
<rect x="159.96" y="538.95" width="1.10" height="0.90" fill="#6a6a6a"/>
<rect x="164.04" y="538.95" width="1.10" height="0.90" fill="#6a6a6a"/>
<rect x="168.11" y="538.95" width="1.10" height="0.90" fill="#6a6a6a"/>
<rect x="172.19" y="538.95" width="1.10" height="0.90" fill="#6a6a6a"/>
<rect x="176.26" y="538.95" width="1.10" height="0.90" fill="#6a6a6a"/>
<rect x="180.34" y="538.95" width="1.10" height="0.90" fill="#6a6a6a"/>
<rect x="184.41" y="538.95" width="1.10" height="0.90" fill="#6a6a6a"/>
<rect x="188.49" y="538.95" width="1.10" height="0.90" fill="#6a6a6a"/>
<rect x="192.56" y="538.95" width="1.10" height="0.90" fill="#6a6a6a"/>
<rect x="196.64" y="538.95" width="1.10" height="0.90" fill="#6a6a6a"/>
<rect x="200.71" y="538.95" width="1.10" height="0.90" fill="#6a6a6a"/>
<rect x="204.79" y="538.95" width="1.10" height="0.90" fill="#6a6a6a"/>
<rect x="208.86" y="538.95" width="1.10" height="0.90" fill="#6a6a6a"/>
<rect x="212.94" y="538.95" width="1.10" height="0.90" fill="#6a6a6a"/>
<rect x="217.01" y="538.95" width="1.10" height="0.90" fill="#6a6a6a"/>
<rect x="221.09" y="538.95" width="1.10" height="0.90" fill="#6a6a6a"/>
<rect x="225.16" y="538.95" width="1.10" height="0.90" fill="#6a6a6a"/>
<rect x="229.24" y="538.95" width="1.10" height="0.90" fill="#6a6a6a"/>
<rect x="233.31" y="538.95" width="1.10" height="0.90" fill="#6a6a6a"/>
<rect x="237.39" y="538.95" width="1.10" height="0.90" fill="#6a6a6a"/>
<rect x="241.46" y="538.95" width="1.10" height="0.90" fill="#6a6a6a"/>
<rect x="245.54" y="538.95" width="1.10" height="0.90" fill="#6a6a6a"/>
<rect x="249.61" y="538.95" width="1.10" height="0.90" fill="#6a6a6a"/>
<rect x="253.69" y="538.95" width="1.10" height="0.90" fill="#6a6a6a"/>
<rect x="257.76" y="538.95" width="1.10" height="0.90" fill="#6a6a6a"/>
<rect x="261.84" y="538.95" width="1.10" height="0.90" fill="#6a6a6a"/>
<rect x="265.91" y="538.95" width="1.10" height="0.90" fill="#6a6a6a"/>
<rect x="269.99" y="538.95" width="1.10" height="0.90" fill="#6a6a6a"/>
<rect x="274.06" y="538.95" width="1.10" height="0.90" fill="#6a6a6a"/>
<rect x="278.14" y="538.95" width="1.10" height="0.90" fill="#6a6a6a"/>
<rect x="282.21" y="538.95" width="1.10" height="0.90" fill="#6a6a6a"/>
<rect x="286.29" y="538.95" width="1.10" height="0.90" fill="#6a6a6a"/>
<rect x="290.36" y="538.95" width="1.10" height="0.90" fill="#6a6a6a"/>
<rect x="294.44" y="538.95" width="1.10" height="0.90" fill="#6a6a6a"/>
<rect x="298.51" y="538.95" width="1.10" height="0.90" fill="#6a6a6a"/>
<rect x="302.59" y="538.95" width="1.10" height="0.90" fill="#6a6a6a"/>
<rect x="306.66" y="538.95" width="1.10" height="0.90" fill="#6a6a6a"/>
<rect x="310.74" y="538.95" width="1.10" height="0.90" fill="#6a6a6a"/>
<rect x="314.81" y="538.95" width="1.10" height="0.90" fill="#6a6a6a"/>
<rect x="82.54" y="548.85" width="1.10" height="0.90" fill="#6a6a6a"/>
<rect x="86.61" y="548.85" width="1.10" height="0.90" fill="#6a6a6a"/>
<rect x="90.69" y="548.85" width="1.10" height="0.90" fill="#6a6a6a"/>
<rect x="94.76" y="548.85" width="1.10" height="0.90" fill="#6a6a6a"/>
<rect x="98.84" y="548.85" width="1.10" height="0.90" fill="#6a6a6a"/>
<rect x="102.91" y="548.85" width="1.10" height="0.90" fill="#6a6a6a"/>
<rect x="106.99" y="548.85" width="1.10" height="0.90" fill="#6a6a6a"/>
<rect x="111.06" y="548.85" width="1.10" height="0.90" fill="#6a6a6a"/>
<rect x="115.14" y="548.85" width="1.10" height="0.90" fill="#6a6a6a"/>
<rect x="119.21" y="548.85" width="1.10" height="0.90" fill="#6a6a6a"/>
<rect x="123.29" y="548.85" width="1.10" height="0.90" fill="#6a6a6a"/>
<rect x="127.36" y="548.85" width="1.10" height="0.90" fill="#6a6a6a"/>
<rect x="131.44" y="548.85" width="1.10" height="0.90" fill="#6a6a6a"/>
<rect x="135.51" y="548.85" width="1.10" height="0.90" fill="#6a6a6a"/>
<rect x="139.59" y="548.85" width="1.10" height="0.90" fill="#6a6a6a"/>
<rect x="143.66" y="548.85" width="1.10" height="0.90" fill="#6a6a6a"/>
<rect x="147.74" y="548.85" width="1.10" height="0.90" fill="#6a6a6a"/>
<rect x="151.81" y="548.85" width="1.10" height="0.90" fill="#6a6a6a"/>
<rect x="155.89" y="548.85" width="1.10" height="0.90" fill="#6a6a6a"/>
<rect x="159.96" y="548.85" width="1.10" height="0.90" fill="#6a6a6a"/>
<rect x="164.04" y="548.85" width="1.10" height="0.90" fill="#6a6a6a"/>
<rect x="168.11" y="548.85" width="1.10" height="0.90" fill="#6a6a6a"/>
<rect x="172.19" y="548.85" width="1.10" height="0.90" fill="#6a6a6a"/>
<rect x="176.26" y="548.85" width="1.10" height="0.90" fill="#6a6a6a"/>
<rect x="180.34" y="548.85" width="1.10" height="0.90" fill="#6a6a6a"/>
<rect x="184.41" y="548.85" width="1.10" height="0.90" fill="#6a6a6a"/>
<rect x="188.49" y="548.85" width="1.10" height="0.90" fill="#6a6a6a"/>
<rect x="192.56" y="548.85" width="1.10" height="0.90" fill="#6a6a6a"/>
<rect x="196.64" y="548.85" width="1.10" height="0.90" fill="#6a6a6a"/>
<rect x="200.71" y="548.85" width="1.10" height="0.90" fill="#6a6a6a"/>
<rect x="204.79" y="548.85" width="1.10" height="0.90" fill="#6a6a6a"/>
<rect x="208.86" y="548.85" width="1.10" height="0.90" fill="#6a6a6a"/>
<rect x="212.94" y="548.85" width="1.10" height="0.90" fill="#6a6a6a"/>
<rect x="217.01" y="548.85" width="1.10" height="0.90" fill="#6a6a6a"/>
<rect x="221.09" y="548.85" width="1.10" height="0.90" fill="#6a6a6a"/>
<rect x="225.16" y="548.85" width="1.10" height="0.90" fill="#6a6a6a"/>
<rect x="229.24" y="548.85" width="1.10" height="0.90" fill="#6a6a6a"/>
<rect x="233.31" y="548.85" width="1.10" height="0.90" fill="#6a6a6a"/>
<rect x="237.39" y="548.85" width="1.10" height="0.90" fill="#6a6a6a"/>
<rect x="241.46" y="548.85" width="1.10" height="0.90" fill="#6a6a6a"/>
<rect x="245.54" y="548.85" width="1.10" height="0.90" fill="#6a6a6a"/>
<rect x="249.61" y="548.85" width="1.10" height="0.90" fill="#6a6a6a"/>
<rect x="253.69" y="548.85" width="1.10" height="0.90" fill="#6a6a6a"/>
<rect x="257.76" y="548.85" width="1.10" height="0.90" fill="#6a6a6a"/>
<rect x="261.84" y="548.85" width="1.10" height="0.90" fill="#6a6a6a"/>
<rect x="265.91" y="548.85" width="1.10" height="0.90" fill="#6a6a6a"/>
<rect x="269.99" y="548.85" width="1.10" height="0.90" fill="#6a6a6a"/>
<rect x="274.06" y="548.85" width="1.10" height="0.90" fill="#6a6a6a"/>
<rect x="278.14" y="548.85" width="1.10" height="0.90" fill="#6a6a6a"/>
<rect x="282.21" y="548.85" width="1.10" height="0.90" fill="#6a6a6a"/>
<rect x="286.29" y="548.85" width="1.10" height="0.90" fill="#6a6a6a"/>
<rect x="290.36" y="548.85" width="1.10" height="0.90" fill="#6a6a6a"/>
<rect x="294.44" y="548.85" width="1.10" height="0.90" fill="#6a6a6a"/>
<rect x="298.51" y="548.85" width="1.10" height="0.90" fill="#6a6a6a"/>
<rect x="302.59" y="548.85" width="1.10" height="0.90" fill="#6a6a6a"/>
<rect x="306.66" y="548.85" width="1.10" height="0.90" fill="#6a6a6a"/>
<rect x="310.74" y="548.85" width="1.10" height="0.90" fill="#6a6a6a"/>
<rect x="314.81" y="548.85" width="1.10" height="0.90" fill="#6a6a6a"/>
<rect x="82.54" y="557.95" width="1.10" height="0.90" fill="#6a6a6a"/>
<rect x="86.61" y="557.95" width="1.10" height="0.90" fill="#6a6a6a"/>
<rect x="90.69" y="557.95" width="1.10" height="0.90" fill="#6a6a6a"/>
<rect x="94.76" y="557.95" width="1.10" height="0.90" fill="#6a6a6a"/>
<rect x="98.84" y="557.95" width="1.10" height="0.90" fill="#6a6a6a"/>
<rect x="102.91" y="557.95" width="1.10" height="0.90" fill="#6a6a6a"/>
<rect x="106.99" y="557.95" width="1.10" height="0.90" fill="#6a6a6a"/>
<rect x="111.06" y="557.95" width="1.10" height="0.90" fill="#6a6a6a"/>
<rect x="115.14" y="557.95" width="1.10" height="0.90" fill="#6a6a6a"/>
<rect x="119.21" y="557.95" width="1.10" height="0.90" fill="#6a6a6a"/>
<rect x="123.29" y="557.95" width="1.10" height="0.90" fill="#6a6a6a"/>
<rect x="127.36" y="557.95" width="1.10" height="0.90" fill="#6a6a6a"/>
<rect x="131.44" y="557.95" width="1.10" height="0.90" fill="#6a6a6a"/>
<rect x="135.51" y="557.95" width="1.10" height="0.90" fill="#6a6a6a"/>
<rect x="139.59" y="557.95" width="1.10" height="0.90" fill="#6a6a6a"/>
<rect x="143.66" y="557.95" width="1.10" height="0.90" fill="#6a6a6a"/>
<rect x="147.74" y="557.95" width="1.10" height="0.90" fill="#6a6a6a"/>
<rect x="151.81" y="557.95" width="1.10" height="0.90" fill="#6a6a6a"/>
<rect x="155.89" y="557.95" width="1.10" height="0.90" fill="#6a6a6a"/>
<rect x="159.96" y="557.95" width="1.10" height="0.90" fill="#6a6a6a"/>
<rect x="164.04" y="557.95" width="1.10" height="0.90" fill="#6a6a6a"/>
<rect x="168.11" y="557.95" width="1.10" height="0.90" fill="#6a6a6a"/>
<rect x="172.19" y="557.95" width="1.10" height="0.90" fill="#6a6a6a"/>
<rect x="176.26" y="557.95" width="1.10" height="0.90" fill="#6a6a6a"/>
<rect x="180.34" y="557.95" width="1.10" height="0.90" fill="#6a6a6a"/>
<rect x="184.41" y="557.95" width="1.10" height="0.90" fill="#6a6a6a"/>
<rect x="188.49" y="557.95" width="1.10" height="0.90" fill="#6a6a6a"/>
<rect x="192.56" y="557.95" width="1.10" height="0.90" fill="#6a6a6a"/>
<rect x="196.64" y="557.95" width="1.10" height="0.90" fill="#6a6a6a"/>
<rect x="200.71" y="557.95" width="1.10" height="0.90" fill="#6a6a6a"/>
<rect x="204.79" y="557.95" width="1.10" height="0.90" fill="#6a6a6a"/>
<rect x="208.86" y="557.95" width="1.10" height="0.90" fill="#6a6a6a"/>
<rect x="212.94" y="557.95" width="1.10" height="0.90" fill="#6a6a6a"/>
<rect x="217.01" y="557.95" width="1.10" height="0.90" fill="#6a6a6a"/>
<rect x="221.09" y="557.95" width="1.10" height="0.90" fill="#6a6a6a"/>
<rect x="225.16" y="557.95" width="1.10" height="0.90" fill="#6a6a6a"/>
<rect x="229.24" y="557.95" width="1.10" height="0.90" fill="#6a6a6a"/>
<rect x="233.31" y="557.95" width="1.10" height="0.90" fill="#6a6a6a"/>
<rect x="237.39" y="557.95" width="1.10" height="0.90" fill="#6a6a6a"/>
<rect x="241.46" y="557.95" width="1.10" height="0.90" fill="#6a6a6a"/>
<rect x="245.54" y="557.95" width="1.10" height="0.90" fill="#6a6a6a"/>
<rect x="249.61" y="557.95" width="1.10" height="0.90" fill="#6a6a6a"/>
<rect x="253.69" y="557.95" width="1.10" height="0.90" fill="#6a6a6a"/>
<rect x="257.76" y="557.95" width="1.10" height="0.90" fill="#6a6a6a"/>
<rect x="261.84" y="557.95" width="1.10" height="0.90" fill="#6a6a6a"/>
<rect x="265.91" y="557.95" width="1.10" height="0.90" fill="#6a6a6a"/>
<rect x="269.99" y="557.95" width="1.10" height="0.90" fill="#6a6a6a"/>
<rect x="274.06" y="557.95" width="1.10" height="0.90" fill="#6a6a6a"/>
<rect x="278.14" y="557.95" width="1.10" height="0.90" fill="#6a6a6a"/>
<rect x="282.21" y="557.95" width="1.10" height="0.90" fill="#6a6a6a"/>
<rect x="286.29" y="557.95" width="1.10" height="0.90" fill="#6a6a6a"/>
<rect x="290.36" y="557.95" width="1.10" height="0.90" fill="#6a6a6a"/>
<rect x="294.44" y="557.95" width="1.10" height="0.90" fill="#6a6a6a"/>
<rect x="298.51" y="557.95" width="1.10" height="0.90" fill="#6a6a6a"/>
<rect x="302.59" y="557.95" width="1.10" height="0.90" fill="#6a6a6a"/>
<rect x="306.66" y="557.95" width="1.10" height="0.90" fill="#6a6a6a"/>
<rect x="310.74" y="557.95" width="1.10" height="0.90" fill="#6a6a6a"/>
<rect x="314.81" y="557.95" width="1.10" height="0.90" fill="#6a6a6a"/>
<rect x="81.05" y="564.40" width="236.35" height="12.20" fill="#e8e8e8"/>
<rect x="81.05" y="564.40" width="236.35" height="1.20" fill="#8f8f8f"/>
<rect x="81.50" y="573.00" width="3.18" height="2.80" fill="#f29a9a"/>
<rect x="85.58" y="573.00" width="3.18" height="2.80" fill="#f29a9a"/>
<rect x="89.65" y="573.00" width="3.18" height="2.80" fill="#f29a9a"/>
<rect x="93.73" y="573.00" width="3.18" height="2.80" fill="#f29a9a"/>
<rect x="97.80" y="573.00" width="3.18" height="2.80" fill="#f29a9a"/>
<rect x="101.88" y="573.00" width="3.18" height="2.80" fill="#f29a9a"/>
<rect x="105.95" y="573.00" width="3.18" height="2.80" fill="#f29a9a"/>
<rect x="110.03" y="573.00" width="3.18" height="2.80" fill="#f29a9a"/>
<rect x="114.10" y="573.00" width="3.18" height="2.80" fill="#f29a9a"/>
<rect x="118.17" y="573.00" width="3.18" height="2.80" fill="#f29a9a"/>
<rect x="122.25" y="573.00" width="3.18" height="2.80" fill="#f29a9a"/>
<rect x="126.33" y="573.00" width="3.18" height="2.80" fill="#f29a9a"/>
<rect x="130.40" y="573.00" width="3.18" height="2.80" fill="#f29a9a"/>
<rect x="134.47" y="573.00" width="3.18" height="2.80" fill="#f29a9a"/>
<rect x="138.55" y="573.00" width="3.18" height="2.80" fill="#f29a9a"/>
<rect x="142.62" y="573.00" width="3.18" height="2.80" fill="#f29a9a"/>
<rect x="146.70" y="573.00" width="3.18" height="2.80" fill="#f29a9a"/>
<rect x="150.77" y="573.00" width="3.18" height="2.80" fill="#f29a9a"/>
<rect x="154.85" y="573.00" width="3.18" height="2.80" fill="#f29a9a"/>
<rect x="158.92" y="573.00" width="3.18" height="2.80" fill="#f29a9a"/>
<rect x="163.00" y="573.00" width="3.18" height="2.80" fill="#f29a9a"/>
<rect x="167.07" y="573.00" width="3.18" height="2.80" fill="#f29a9a"/>
<rect x="171.15" y="573.00" width="3.18" height="2.80" fill="#f29a9a"/>
<rect x="175.22" y="573.00" width="3.18" height="2.80" fill="#f29a9a"/>
<rect x="179.30" y="573.00" width="3.18" height="2.80" fill="#f29a9a"/>
<rect x="183.38" y="573.00" width="3.18" height="2.80" fill="#f29a9a"/>
<rect x="187.45" y="573.00" width="3.18" height="2.80" fill="#f29a9a"/>
<rect x="191.52" y="573.00" width="3.18" height="2.80" fill="#f29a9a"/>
<rect x="195.60" y="573.00" width="3.18" height="2.80" fill="#f29a9a"/>
<rect x="199.68" y="573.00" width="3.18" height="2.80" fill="#f29a9a"/>
<rect x="203.75" y="573.00" width="3.18" height="2.80" fill="#f29a9a"/>
<rect x="207.82" y="573.00" width="3.18" height="2.80" fill="#f29a9a"/>
<rect x="211.90" y="573.00" width="3.18" height="2.80" fill="#f29a9a"/>
<rect x="215.97" y="573.00" width="3.18" height="2.80" fill="#f29a9a"/>
<rect x="220.05" y="573.00" width="3.18" height="2.80" fill="#f29a9a"/>
<rect x="224.12" y="573.00" width="3.18" height="2.80" fill="#f29a9a"/>
<rect x="228.20" y="573.00" width="3.18" height="2.80" fill="#f29a9a"/>
<rect x="232.27" y="573.00" width="3.18" height="2.80" fill="#f29a9a"/>
<rect x="236.35" y="573.00" width="3.18" height="2.80" fill="#f29a9a"/>
<rect x="240.43" y="573.00" width="3.18" height="2.80" fill="#f29a9a"/>
<rect x="244.50" y="573.00" width="3.18" height="2.80" fill="#f29a9a"/>
<rect x="248.57" y="573.00" width="3.18" height="2.80" fill="#f29a9a"/>
<rect x="252.65" y="573.00" width="3.18" height="2.80" fill="#f29a9a"/>
<rect x="256.72" y="573.00" width="3.18" height="2.80" fill="#f29a9a"/>
<rect x="260.80" y="573.00" width="3.18" height="2.80" fill="#f29a9a"/>
<rect x="264.88" y="573.00" width="3.18" height="2.80" fill="#f29a9a"/>
<rect x="268.95" y="573.00" width="3.18" height="2.80" fill="#f29a9a"/>
<rect x="273.02" y="573.00" width="3.18" height="2.80" fill="#f29a9a"/>
<rect x="277.10" y="573.00" width="3.18" height="2.80" fill="#f29a9a"/>
<rect x="281.18" y="573.00" width="3.18" height="2.80" fill="#f29a9a"/>
<rect x="285.25" y="573.00" width="3.18" height="2.80" fill="#f29a9a"/>
<rect x="289.32" y="573.00" width="3.18" height="2.80" fill="#f29a9a"/>
<rect x="293.40" y="573.00" width="3.18" height="2.80" fill="#f29a9a"/>
<rect x="297.48" y="573.00" width="3.18" height="2.80" fill="#f29a9a"/>
<rect x="301.55" y="573.00" width="3.18" height="2.80" fill="#f29a9a"/>
<rect x="305.62" y="573.00" width="3.18" height="2.80" fill="#f29a9a"/>
<rect x="309.70" y="573.00" width="3.18" height="2.80" fill="#f29a9a"/>
<rect x="313.77" y="573.00" width="3.18" height="2.80" fill="#f29a9a"/>
<rect x="317.40" y="564.40" width="118.18" height="12.20" fill="#ffb0b0"/>
<rect x="320.83" y="564.90" width="1.30" height="11.20" fill="#a89a9a"/>
<rect x="324.90" y="564.90" width="1.30" height="11.20" fill="#a89a9a"/>
<rect x="328.98" y="564.90" width="1.30" height="11.20" fill="#a89a9a"/>
<rect x="333.05" y="564.90" width="1.30" height="11.20" fill="#a89a9a"/>
<rect x="337.13" y="564.90" width="1.30" height="11.20" fill="#a89a9a"/>
<rect x="341.20" y="564.90" width="1.30" height="11.20" fill="#a89a9a"/>
<rect x="345.28" y="564.90" width="1.30" height="11.20" fill="#a89a9a"/>
<rect x="349.35" y="564.90" width="1.30" height="11.20" fill="#a89a9a"/>
<rect x="353.43" y="564.90" width="1.30" height="11.20" fill="#a89a9a"/>
<rect x="357.50" y="564.90" width="1.30" height="11.20" fill="#a89a9a"/>
<rect x="361.58" y="564.90" width="1.30" height="11.20" fill="#a89a9a"/>
<rect x="365.65" y="564.90" width="1.30" height="11.20" fill="#a89a9a"/>
<rect x="369.73" y="564.90" width="1.30" height="11.20" fill="#a89a9a"/>
<rect x="373.80" y="564.90" width="1.30" height="11.20" fill="#a89a9a"/>
<rect x="377.88" y="564.90" width="1.30" height="11.20" fill="#a89a9a"/>
<rect x="381.95" y="564.90" width="1.30" height="11.20" fill="#a89a9a"/>
<rect x="386.03" y="564.90" width="1.30" height="11.20" fill="#a89a9a"/>
<rect x="390.10" y="564.90" width="1.30" height="11.20" fill="#a89a9a"/>
<rect x="394.18" y="564.90" width="1.30" height="11.20" fill="#a89a9a"/>
<rect x="398.25" y="564.90" width="1.30" height="11.20" fill="#a89a9a"/>
<rect x="402.33" y="564.90" width="1.30" height="11.20" fill="#a89a9a"/>
<rect x="406.40" y="564.90" width="1.30" height="11.20" fill="#a89a9a"/>
<rect x="410.48" y="564.90" width="1.30" height="11.20" fill="#a89a9a"/>
<rect x="414.55" y="564.90" width="1.30" height="11.20" fill="#a89a9a"/>
<rect x="418.63" y="564.90" width="1.30" height="11.20" fill="#a89a9a"/>
<rect x="422.70" y="564.90" width="1.30" height="11.20" fill="#a89a9a"/>
<rect x="426.78" y="564.90" width="1.30" height="11.20" fill="#a89a9a"/>
<rect x="430.85" y="564.90" width="1.30" height="11.20" fill="#a89a9a"/>
<rect x="317.40" y="564.40" width="118.18" height="1.00" fill="#8a8a8a"/>
<rect x="317.40" y="575.70" width="118.18" height="0.90" fill="#9a9a9a"/>
<text x="453.4" y="526.7" font-size="7" fill="#222" stroke="#222" stroke-width="0.14">417</text>
<text x="453.4" y="535.4" font-size="7" fill="#222" stroke="#222" stroke-width="0.14">118</text>
<text x="453.4" y="543.7" font-size="7" fill="#222" stroke="#222" stroke-width="0.14">259</text>
<text x="453.4" y="552.3" font-size="7" fill="#222" stroke="#222" stroke-width="0.14">250</text>
<text x="453.4" y="561.0" font-size="7" fill="#222" stroke="#222" stroke-width="0.14">245</text>
<rect x="78.1" y="520.3" width="239.20" height="60" fill="none" stroke="#222" stroke-width="1.3"/>
<text x="312.8" y="514.4" font-size="6.6" text-anchor="middle" fill="#d84848" stroke="#d84848" stroke-width="0.14">IRE1</text>
<line x1="297.30" y1="517.80" x2="329.20" y2="517.80" stroke="#e06060" stroke-width="1.2"/>
<path d="M83.50,608.25 L103.80,608.25 L103.80,606.50 L108.00,610.40 L103.80,614.30 L103.80,612.55 L83.50,612.55 Z" fill="#52a03e" stroke="#3d8a30" stroke-width="0.4"/>
<path d="M108.40,608.25 L159.30,608.25 L159.30,606.50 L163.50,610.40 L159.30,614.30 L159.30,612.55 L108.40,612.55 Z" fill="#52a03e" stroke="#3d8a30" stroke-width="0.4"/>
<path d="M164.20,608.25 L201.30,608.25 L201.30,606.50 L205.50,610.40 L201.30,614.30 L201.30,612.55 L164.20,612.55 Z" fill="#52a03e" stroke="#3d8a30" stroke-width="0.4"/>
<path d="M205.90,608.25 L259.60,608.25 L259.60,606.50 L263.80,610.40 L259.60,614.30 L259.60,612.55 L205.90,612.55 Z" fill="#52a03e" stroke="#3d8a30" stroke-width="0.4"/>
<path d="M264.20,608.25 L282.60,608.25 L282.60,606.50 L286.80,610.40 L282.60,614.30 L282.60,612.55 L264.20,612.55 Z" fill="#52a03e" stroke="#3d8a30" stroke-width="0.4"/>
<path d="M287.20,608.25 L292.60,608.25 L292.60,606.50 L296.80,610.40 L292.60,614.30 L292.60,612.55 L287.20,612.55 Z" fill="#52a03e" stroke="#3d8a30" stroke-width="0.4"/>
<path d="M297.20,608.25 L310.80,608.25 L310.80,606.50 L315.00,610.40 L310.80,614.30 L310.80,612.55 L297.20,612.55 Z" fill="#52a03e" stroke="#3d8a30" stroke-width="0.4"/>
<path d="M315.40,608.25 L334.60,608.25 L334.60,606.50 L338.80,610.40 L334.60,614.30 L334.60,612.55 L315.40,612.55 Z" fill="#52a03e" stroke="#3d8a30" stroke-width="0.4"/>
<path d="M339.20,608.25 L355.80,608.25 L355.80,606.50 L360.00,610.40 L355.80,614.30 L355.80,612.55 L339.20,612.55 Z" fill="#52a03e" stroke="#3d8a30" stroke-width="0.4"/>
<path d="M360.40,608.25 L371.30,608.25 L371.30,606.50 L375.50,610.40 L371.30,614.30 L371.30,612.55 L360.40,612.55 Z" fill="#52a03e" stroke="#3d8a30" stroke-width="0.4"/>
<path d="M375.90,608.25 L382.60,608.25 L382.60,606.50 L386.80,610.40 L382.60,614.30 L382.60,612.55 L375.90,612.55 Z" fill="#52a03e" stroke="#3d8a30" stroke-width="0.4"/>
<path d="M387.20,608.25 L394.60,608.25 L394.60,606.50 L398.80,610.40 L394.60,614.30 L394.60,612.55 L387.20,612.55 Z" fill="#52a03e" stroke="#3d8a30" stroke-width="0.4"/>
<path d="M399.20,608.25 L414.40,608.25 L414.40,606.50 L418.60,610.40 L414.40,614.30 L414.40,612.55 L399.20,612.55 Z" fill="#52a03e" stroke="#3d8a30" stroke-width="0.4"/>
<path d="M419.00,608.25 L436.50,608.25 L436.50,606.50 L440.70,610.40 L436.50,614.30 L436.50,612.55 L419.00,612.55 Z" fill="#52a03e" stroke="#3d8a30" stroke-width="0.4"/>
<path d="M441.10,608.25 L478.80,608.25 L478.80,606.50 L483.00,610.40 L478.80,614.30 L478.80,612.55 L441.10,612.55 Z" fill="#52a03e" stroke="#3d8a30" stroke-width="0.4"/>
<rect x="149.50" y="608.25" width="5.60" height="4.30" fill="#7449a4"/>
<rect x="186.20" y="608.25" width="6.80" height="4.30" fill="#7449a4"/>
<rect x="224.30" y="608.25" width="5.70" height="4.30" fill="#7449a4"/>
<rect x="130.50" y="602.20" width="26.70" height="3.30" fill="#8b2c32"/>
<text x="160.8" y="603.2" font-size="7" fill="#a8384a" stroke="#a8384a" stroke-width="0.14">ex2part (130 nt del)</text>
<text x="127.2" y="619.8" font-size="6.7" text-anchor="middle" fill="#222" stroke="#222" stroke-width="0.14">200</text>
<text x="169.1" y="619.8" font-size="6.7" text-anchor="middle" fill="#222" stroke="#222" stroke-width="0.14">400</text>
<text x="210.75" y="619.8" font-size="6.7" text-anchor="middle" fill="#222" stroke="#222" stroke-width="0.14">600</text>
<text x="252.5" y="619.8" font-size="6.7" text-anchor="middle" fill="#222" stroke="#222" stroke-width="0.14">800</text>
<text x="293.75" y="619.8" font-size="6.7" text-anchor="middle" fill="#222" stroke="#222" stroke-width="0.14">1000</text>
<text x="337" y="619.8" font-size="6.7" text-anchor="middle" fill="#222" stroke="#222" stroke-width="0.14">1200</text>
<text x="378.75" y="619.8" font-size="6.7" text-anchor="middle" fill="#222" stroke="#222" stroke-width="0.14">1400</text>
<text x="420.75" y="619.8" font-size="6.7" text-anchor="middle" fill="#222" stroke="#222" stroke-width="0.14">1600</text>
<text x="461.8" y="619.8" font-size="6.7" text-anchor="middle" fill="#222" stroke="#222" stroke-width="0.14">1800</text>
<text x="81" y="612.6" font-size="7" text-anchor="end" fill="#222" stroke="#222" stroke-width="0.14">mRNA, <tspan font-style="italic">CD19</tspan> WT</text>
<text x="81" y="625.0" font-size="7" text-anchor="end" fill="#222" stroke="#222" stroke-width="0.14">ORF, WT M1</text>
<text x="81" y="637.0" font-size="7" text-anchor="end" fill="#222" stroke="#222" stroke-width="0.14">ORF, ex2part M1</text>
<text x="81" y="648.3" font-size="7" text-anchor="end" fill="#222" stroke="#222" stroke-width="0.14">ORF, ex2part M152</text>
<path d="M90.00,620.60 L433.70,620.60 L433.70,619.10 L438.00,622.70 L433.70,626.30 L433.70,624.80 L90.00,624.80 Z" fill="#d3d21e"/>
<rect x="89.30" y="631.80" width="41.50" height="4.50" fill="#d3d21e"/>
<path d="M130.50,631.85 L139.60,631.85 L139.60,630.50 L143.40,634.10 L139.60,637.70 L139.60,636.35 L130.50,636.35 Z" fill="#e25c5c"/>
<path d="M184.30,643.95 L433.70,643.95 L433.70,642.30 L438.00,645.90 L433.70,649.50 L433.70,647.85 L184.30,647.85 Z" fill="#d3d21e"/>
<rect x="83.00" y="660.50" width="11.50" height="4.00" fill="#7449a4"/>
<text x="98" y="665.0" font-size="7.2" fill="#222" stroke="#222" stroke-width="0.14">Blina epitope loop</text>
<path d="M174.50,660.40 L184.80,660.40 L184.80,658.70 L189.00,662.50 L184.80,666.30 L184.80,664.60 L174.50,664.60 Z" fill="#52a03e" stroke="#3d8a30" stroke-width="0.4"/>
<text x="192.5" y="665.0" font-size="7.2" fill="#222" stroke="#222" stroke-width="0.14">exon</text>
<path d="M222.00,660.40 L232.80,660.40 L232.80,658.70 L237.00,662.50 L232.80,666.30 L232.80,664.60 L222.00,664.60 Z" fill="#d3d21e"/>
<text x="240.5" y="665.0" font-size="7.2" fill="#222" stroke="#222" stroke-width="0.14">ORF, in-frame</text>
<path d="M302.50,660.40 L313.30,660.40 L313.30,658.70 L317.50,662.50 L313.30,666.30 L313.30,664.60 L302.50,664.60 Z" fill="#e25c5c"/>
<text x="320.8" y="665.0" font-size="7.2" fill="#222" stroke="#222" stroke-width="0.14">ORF, out-of-frame</text>
</svg>
</body></html>
